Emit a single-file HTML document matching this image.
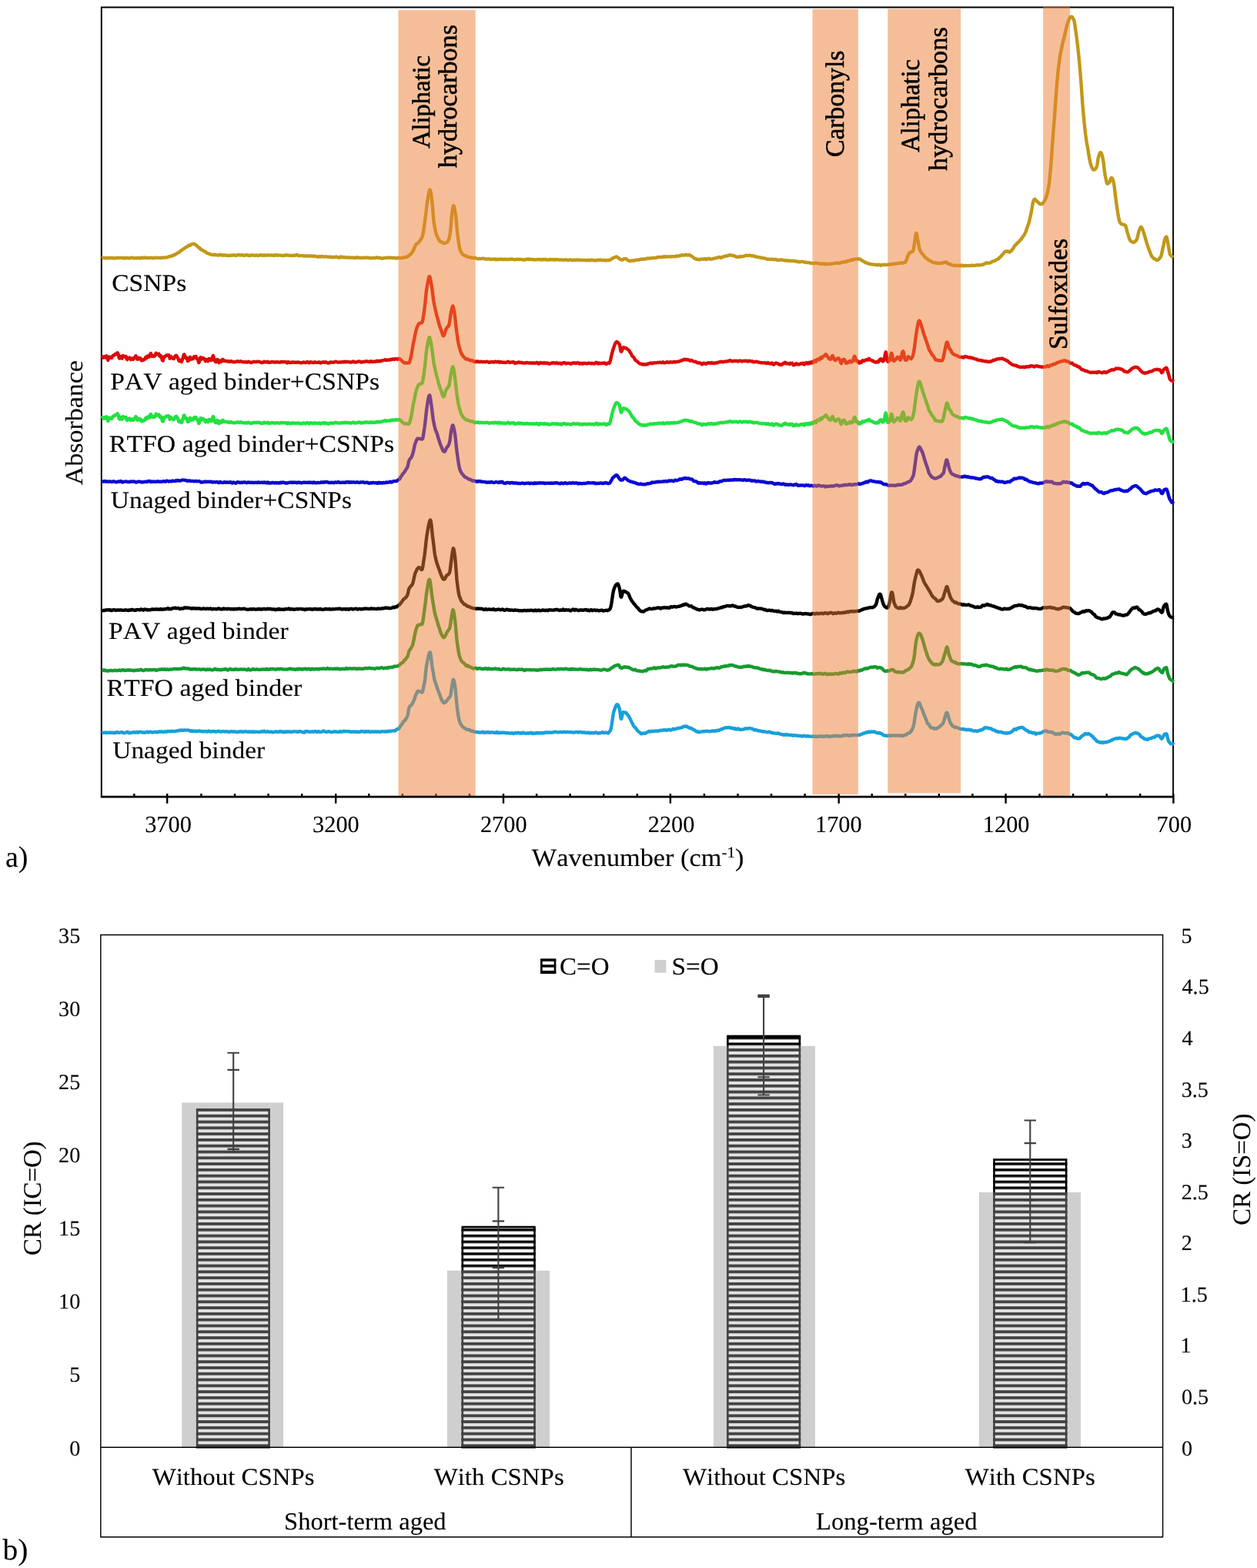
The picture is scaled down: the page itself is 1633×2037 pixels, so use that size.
<!DOCTYPE html>
<html lang="en"><head><meta charset="utf-8"><title>FTIR spectra and carbonyl / sulfoxide change rates</title>
<style>html,body{margin:0;padding:0;background:#fff}body{width:1633px;height:2037px;overflow:hidden}svg{display:block}text{font-family:'Liberation Serif', 'DejaVu Serif', serif;fill:#000;font-kerning:none;text-rendering:geometricPrecision;stroke:#000;stroke-width:0.1px}.bl{stroke-width:0.6px}</style></head><body>
<svg width="1633" height="2037" viewBox="0 0 1633 2037">
<defs><pattern id="hatch" patternUnits="userSpaceOnUse" x="0" y="-0.98" width="40" height="7.79"><rect x="0" y="0" width="40" height="7.79" fill="#fff"/><rect x="0" y="0" width="40" height="3.5" fill="#000"/></pattern></defs>
<defs><pattern id="hatch2" patternUnits="userSpaceOnUse" x="0" y="-1.13" width="40" height="7.79"><rect x="0" y="0" width="40" height="7.79" fill="#E2E2E2"/><rect x="0" y="0" width="40" height="3.8" fill="#424242"/></pattern></defs>
<rect x="0" y="0" width="1633" height="2037" fill="#fff"/>
<g id="chart-a">
<path d="M131.8,1035.1 V9.5 H1524.1 V1035.1" fill="none" stroke="#000" stroke-width="1.9"/>
<path d="M174.34,1030.9 V1035.1 M217.2,1030.9 V1043.7 M261.46,1030.9 V1035.1 M305.03,1030.9 V1035.1 M348.59,1030.9 V1035.1 M392.15,1030.9 V1035.1 M436.2,1030.9 V1043.7 M479.28,1030.9 V1035.1 M522.84,1030.9 V1035.1 M566.41,1030.9 V1035.1 M609.97,1030.9 V1035.1 M654,1030.9 V1043.7 M697.1,1030.9 V1035.1 M740.66,1030.9 V1035.1 M784.22,1030.9 V1035.1 M827.79,1030.9 V1035.1 M870.9,1030.9 V1043.7 M914.91,1030.9 V1035.1 M958.48,1030.9 V1035.1 M1002.04,1030.9 V1035.1 M1045.6,1030.9 V1035.1 M1089.7,1030.9 V1043.7 M1132.73,1030.9 V1035.1 M1176.29,1030.9 V1035.1 M1219.86,1030.9 V1035.1 M1263.42,1030.9 V1035.1 M1306.6,1030.9 V1043.7 M1350.55,1030.9 V1035.1 M1394.11,1030.9 V1035.1 M1437.67,1030.9 V1035.1 M1481.24,1030.9 V1035.1 M1524.4,1030.9 V1043.7" fill="none" stroke="#000" stroke-width="2.4"/>
<g fill="none" stroke-width="4.4" stroke-linejoin="round" stroke-linecap="butt">
<path id="curve-gold" stroke="#C29818" d="M132.2,335.57 132.95,335.28 133.7,335.01 134.45,335.1 135.2,335.11 135.95,335.07 136.7,335.31 137.45,335.32 138.2,335.22 138.95,335.39 139.7,335.32 140.45,334.94 141.2,334.93 141.95,335.24 142.7,335.31 143.45,335.1 144.2,334.99 144.95,335.03 145.7,335.19 146.45,335.22 147.2,335.16 147.95,335.41 148.7,335.55 149.45,335.48 150.2,335.35 150.95,335.12 151.7,334.99 152.45,334.94 153.2,335.07 153.95,335.17 154.7,335.03 155.45,334.93 156.2,334.88 156.95,334.83 157.7,334.91 158.45,334.95 159.2,334.92 159.95,335.23 160.7,335.56 161.45,335.42 162.2,335.06 162.95,334.83 163.7,335.03 164.45,335.37 165.2,335.21 165.95,334.98 166.7,335.27 167.45,335.54 168.2,335.38 168.95,335.24 169.7,335.15 170.45,334.9 171.2,334.75 171.95,334.84 172.7,335.03 173.45,335.22 174.2,335.36 174.95,335.34 175.7,335.27 176.45,335.16 177.2,335.08 177.95,335.24 178.7,335.21 179.45,335.04 180.2,335.06 180.95,335.14 181.7,335.37 182.45,335.64 183.2,335.44 183.95,334.77 184.7,334.49 185.45,334.74 186.2,335.04 186.95,335.19 187.7,334.91 188.45,334.55 189.2,334.77 189.95,335.12 190.7,335.16 191.45,335.11 192.2,334.96 192.95,334.9 193.7,335 194.45,335.06 195.2,335.03 195.95,334.91 196.7,334.84 197.45,334.95 198.2,335.1 198.95,335.29 199.7,335.3 200.45,335.03 201.2,334.78 201.95,334.78 202.7,334.93 203.45,334.92 204.2,334.83 204.95,334.79 205.7,334.83 206.45,334.9 207.2,334.97 207.95,335.1 208.7,335.12 209.45,334.89 210.2,334.69 210.95,334.82 211.7,334.89 212.45,334.66 213.2,334.65 213.95,334.6 214.7,334.45 215.45,334.6 216.2,334.59 216.95,334.26 217.7,333.99 218.45,333.7 219.2,333.42 219.95,333.27 220.7,333.34 221.45,333.16 222.2,332.64 222.95,332.36 223.7,332.48 224.45,332.13 225.2,331.43 225.95,331.4 226.7,331.35 227.45,330.66 228.2,330.11 228.95,329.91 229.7,329.46 230.45,328.76 231.2,328.29 231.95,328.11 232.7,327.67 233.45,326.97 234.2,326.33 234.95,325.73 235.7,325.3 236.45,324.75 237.2,324.06 237.95,323.59 238.7,323.23 239.45,322.75 240.2,322.15 240.95,321.56 241.7,321.12 242.45,320.78 243.2,320.41 243.95,319.95 244.7,319.14 245.45,318.54 246.2,318.74 246.95,318.76 247.7,318.11 248.45,317.52 249.2,317.21 249.95,317.06 250.7,316.88 251.45,316.74 252.2,316.85 252.95,317.21 253.7,317.74 254.45,318.3 255.2,318.87 255.95,319.52 256.7,320.24 257.45,321.06 258.2,321.64 258.95,321.79 259.7,322.42 260.45,323.63 261.2,324.38 261.95,324.48 262.7,324.67 263.45,325.25 264.2,325.84 264.95,326.23 265.7,326.63 266.45,326.89 267.2,327.21 267.95,327.9 268.7,328.6 269.45,329.04 270.2,329.15 270.95,329.36 271.7,329.81 272.45,330.13 273.2,330.27 273.95,330.48 274.7,330.72 275.45,330.93 276.2,331.17 276.95,331.21 277.7,330.88 278.45,330.68 279.2,330.96 279.95,331.26 280.7,331.41 281.45,331.42 282.2,331.33 282.95,331.35 283.7,331.5 284.45,331.58 285.2,331.17 285.95,330.8 286.7,330.89 287.45,331.06 288.2,331.43 288.95,331.82 289.7,331.58 290.45,331.4 291.2,331.63 291.95,331.47 292.7,331.38 293.45,331.72 294.2,331.77 294.95,331.72 295.7,331.86 296.45,331.94 297.2,332 297.95,332.03 298.7,331.98 299.45,331.66 300.2,331.61 300.95,331.92 301.7,331.72 302.45,331.43 303.2,331.42 303.95,331.51 304.7,331.65 305.45,331.73 306.2,331.94 306.95,332.02 307.7,331.63 308.45,331.21 309.2,331.16 309.95,331.17 310.7,331.27 311.45,331.55 312.2,331.55 312.95,331.49 313.7,331.42 314.45,331.23 315.2,331.35 315.95,331.71 316.7,331.75 317.45,331.76 318.2,331.79 318.95,331.48 319.7,331.37 320.45,331.23 321.2,331.2 321.95,331.75 322.7,331.77 323.45,331.63 324.2,331.97 324.95,331.97 325.7,331.69 326.45,331.53 327.2,331.4 327.95,331.38 328.7,331.57 329.45,331.62 330.2,331.71 330.95,331.89 331.7,331.81 332.45,331.71 333.2,331.61 333.95,331.56 334.7,331.85 335.45,332.08 336.2,332 336.95,331.77 337.7,331.42 338.45,331.19 339.2,331.34 339.95,331.68 340.7,331.82 341.45,331.78 342.2,331.54 342.95,331.44 343.7,331.67 344.45,331.8 345.2,331.73 345.95,331.65 346.7,331.64 347.45,331.52 348.2,331.4 348.95,331.48 349.7,331.56 350.45,331.62 351.2,331.63 351.95,331.5 352.7,331.48 353.45,331.57 354.2,331.74 354.95,331.71 355.7,331.54 356.45,331.83 357.2,331.93 357.95,331.43 358.7,331.19 359.45,331.31 360.2,331.62 360.95,331.9 361.7,331.7 362.45,331.52 363.2,331.59 363.95,331.66 364.7,331.8 365.45,331.92 366.2,331.85 366.95,331.92 367.7,332.24 368.45,332.16 369.2,331.83 369.95,331.61 370.7,331.39 371.45,331.38 372.2,331.46 372.95,331.52 373.7,331.57 374.45,331.61 375.2,331.85 375.95,331.91 376.7,331.81 377.45,331.9 378.2,331.96 378.95,332.05 379.7,332.13 380.45,332 381.2,331.75 381.95,331.9 382.7,332.12 383.45,331.73 384.2,331.26 384.95,331.11 385.7,331.07 386.45,331.29 387.2,331.88 387.95,332.25 388.7,332.17 389.45,332.14 390.2,332.17 390.95,332.16 391.7,332.17 392.45,332.24 393.2,332.23 393.95,332.22 394.7,332.52 395.45,332.64 396.2,332.54 396.95,332.51 397.7,332.35 398.45,332.34 399.2,332.49 399.95,332.5 400.7,332.42 401.45,332.4 402.2,332.59 402.95,332.64 403.7,332.48 404.45,332.63 405.2,332.87 405.95,333.02 406.7,332.78 407.45,332.46 408.2,332.82 408.95,333.11 409.7,333.01 410.45,333.05 411.2,333.17 411.95,333.32 412.7,333.55 413.45,333.72 414.2,333.64 414.95,333.14 415.7,332.93 416.45,333.38 417.2,333.61 417.95,333.33 418.7,333.07 419.45,333.27 420.2,333.55 420.95,333.54 421.7,333.49 422.45,333.44 423.2,333.35 423.95,333.29 424.7,333.51 425.45,333.87 426.2,333.86 426.95,333.7 427.7,333.71 428.45,333.68 429.2,333.63 429.95,333.86 430.7,334.19 431.45,334.21 432.2,333.89 432.95,333.88 433.7,334.19 434.45,334.25 435.2,334.07 435.95,333.8 436.7,333.55 437.45,333.74 438.2,334.22 438.95,334.36 439.7,334.39 440.45,334.72 441.2,334.73 441.95,334.1 442.7,333.51 443.45,333.52 444.2,334 444.95,334.43 445.7,334.23 446.45,333.86 447.2,334.2 447.95,334.58 448.7,334.34 449.45,334.37 450.2,334.71 450.95,334.55 451.7,334.34 452.45,334.44 453.2,334.43 453.95,334.49 454.7,334.78 455.45,334.92 456.2,334.77 456.95,334.7 457.7,334.75 458.45,334.7 459.2,334.76 459.95,334.92 460.7,335.05 461.45,335.11 462.2,334.73 462.95,334.23 463.7,334.39 464.45,334.8 465.2,334.8 465.95,334.66 466.7,334.69 467.45,334.81 468.2,334.92 468.95,334.97 469.7,334.93 470.45,335.03 471.2,334.98 471.95,334.85 472.7,334.89 473.45,334.69 474.2,334.67 474.95,334.87 475.7,334.77 476.45,334.67 477.2,334.67 477.95,334.78 478.7,335.1 479.45,335.16 480.2,334.99 480.95,334.98 481.7,335.23 482.45,335.48 483.2,335.3 483.95,335.06 484.7,335.1 485.45,335.05 486.2,335.16 486.95,335.35 487.7,335.1 488.45,334.71 489.2,334.46 489.95,334.62 490.7,334.94 491.45,335.03 492.2,335 492.95,334.83 493.7,334.88 494.45,335.3 495.2,335.52 495.95,335.49 496.7,335.58 497.45,335.68 498.2,335.39 498.95,335.01 499.7,335.05 500.45,335.18 501.2,335.13 501.95,334.99 502.7,334.74 503.45,334.82 504.2,334.89 504.95,334.58 505.7,334.64 506.45,334.81 507.2,334.75 507.95,334.85 508.7,334.91 509.45,334.93 510.2,335.04 510.95,335.05 511.7,335.01 512.45,335 513.2,335.04 513.95,335.33 514.7,335.52 515.45,335.33 516.2,335.04 516.95,334.95 517.7,335.05 518.45,334.93 519.2,334.88 519.95,335.07 520.7,335.16 521.45,335.26 522.2,335.12 522.95,334.7 523.7,334.68 524.45,334.85 525.2,334.68 525.95,334.44 526.7,334.16 527.45,333.77 528.2,333.71 528.95,333.77 529.7,333.32 530.45,332.48 531.2,331.92 531.95,331.48 532.7,330.77 533.45,330.1 534.2,329.46 534.95,328.42 535.7,327.39 536.45,326.39 537.2,324.85 537.95,322.87 538.7,321.16 539.45,319.64 540.2,317.96 540.95,316.92 541.7,316.65 542.45,316.45 543.2,315.75 543.95,314.69 544.7,313.73 545.45,312.87 546.2,311.91 546.95,310.55 547.7,309.2 548.45,307.65 549.2,305.43 549.95,301.73 550.7,296.59 551.45,290.96 552.2,285.27 552.95,279.79 553.7,273.94 554.45,267.43 555.2,261.51 555.95,257.06 556.7,253.08 557.45,248.93 558.2,246.47 558.95,246.92 559.7,250.23 560.45,255.26 561.2,260.93 561.95,268.7 562.7,278.44 563.45,286.96 564.2,292.14 564.95,296.33 565.7,300.07 566.45,303.31 567.2,305.59 567.95,307.05 568.7,308.55 569.45,310.3 570.2,311.79 570.95,312.9 571.7,313.69 572.45,314.03 573.2,314.18 573.95,314.36 574.7,314.88 575.45,315.48 576.2,315.94 576.95,316.09 577.7,315.92 578.45,315.77 579.2,315.52 579.95,315 580.7,314.49 581.45,313.94 582.2,313.17 582.95,311.51 583.7,308.55 584.45,304.54 585.2,299.89 585.95,291.48 586.7,281.85 587.45,275.39 588.2,270 588.95,267.15 589.7,267.65 590.45,270.52 591.2,274.71 591.95,279.07 592.7,285.69 593.45,294.72 594.2,302.75 594.95,308.49 595.7,314.05 596.45,319 597.2,322.75 597.95,325.18 598.7,326.86 599.45,328.23 600.2,329.28 600.95,330.19 601.7,330.9 602.45,331.48 603.2,331.83 603.95,331.89 604.7,332.25 605.45,332.88 606.2,333.16 606.95,333.31 607.7,333.6 608.45,333.85 609.2,334.01 609.95,334.17 610.7,334.21 611.45,334.47 612.2,334.96 612.95,335.03 613.7,334.91 614.45,335.01 615.2,335.1 615.95,335.1 616.7,334.91 617.45,334.94 618.2,335.26 618.95,335.64 619.7,336.02 620.45,336.22 621.2,336.34 621.95,336.25 622.7,335.98 623.45,336.03 624.2,336.26 624.95,336.22 625.7,336.01 626.45,335.93 627.2,335.84 627.95,335.7 628.7,335.89 629.45,336.24 630.2,336.44 630.95,336.42 631.7,336.54 632.45,336.68 633.2,336.52 633.95,336.35 634.7,336.25 635.45,336.48 636.2,336.81 636.95,336.77 637.7,336.59 638.45,336.67 639.2,336.78 639.95,336.74 640.7,336.78 641.45,336.87 642.2,336.75 642.95,336.45 643.7,336.66 644.45,337.35 645.2,337.28 645.95,336.74 646.7,336.8 647.45,337.05 648.2,337.04 648.95,336.83 649.7,336.63 650.45,336.65 651.2,336.74 651.95,336.8 652.7,336.8 653.45,336.92 654.2,337.2 654.95,337.12 655.7,336.73 656.45,336.6 657.2,336.82 657.95,337.07 658.7,337.18 659.45,337.16 660.2,336.98 660.95,336.75 661.7,336.8 662.45,337.04 663.2,336.86 663.95,336.56 664.7,336.45 665.45,336.43 666.2,336.74 666.95,337.03 667.7,337.21 668.45,337.29 669.2,337.17 669.95,337.17 670.7,337.13 671.45,336.79 672.2,336.67 672.95,336.95 673.7,337.02 674.45,336.85 675.2,336.8 675.95,336.97 676.7,337.09 677.45,337.05 678.2,337.13 678.95,337.35 679.7,337.44 680.45,337.65 681.2,337.76 681.95,337.25 682.7,336.83 683.45,336.88 684.2,337 684.95,336.72 685.7,336.35 686.45,336.58 687.2,337.1 687.95,337.16 688.7,336.84 689.45,336.82 690.2,336.96 690.95,337.02 691.7,337.17 692.45,337.23 693.2,337.14 693.95,337.19 694.7,337.4 695.45,337.45 696.2,337.39 696.95,337.28 697.7,337.19 698.45,337.01 699.2,336.86 699.95,336.95 700.7,337.1 701.45,337.32 702.2,337.4 702.95,337.04 703.7,337.07 704.45,337.54 705.2,337.36 705.95,336.98 706.7,337.2 707.45,337.15 708.2,336.83 708.95,336.99 709.7,337.33 710.45,337.55 711.2,337.59 711.95,337.54 712.7,337.53 713.45,337.32 714.2,337.06 714.95,337.13 715.7,337.18 716.45,337.09 717.2,337.2 717.95,337.19 718.7,337.26 719.45,337.59 720.2,337.51 720.95,337.07 721.7,337.07 722.45,337.3 723.2,337.42 723.95,337.36 724.7,337.16 725.45,337.38 726.2,337.61 726.95,337.66 727.7,337.6 728.45,337.48 729.2,337.55 729.95,337.57 730.7,337.58 731.45,337.64 732.2,337.77 732.95,337.65 733.7,337.33 734.45,337.39 735.2,337.53 735.95,337.46 736.7,337.62 737.45,337.94 738.2,338.01 738.95,337.91 739.7,337.57 740.45,337.39 741.2,337.52 741.95,337.81 742.7,338.13 743.45,338.1 744.2,337.93 744.95,337.74 745.7,337.61 746.45,337.71 747.2,337.88 747.95,337.93 748.7,337.73 749.45,337.49 750.2,337.46 750.95,337.7 751.7,337.93 752.45,337.93 753.2,337.77 753.95,337.68 754.7,337.83 755.45,337.94 756.2,337.88 756.95,337.83 757.7,337.9 758.45,337.96 759.2,337.87 759.95,337.88 760.7,338.03 761.45,338.21 762.2,338.32 762.95,338.23 763.7,337.92 764.45,337.71 765.2,338.1 765.95,338.35 766.7,337.87 767.45,337.6 768.2,337.87 768.95,338.16 769.7,338.09 770.45,337.88 771.2,337.99 771.95,338.22 772.7,338.44 773.45,338.62 774.2,338.44 774.95,338.2 775.7,338.09 776.45,337.86 777.2,337.75 777.95,337.96 778.7,337.95 779.45,337.69 780.2,337.69 780.95,337.88 781.7,337.98 782.45,338.01 783.2,338.06 783.95,338.17 784.7,338.05 785.45,337.92 786.2,338.31 786.95,338.46 787.7,338.22 788.45,338.2 789.2,338.11 789.95,337.93 790.7,338.03 791.45,338.08 792.2,337.89 792.95,337.57 793.7,337.05 794.45,336.43 795.2,335.83 795.95,335.34 796.7,335.14 797.45,335.01 798.2,334.46 798.95,333.94 799.7,333.89 800.45,333.6 801.2,333.49 801.95,334.05 802.7,334.67 803.45,335.28 804.2,335.69 804.95,336.17 805.7,336.79 806.45,337.06 807.2,337.35 807.95,337.63 808.7,337.59 809.45,337.24 810.2,336.6 810.95,336.25 811.7,336.17 812.45,336.06 813.2,336.23 813.95,336.64 814.7,337.37 815.45,337.98 816.2,338.28 816.95,338.77 817.7,339.06 818.45,338.99 819.2,338.82 819.95,338.72 820.7,338.49 821.45,338.42 822.2,338.55 822.95,338.56 823.7,338.63 824.45,338.42 825.2,338 825.95,337.87 826.7,337.74 827.45,337.63 828.2,337.62 828.95,337.65 829.7,337.78 830.45,337.53 831.2,337.05 831.95,336.91 832.7,336.69 833.45,336.53 834.2,336.8 834.95,336.94 835.7,336.7 836.45,336.47 837.2,336.43 837.95,336.36 838.7,336.47 839.45,336.51 840.2,336.01 840.95,335.56 841.7,335.64 842.45,335.92 843.2,335.82 843.95,335.41 844.7,335.33 845.45,335.45 846.2,335.51 846.95,335.36 847.7,335 848.45,334.99 849.2,335.2 849.95,335.15 850.7,335.09 851.45,335.06 852.2,334.89 852.95,334.71 853.7,334.41 854.45,334.05 855.2,334.03 855.95,334.22 856.7,334.19 857.45,334.1 858.2,334.07 858.95,333.96 859.7,333.97 860.45,333.9 861.2,333.51 861.95,333.46 862.7,333.91 863.45,333.71 864.2,333.16 864.95,333.35 865.7,333.64 866.45,333.64 867.2,333.55 867.95,333.39 868.7,333.41 869.45,333.43 870.2,333.34 870.95,333.32 871.7,333.44 872.45,333.45 873.2,333.2 873.95,333.09 874.7,333.15 875.45,333.15 876.2,333.22 876.95,333.35 877.7,333.3 878.45,332.79 879.2,332.37 879.95,332.58 880.7,332.77 881.45,332.63 882.2,332.24 882.95,331.95 883.7,332.08 884.45,331.92 885.2,331.48 885.95,331.31 886.7,331.36 887.45,331.49 888.2,331.59 888.95,331.58 889.7,331.21 890.45,330.65 891.2,330.69 891.95,331.3 892.7,331.56 893.45,331.46 894.2,331.4 894.95,331.21 895.7,331.21 896.45,331.65 897.2,332.12 897.95,332.45 898.7,332.75 899.45,333.24 900.2,334.02 900.95,334.7 901.7,335.26 902.45,335.81 903.2,335.98 903.95,336.24 904.7,336.65 905.45,336.88 906.2,336.94 906.95,336.92 907.7,337.02 908.45,337.22 909.2,337.27 909.95,336.91 910.7,336.67 911.45,336.52 912.2,336.34 912.95,336.64 913.7,336.84 914.45,336.56 915.2,336.16 915.95,336.18 916.7,336.65 917.45,337 918.2,336.86 918.95,336.35 919.7,336.11 920.45,336.05 921.2,335.88 921.95,336.1 922.7,336.58 923.45,336.7 924.2,336.59 924.95,336.53 925.7,336.31 926.45,336 927.2,335.83 927.95,335.71 928.7,335.54 929.45,335.33 930.2,335.19 930.95,335.16 931.7,334.9 932.45,334.55 933.2,334.44 933.95,334.16 934.7,333.96 935.45,334.32 936.2,334.74 936.95,334.79 937.7,334.32 938.45,333.79 939.2,333.78 939.95,333.47 940.7,332.93 941.45,332.96 942.2,332.95 942.95,332.64 943.7,332.4 944.45,332.34 945.2,332.25 945.95,331.86 946.7,331.58 947.45,331.56 948.2,331.34 948.95,331.22 949.7,331.53 950.45,331.7 951.2,331.74 951.95,331.84 952.7,331.94 953.45,332.17 954.2,332.53 954.95,332.98 955.7,333.39 956.45,333.53 957.2,333.79 957.95,334.01 958.7,333.67 959.45,333.53 960.2,333.79 960.95,333.62 961.7,333.3 962.45,333.27 963.2,333.38 963.95,333.38 964.7,333.2 965.45,333.12 966.2,332.92 966.95,332.57 967.7,332.42 968.45,332.1 969.2,331.72 969.95,331.8 970.7,332.08 971.45,332.16 972.2,332.06 972.95,331.83 973.7,331.65 974.45,331.96 975.2,332.21 975.95,332.15 976.7,332.2 977.45,332.37 978.2,332.56 978.95,332.49 979.7,332.4 980.45,332.96 981.2,333.55 981.95,333.55 982.7,333.47 983.45,333.59 984.2,333.82 984.95,334.02 985.7,334.23 986.45,334.41 987.2,334.43 987.95,334.65 988.7,334.96 989.45,334.95 990.2,335.02 990.95,335.3 991.7,335.37 992.45,335.44 993.2,335.63 993.95,335.83 994.7,335.95 995.45,336.14 996.2,336.57 996.95,336.78 997.7,336.63 998.45,336.58 999.2,336.62 999.95,336.8 1000.7,337.03 1001.45,336.9 1002.2,336.69 1002.95,336.7 1003.7,336.86 1004.45,337.15 1005.2,337.23 1005.95,336.96 1006.7,336.87 1007.45,336.91 1008.2,337.13 1008.95,337.59 1009.7,337.88 1010.45,337.86 1011.2,337.71 1011.95,337.78 1012.7,337.73 1013.45,337.58 1014.2,337.55 1014.95,337.51 1015.7,337.65 1016.45,337.83 1017.2,337.83 1017.95,337.97 1018.7,338.25 1019.45,338.41 1020.2,338.44 1020.95,338.5 1021.7,338.56 1022.45,338.56 1023.2,338.5 1023.95,338.34 1024.7,338.57 1025.45,339 1026.2,338.87 1026.95,338.8 1027.7,339.06 1028.45,338.97 1029.2,338.69 1029.95,338.76 1030.7,339.01 1031.45,338.98 1032.2,339.08 1032.95,339.4 1033.7,339.47 1034.45,339.42 1035.2,339.58 1035.95,340.02 1036.7,340.17 1037.45,339.9 1038.2,340.06 1038.95,340.44 1039.7,340.3 1040.45,339.96 1041.2,339.89 1041.95,339.92 1042.7,339.95 1043.45,340.14 1044.2,340.35 1044.95,340.49 1045.7,340.7 1046.45,340.72 1047.2,340.75 1047.95,340.97 1048.7,341.06 1049.45,341.15 1050.2,341.33 1050.95,341.32 1051.7,341.31 1052.45,341.46 1053.2,341.78 1053.95,342.13 1054.7,342.1 1055.45,342.01 1056.2,341.99 1056.95,341.94 1057.7,342.01 1058.45,341.85 1059.2,341.64 1059.95,341.79 1060.7,341.9 1061.45,341.84 1062.2,341.97 1062.95,342.19 1063.7,342.31 1064.45,342.5 1065.2,342.85 1065.95,342.75 1066.7,342.59 1067.45,342.86 1068.2,342.77 1068.95,342.48 1069.7,342.58 1070.45,343.01 1071.2,343.18 1071.95,342.82 1072.7,342.52 1073.45,342.72 1074.2,343.25 1074.95,343.34 1075.7,343.01 1076.45,342.9 1077.2,342.84 1077.95,342.84 1078.7,342.94 1079.45,342.87 1080.2,342.67 1080.95,342.58 1081.7,342.56 1082.45,342.41 1083.2,342.31 1083.95,342.15 1084.7,341.88 1085.45,341.83 1086.2,341.87 1086.95,341.73 1087.7,341.42 1088.45,341.47 1089.2,341.88 1089.95,341.94 1090.7,341.83 1091.45,341.74 1092.2,341.39 1092.95,341.09 1093.7,340.8 1094.45,340.35 1095.2,340.35 1095.95,340.61 1096.7,340.36 1097.45,340.05 1098.2,340.16 1098.95,340.2 1099.7,339.88 1100.45,339.4 1101.2,339.04 1101.95,338.95 1102.7,338.8 1103.45,338.54 1104.2,338.4 1104.95,338.23 1105.7,337.75 1106.45,337.39 1107.2,337.67 1107.95,337.74 1108.7,337.11 1109.45,336.77 1110.2,336.88 1110.95,336.72 1111.7,336.63 1112.45,336.67 1113.2,336.49 1113.95,336.38 1114.7,336.42 1115.45,336.64 1116.2,336.63 1116.95,336.52 1117.7,336.85 1118.45,337.42 1119.2,338.03 1119.95,338.59 1120.7,339 1121.45,339.42 1122.2,339.81 1122.95,340.11 1123.7,340.69 1124.45,341.28 1125.2,341.48 1125.95,341.52 1126.7,341.84 1127.45,342.28 1128.2,342.42 1128.95,342.53 1129.7,342.79 1130.45,343.09 1131.2,343.24 1131.95,343.21 1132.7,343.34 1133.45,343.57 1134.2,343.66 1134.95,343.64 1135.7,343.66 1136.45,343.73 1137.2,343.81 1137.95,343.85 1138.7,344.16 1139.45,344.46 1140.2,344.06 1140.95,343.7 1141.7,343.8 1142.45,343.97 1143.2,344.3 1143.95,344.72 1144.7,344.79 1145.45,344.26 1146.2,343.85 1146.95,343.99 1147.7,344 1148.45,343.89 1149.2,343.96 1149.95,344.05 1150.7,344.06 1151.45,344.13 1152.2,344.05 1152.95,343.81 1153.7,343.78 1154.45,343.75 1155.2,343.59 1155.95,343.52 1156.7,343.38 1157.45,343.29 1158.2,343.38 1158.95,343.36 1159.7,343.11 1160.45,342.92 1161.2,342.71 1161.95,342.57 1162.7,342.63 1163.45,342.52 1164.2,342.46 1164.95,342.45 1165.7,342.4 1166.45,342.36 1167.2,342.21 1167.95,341.82 1168.7,341.62 1169.45,341.82 1170.2,341.78 1170.95,341.55 1171.7,341.69 1172.45,341.84 1173.2,341.54 1173.95,341.14 1174.7,341.02 1175.45,341 1176.2,340.36 1176.95,339.05 1177.7,337.46 1178.45,335.09 1179.2,332.99 1179.95,331.61 1180.7,330.12 1181.45,328.82 1182.2,328.09 1182.95,327.74 1183.7,327.34 1184.45,327.17 1185.2,327.02 1185.95,326.41 1186.7,324.24 1187.45,319.93 1188.2,314.87 1188.95,309.74 1189.7,304.34 1190.45,302.71 1191.2,305.92 1191.95,310.52 1192.7,313.99 1193.45,317.66 1194.2,321.62 1194.95,324.68 1195.7,326.36 1196.45,327.59 1197.2,328.64 1197.95,329.56 1198.7,330.43 1199.45,331.12 1200.2,331.97 1200.95,333.18 1201.7,334.25 1202.45,334.84 1203.2,335.26 1203.95,335.68 1204.7,336.24 1205.45,337.02 1206.2,337.64 1206.95,338.06 1207.7,338.44 1208.45,338.74 1209.2,339.03 1209.95,339.65 1210.7,340.27 1211.45,340.68 1212.2,340.97 1212.95,341 1213.7,341.09 1214.45,341.19 1215.2,341.42 1215.95,341.96 1216.7,342.07 1217.45,341.76 1218.2,341.75 1218.95,342.08 1219.7,342.25 1220.45,342.13 1221.2,341.99 1221.95,341.86 1222.7,341.91 1223.45,342.1 1224.2,341.83 1224.95,341.29 1225.7,341.08 1226.45,340.85 1227.2,340.78 1227.95,340.95 1228.7,340.57 1229.45,340.35 1230.2,341.16 1230.95,342.14 1231.7,342.6 1232.45,342.91 1233.2,343.13 1233.95,343.06 1234.7,343.37 1235.45,343.98 1236.2,344.35 1236.95,344.6 1237.7,344.63 1238.45,344.65 1239.2,344.89 1239.95,345.08 1240.7,345.04 1241.45,344.82 1242.2,344.79 1242.95,344.94 1243.7,345.07 1244.45,345.02 1245.2,344.84 1245.95,344.81 1246.7,345.13 1247.45,345.46 1248.2,345.11 1248.95,344.42 1249.7,344.66 1250.45,345.32 1251.2,345.24 1251.95,345.15 1252.7,345.32 1253.45,345.17 1254.2,344.93 1254.95,345.14 1255.7,345.27 1256.45,345.08 1257.2,345.12 1257.95,345.05 1258.7,345.1 1259.45,345.27 1260.2,345.11 1260.95,345.02 1261.7,344.8 1262.45,344.57 1263.2,344.84 1263.95,345.08 1264.7,345 1265.45,344.95 1266.2,344.91 1266.95,344.78 1267.7,344.7 1268.45,344.52 1269.2,344.27 1269.95,344.2 1270.7,344.25 1271.45,344.47 1272.2,344.48 1272.95,344.31 1273.7,344.34 1274.45,344.27 1275.2,343.98 1275.95,343.75 1276.7,343.73 1277.45,343.56 1278.2,343.06 1278.95,342.85 1279.7,342.68 1280.45,341.93 1281.2,341.39 1281.95,341.53 1282.7,341.81 1283.45,341.85 1284.2,341.68 1284.95,341.57 1285.7,341.63 1286.45,341.53 1287.2,340.99 1287.95,340.4 1288.7,340.11 1289.45,339.81 1290.2,339.44 1290.95,339.19 1291.7,339.11 1292.45,338.96 1293.2,338.46 1293.95,337.76 1294.7,337.26 1295.45,336.98 1296.2,336.72 1296.95,336.3 1297.7,335.53 1298.45,334.65 1299.2,333.95 1299.95,333.39 1300.7,332.63 1301.45,331.52 1302.2,330.63 1302.95,330.06 1303.7,329.09 1304.45,328.08 1305.2,327.43 1305.95,326.73 1306.7,326.4 1307.45,326.68 1308.2,326.72 1308.95,326.37 1309.7,326.48 1310.45,327.1 1311.2,327.51 1311.95,327.3 1312.7,326.65 1313.45,326.16 1314.2,325.44 1314.95,324.28 1315.7,323.32 1316.45,322.44 1317.2,321.09 1317.95,319.61 1318.7,318.94 1319.45,318.41 1320.2,317.28 1320.95,316.44 1321.7,315.82 1322.45,315.09 1323.2,314.54 1323.95,313.68 1324.7,312.64 1325.45,311.85 1326.2,311.16 1326.95,310.37 1327.7,309.15 1328.45,307.93 1329.2,307 1329.95,306.13 1330.7,305.07 1331.45,303.51 1332.2,301.83 1332.95,300.02 1333.7,297.81 1334.45,295.57 1335.2,293.54 1335.95,291.61 1336.7,289.2 1337.45,286.05 1338.2,282.66 1338.95,279.27 1339.7,275.96 1340.45,271.94 1341.2,266.89 1341.95,262.67 1342.7,260.64 1343.45,259.28 1344.2,258.65 1344.95,259.09 1345.7,259.98 1346.45,260.86 1347.2,261.71 1347.95,262.43 1348.7,262.95 1349.45,263.5 1350.2,264.36 1350.95,265.01 1351.7,264.92 1352.45,264.89 1353.2,265.1 1353.95,264.77 1354.7,264.1 1355.45,263.17 1356.2,262.34 1356.95,261.31 1357.7,259.35 1358.45,257.53 1359.2,255.83 1359.95,253.43 1360.7,250.41 1361.45,247.06 1362.2,243.45 1362.95,238.91 1363.7,231.81 1364.45,223.43 1365.2,214.61 1365.95,205.16 1366.7,194.93 1367.45,184.31 1368.2,173.94 1368.95,164.16 1369.7,154.26 1370.45,144.24 1371.2,134.16 1371.95,123.59 1372.7,113.32 1373.45,104.48 1374.2,96.61 1374.95,89.6 1375.7,83.25 1376.45,77.21 1377.2,72.09 1377.95,68.1 1378.7,64.71 1379.45,61.22 1380.2,57.54 1380.95,54.2 1381.7,51.38 1382.45,48.53 1383.2,45.27 1383.95,41.81 1384.7,38.48 1385.45,35.47 1386.2,32.72 1386.95,30.5 1387.7,28.5 1388.45,26.37 1389.2,24.48 1389.95,22.81 1390.7,21.96 1391.45,21.81 1392.2,21.62 1392.95,22.17 1393.7,23.6 1394.45,24.68 1395.2,26.14 1395.95,29.63 1396.7,34.39 1397.45,39.89 1398.2,45.25 1398.95,50.61 1399.7,56.65 1400.45,63.33 1401.2,70.52 1401.95,77.82 1402.7,86.09 1403.45,95.19 1404.2,104.64 1404.95,114.81 1405.7,125.51 1406.45,135.74 1407.2,144.63 1407.95,152.98 1408.7,160.83 1409.45,167.97 1410.2,174.33 1410.95,179.92 1411.7,185.07 1412.45,189.23 1413.2,193.17 1413.95,197.8 1414.7,202.41 1415.45,206.78 1416.2,210.48 1416.95,213.41 1417.7,215.61 1418.45,217.39 1419.2,218.93 1419.95,220.11 1420.7,220.62 1421.45,220.52 1422.2,220.28 1422.95,219.78 1423.7,218.75 1424.45,217.33 1425.2,215.09 1425.95,210.54 1426.7,205.42 1427.45,202.61 1428.2,200.62 1428.95,198.77 1429.7,197.95 1430.45,198.52 1431.2,200.2 1431.95,202.51 1432.7,205.45 1433.45,210.28 1434.2,216.57 1434.95,222.96 1435.7,227.62 1436.45,231.16 1437.2,235.1 1437.95,237.96 1438.7,238.71 1439.45,238.36 1440.2,237.8 1440.95,237.1 1441.7,236.27 1442.45,233.87 1443.2,231.55 1443.95,231.05 1444.7,231.35 1445.45,232.78 1446.2,235 1446.95,238.04 1447.7,242.99 1448.45,249.13 1449.2,255.43 1449.95,261.29 1450.7,266.83 1451.45,272.05 1452.2,276.92 1452.95,281.32 1453.7,285.08 1454.45,287.77 1455.2,289.24 1455.95,290.38 1456.7,290.95 1457.45,291.18 1458.2,291.44 1458.95,291.67 1459.7,291.83 1460.45,292.01 1461.2,292.35 1461.95,292.84 1462.7,294.52 1463.45,297.43 1464.2,300.7 1464.95,303.19 1465.7,305.22 1466.45,307.93 1467.2,310.31 1467.95,311.88 1468.7,312.83 1469.45,313.3 1470.2,313.9 1470.95,314.46 1471.7,314.62 1472.45,314.69 1473.2,314.71 1473.95,314.3 1474.7,313.64 1475.45,312.87 1476.2,311.99 1476.95,310.79 1477.7,308.09 1478.45,304.8 1479.2,301.71 1479.95,299.3 1480.7,297.48 1481.45,295.86 1482.2,294.89 1482.95,295.33 1483.7,296.49 1484.45,298.09 1485.2,300.35 1485.95,302.59 1486.7,304.99 1487.45,307.91 1488.2,310.5 1488.95,312.82 1489.7,315.45 1490.45,317.75 1491.2,319.87 1491.95,322.13 1492.7,324.24 1493.45,326.17 1494.2,328.13 1494.95,330.07 1495.7,331.83 1496.45,333.1 1497.2,333.97 1497.95,334.8 1498.7,335.64 1499.45,336.23 1500.2,336.41 1500.95,336.72 1501.7,337.34 1502.45,337.77 1503.2,337.86 1503.95,337.74 1504.7,337.41 1505.45,336.72 1506.2,335.77 1506.95,334.94 1507.7,334.11 1508.45,332.4 1509.2,329.4 1509.95,325.74 1510.7,322.34 1511.45,319.22 1512.2,315.49 1512.95,312.03 1513.7,309.64 1514.45,308.21 1515.2,307.5 1515.95,309 1516.7,312.79 1517.45,316.81 1518.2,321.13 1518.95,325.92 1519.7,329.72 1520.45,331.11 1521.2,331.92 1521.95,332.7 1522.7,333.38 1523.45,333.98 1524.1,334.36"/>
<path id="curve-red" stroke="#DE0A0A" d="M132.2,464.55 132.95,463.44 133.7,463.42 134.45,464.67 135.2,463.32 135.95,463.18 136.7,464.32 137.45,463.07 138.2,462.26 138.95,463.42 139.7,466.36 140.45,467.98 141.2,465.48 141.95,463.61 142.7,464.17 143.45,464.08 144.2,464.68 144.95,465.06 145.7,463.52 146.45,462.29 147.2,461.65 147.95,461.78 148.7,461.51 149.45,460.22 150.2,459.98 150.95,460.02 151.7,459.13 152.45,458.27 153.2,459.25 153.95,461.71 154.7,464.91 155.45,465.57 156.2,462.86 156.95,463.02 157.7,465.17 158.45,465.61 159.2,463.96 159.95,462.03 160.7,462.52 161.45,463.31 162.2,463.5 162.95,463 163.7,463 164.45,466.02 165.2,467.12 165.95,465.57 166.7,465.56 167.45,465.19 168.2,464.61 168.95,466.04 169.7,467.11 170.45,466.12 171.2,465.54 171.95,466.15 172.7,466.99 173.45,466.47 174.2,464.65 174.95,464.3 175.7,463.47 176.45,462.21 177.2,463.73 177.95,465.86 178.7,466.91 179.45,466.11 180.2,464.82 180.95,465.6 181.7,465.62 182.45,465.53 183.2,467.69 183.95,468.36 184.7,467.74 185.45,468 186.2,467.69 186.95,466.67 187.7,466.92 188.45,466.51 189.2,464.04 189.95,464.57 190.7,464.92 191.45,462.61 192.2,462.48 192.95,463.35 193.7,463.79 194.45,462.95 195.2,459.89 195.95,459.08 196.7,461.96 197.45,462.89 198.2,461.75 198.95,462.19 199.7,463.04 200.45,462.75 201.2,462.4 201.95,460.82 202.7,458.64 203.45,459.45 204.2,460.19 204.95,460.41 205.7,460.26 206.45,459.7 207.2,462.12 207.95,462.99 208.7,462 209.45,462.93 210.2,465.15 210.95,468.15 211.7,468.41 212.45,465.68 213.2,463.52 213.95,463.01 214.7,462.98 215.45,462.25 216.2,461.47 216.95,461.48 217.7,461.7 218.45,461.49 219.2,461.24 219.95,463.46 220.7,465.69 221.45,463.65 222.2,463.01 222.95,464.8 223.7,465.1 224.45,465.42 225.2,466.12 225.95,466.07 226.7,464.16 227.45,462.68 228.2,462.42 228.95,461.73 229.7,462.72 230.45,464.09 231.2,465.37 231.95,467.56 232.7,468.94 233.45,468.6 234.2,467.86 234.95,469.12 235.7,469.99 236.45,468.38 237.2,466.32 237.95,464.28 238.7,460.82 239.45,460.52 240.2,463.92 240.95,464.65 241.7,464.09 242.45,464.61 243.2,466.8 243.95,468.97 244.7,468.76 245.45,467.54 246.2,465.25 246.95,463.88 247.7,465.33 248.45,466.63 249.2,466.12 249.95,465.94 250.7,466.23 251.45,464.29 252.2,463.33 252.95,464.74 253.7,463.94 254.45,463.02 255.2,464.72 255.95,466.12 256.7,466.12 257.45,468.44 258.2,471.12 258.95,469.81 259.7,466.56 260.45,464.19 261.2,465.28 261.95,466.65 262.7,465.28 263.45,464.85 264.2,465.79 264.95,465.64 265.7,466.06 266.45,468.32 267.2,469.17 267.95,467.74 268.7,466.97 269.45,468.1 270.2,469.14 270.95,467.92 271.7,465.97 272.45,466.43 273.2,467.76 273.95,468.11 274.7,467.86 275.45,465.99 276.2,463.29 276.95,462.16 277.7,464.2 278.45,467.77 279.2,469.17 279.95,469.94 280.7,470.24 281.45,468.38 282.2,467 282.95,467.59 283.7,469.43 284.45,471.28 285.2,470.32 285.95,468.6 286.7,469.62 287.45,469.69 288.2,468.11 288.95,467.12 289.7,466.92 290.45,468.87 291.2,468.88 291.95,468.58 292.7,468.81 293.45,469.11 294.2,469.18 294.95,469.4 295.7,469.44 296.45,469.16 297.2,469.54 297.95,470.12 298.7,469.76 299.45,469.32 300.2,469.27 300.95,469.41 301.7,469.89 302.45,470.19 303.2,470.3 303.95,470.32 304.7,470.25 305.45,470.27 306.2,470.01 306.95,469.6 307.7,469.47 308.45,469.3 309.2,469.44 309.95,469.95 310.7,469.8 311.45,469.59 312.2,469.37 312.95,469.28 313.7,469.77 314.45,470.05 315.2,470.2 315.95,470.28 316.7,470.2 317.45,470.37 318.2,470.46 318.95,470.24 319.7,470.27 320.45,470.47 321.2,470.48 321.95,470.05 322.7,469.66 323.45,470.09 324.2,470.5 324.95,470.47 325.7,470.79 326.45,471.07 327.2,470.84 327.95,470.51 328.7,470.12 329.45,469.95 330.2,469.98 330.95,470.04 331.7,470.13 332.45,470.12 333.2,470.02 333.95,469.71 334.7,469.6 335.45,469.81 336.2,469.91 336.95,469.99 337.7,470.12 338.45,470.43 339.2,470.96 339.95,471.19 340.7,470.87 341.45,470.72 342.2,470.66 342.95,469.92 343.7,469.66 344.45,470.26 345.2,470.52 345.95,470.46 346.7,470.23 347.45,469.81 348.2,470.08 348.95,470.88 349.7,470.92 350.45,470.76 351.2,470.85 351.95,470.4 352.7,470.22 353.45,470.34 354.2,470.12 354.95,470.16 355.7,470.34 356.45,470.52 357.2,470.85 357.95,470.69 358.7,470.18 359.45,470.19 360.2,470.49 360.95,470.43 361.7,470.36 362.45,470.69 363.2,470.78 363.95,470.61 364.7,470.45 365.45,469.92 366.2,469.88 366.95,470.34 367.7,470.23 368.45,470.08 369.2,470.22 369.95,470.37 370.7,470.34 371.45,470.11 372.2,470.73 372.95,471.53 373.7,470.81 374.45,470.09 375.2,470.55 375.95,471.07 376.7,471.13 377.45,470.75 378.2,470.62 378.95,471.04 379.7,470.75 380.45,470.25 381.2,470.5 381.95,470.81 382.7,470.84 383.45,470.77 384.2,470.81 384.95,470.87 385.7,470.81 386.45,470.62 387.2,470.47 387.95,470.65 388.7,470.87 389.45,471.08 390.2,471.24 390.95,471.09 391.7,471.2 392.45,471.37 393.2,471.03 393.95,470.68 394.7,470.5 395.45,470.78 396.2,471.17 396.95,471.18 397.7,470.94 398.45,470.27 399.2,470.04 399.95,470.26 400.7,470.64 401.45,471.42 402.2,471.22 402.95,470.38 403.7,470.26 404.45,470.45 405.2,470.63 405.95,470.79 406.7,471.11 407.45,471.17 408.2,470.57 408.95,470.27 409.7,470.55 410.45,470.8 411.2,470.89 411.95,470.84 412.7,470.87 413.45,470.78 414.2,470.49 414.95,470.51 415.7,471.12 416.45,471.6 417.2,471.2 417.95,470.76 418.7,470.77 419.45,470.49 420.2,470.21 420.95,470.68 421.7,471.02 422.45,470.5 423.2,470.2 423.95,470.79 424.7,471.32 425.45,471.26 426.2,471.34 426.95,471.64 427.7,471.48 428.45,470.94 429.2,470.55 429.95,470.47 430.7,470.6 431.45,470.58 432.2,470.56 432.95,470.83 433.7,470.68 434.45,470.47 435.2,470.31 435.95,469.78 436.7,469.73 437.45,470.21 438.2,470.49 438.95,470.61 439.7,470.7 440.45,470.56 441.2,470.37 441.95,470.42 442.7,470.59 443.45,470.55 444.2,470.41 444.95,470.11 445.7,469.89 446.45,470.27 447.2,470.48 447.95,469.94 448.7,469.63 449.45,470.09 450.2,470.33 450.95,470 451.7,469.98 452.45,470.2 453.2,470.24 453.95,470.49 454.7,470.68 455.45,470.43 456.2,470.34 456.95,470.45 457.7,470.18 458.45,469.75 459.2,469.56 459.95,469.99 460.7,470.61 461.45,470.56 462.2,470.46 462.95,470.34 463.7,470.08 464.45,470.11 465.2,469.74 465.95,469.35 466.7,469.56 467.45,469.69 468.2,469.89 468.95,470.51 469.7,470.78 470.45,470.25 471.2,469.99 471.95,470.18 472.7,470.14 473.45,469.84 474.2,469.5 474.95,469.51 475.7,469.6 476.45,469.48 477.2,469.38 477.95,469.63 478.7,469.85 479.45,469.92 480.2,470.17 480.95,469.83 481.7,469.25 482.45,469.43 483.2,470.04 483.95,470.11 484.7,469.73 485.45,469.7 486.2,469.7 486.95,469.63 487.7,469.81 488.45,469.62 489.2,468.8 489.95,468.63 490.7,469.27 491.45,469.62 492.2,469.37 492.95,468.75 493.7,468.9 494.45,469.24 495.2,468.88 495.95,468.64 496.7,468.45 497.45,468.09 498.2,468.1 498.95,468.12 499.7,467.51 500.45,467.15 501.2,467.54 501.95,467.97 502.7,467.96 503.45,467.72 504.2,467.49 504.95,467.42 505.7,467.64 506.45,467.74 507.2,467.17 507.95,466.77 508.7,467.1 509.45,466.93 510.2,466.48 510.95,466.4 511.7,466.73 512.45,467.13 513.2,466.55 513.95,465.97 514.7,466.22 515.45,466.53 516.2,466.82 516.95,466.47 517.7,465.88 518.45,465.95 519.2,466.33 519.95,466.87 520.7,467.39 521.45,468.02 522.2,469 522.95,469.58 523.7,470.06 524.45,471.01 525.2,471.47 525.95,471.47 526.7,471.45 527.45,471.22 528.2,471.43 528.95,471.7 529.7,471.64 530.45,471.56 531.2,471.61 531.95,470.67 532.7,468.17 533.45,465.34 534.2,462.36 534.95,458.23 535.7,453.63 536.45,448.86 537.2,444.83 537.95,441.69 538.7,437.77 539.45,433.78 540.2,430.6 540.95,427.74 541.7,425.58 542.45,424.03 543.2,422.06 543.95,420.56 544.7,420.29 545.45,420.06 546.2,419.55 546.95,419.22 547.7,419.16 548.45,418.8 549.2,416.06 549.95,411.59 550.7,406.57 551.45,401.27 552.2,394.98 552.95,387.37 553.7,379.61 554.45,373.9 555.2,369.79 555.95,366.03 556.7,362.28 557.45,359.47 558.2,359.23 558.95,361.81 559.7,365.65 560.45,369.84 561.2,374.35 561.95,380.1 562.7,386.25 563.45,391.59 564.2,395.6 564.95,399.16 565.7,402.57 566.45,406.07 567.2,409.06 567.95,411.69 568.7,414.43 569.45,417.52 570.2,420.54 570.95,422.76 571.7,424.99 572.45,427.18 573.2,429.04 573.95,431.26 574.7,433.68 575.45,435.58 576.2,436.33 576.95,435.54 577.7,433.47 578.45,430.71 579.2,428.33 579.95,426.82 580.7,425.54 581.45,424.67 582.2,424.17 582.95,423 583.7,420.72 584.45,416.23 585.2,410.56 585.95,405.74 586.7,402.46 587.45,399.28 588.2,397.58 588.95,398.83 589.7,402.42 590.45,407.14 591.2,412.66 591.95,419.58 592.7,426.59 593.45,432.59 594.2,437.59 594.95,442.55 595.7,446.87 596.45,450.13 597.2,452.67 597.95,455.19 598.7,457.59 599.45,459.33 600.2,460.68 600.95,461.68 601.7,462.75 602.45,463.88 603.2,464.58 603.95,465.17 604.7,465.92 605.45,466.62 606.2,466.67 606.95,466.33 607.7,466.64 608.45,467.22 609.2,467.36 609.95,467.7 610.7,468.32 611.45,468.45 612.2,468.23 612.95,468.07 613.7,468.47 614.45,468.87 615.2,469.08 615.95,469.87 616.7,470.22 617.45,469.53 618.2,469.48 618.95,470.15 619.7,470.09 620.45,469.51 621.2,469.42 621.95,469.85 622.7,470.25 623.45,470.23 624.2,469.82 624.95,469.66 625.7,469.77 626.45,470 627.2,470.4 627.95,470.32 628.7,469.93 629.45,469.86 630.2,470.1 630.95,470.28 631.7,469.99 632.45,469.66 633.2,469.82 633.95,470.2 634.7,470.62 635.45,470.9 636.2,470.83 636.95,470.42 637.7,470.18 638.45,470.28 639.2,470.16 639.95,470.06 640.7,470.31 641.45,470.58 642.2,470.48 642.95,469.89 643.7,469.72 644.45,470.07 645.2,470.28 645.95,470.35 646.7,470.1 647.45,469.76 648.2,470.09 648.95,470.73 649.7,470.63 650.45,470.31 651.2,470.3 651.95,470.51 652.7,470.8 653.45,470.74 654.2,470.8 654.95,470.79 655.7,470.59 656.45,471.07 657.2,471.16 657.95,470.58 658.7,470.42 659.45,470.08 660.2,469.8 660.95,470.31 661.7,471 662.45,471.14 663.2,470.77 663.95,470.53 664.7,470.57 665.45,470.59 666.2,470.32 666.95,470.14 667.7,470.58 668.45,471.35 669.2,471.88 669.95,471.66 670.7,471.22 671.45,471.23 672.2,471.2 672.95,470.72 673.7,470.36 674.45,470.67 675.2,471.12 675.95,471.19 676.7,470.97 677.45,470.9 678.2,471.15 678.95,471.45 679.7,471.55 680.45,471.5 681.2,471.38 681.95,471.34 682.7,471.56 683.45,471.38 684.2,471.02 684.95,471.24 685.7,471.35 686.45,471.34 687.2,471.56 687.95,471.64 688.7,471.51 689.45,471.39 690.2,471.64 690.95,471.8 691.7,471.55 692.45,471.39 693.2,471.46 693.95,471.65 694.7,471.77 695.45,471.79 696.2,471.51 696.95,471.04 697.7,470.98 698.45,471.39 699.2,472.11 699.95,472.6 700.7,472.22 701.45,471.32 702.2,471.05 702.95,471.55 703.7,471.61 704.45,471.48 705.2,471.82 705.95,471.81 706.7,471.31 707.45,471.23 708.2,471.76 708.95,471.89 709.7,471.55 710.45,471.37 711.2,471.7 711.95,472.2 712.7,472.46 713.45,472.67 714.2,472.5 714.95,472.22 715.7,472.17 716.45,471.78 717.2,471.29 717.95,471.46 718.7,471.69 719.45,471.51 720.2,471.33 720.95,471.63 721.7,471.97 722.45,471.53 723.2,471.18 723.95,471.56 724.7,472.2 725.45,472.28 726.2,471.96 726.95,471.82 727.7,471.68 728.45,472.15 729.2,472.85 729.95,472.58 730.7,471.81 731.45,471.41 732.2,471.37 732.95,471.08 733.7,471.09 734.45,471.83 735.2,472.2 735.95,472.21 736.7,471.98 737.45,471.75 738.2,471.9 738.95,471.84 739.7,471.92 740.45,472.27 741.2,472.62 741.95,472.75 742.7,472.26 743.45,471.66 744.2,471.53 744.95,471.67 745.7,471.46 746.45,471.31 747.2,471.73 747.95,472.03 748.7,471.74 749.45,471.54 750.2,471.58 750.95,471.29 751.7,471.46 752.45,472.16 753.2,472.52 753.95,472.33 754.7,471.91 755.45,471.97 756.2,472.43 756.95,472.68 757.7,472.18 758.45,471.79 759.2,471.99 759.95,471.95 760.7,471.93 761.45,472.22 762.2,472.4 762.95,472.35 763.7,472.05 764.45,471.63 765.2,471.66 765.95,471.83 766.7,471.96 767.45,472.29 768.2,472.05 768.95,471.82 769.7,472.1 770.45,472.25 771.2,472.31 771.95,472.43 772.7,472.43 773.45,471.71 774.2,470.91 774.95,470.82 775.7,471.24 776.45,472.11 777.2,472.53 777.95,471.91 778.7,471.56 779.45,471.98 780.2,472.09 780.95,471.92 781.7,471.97 782.45,471.79 783.2,471.65 783.95,471.86 784.7,471.7 785.45,471.48 786.2,471.92 786.95,472.67 787.7,472.98 788.45,472.57 789.2,471.8 789.95,471.55 790.7,471.82 791.45,471.93 792.2,470.96 792.95,468.4 793.7,465.03 794.45,461.64 795.2,458.64 795.95,455.72 796.7,453.25 797.45,451.24 798.2,449.13 798.95,446.9 799.7,445.47 800.45,444.49 801.2,444 801.95,444.41 802.7,444.95 803.45,445.68 804.2,446.62 804.95,447.86 805.7,451.8 806.45,456.18 807.2,456.86 807.95,455.4 808.7,453.34 809.45,451.57 810.2,451.24 810.95,451.59 811.7,451.98 812.45,452 813.2,452.21 813.95,452.79 814.7,453.23 815.45,453.78 816.2,454.39 816.95,455.01 817.7,456.01 818.45,457.43 819.2,458.63 819.95,459.71 820.7,461.41 821.45,462.82 822.2,463.37 822.95,463.79 823.7,464.75 824.45,466.23 825.2,467.41 825.95,468.23 826.7,468.87 827.45,469.23 828.2,469.85 828.95,470.63 829.7,471.28 830.45,471.99 831.2,472.5 831.95,472.58 832.7,472.62 833.45,473.1 834.2,473.44 834.95,473.2 835.7,473.04 836.45,473.39 837.2,473.75 837.95,473.48 838.7,473.09 839.45,473.35 840.2,473.6 840.95,473 841.7,472.46 842.45,472.43 843.2,472.39 843.95,472.07 844.7,471.7 845.45,471.54 846.2,471.68 846.95,472.15 847.7,472.02 848.45,471.37 849.2,471.45 849.95,471.55 850.7,471.25 851.45,471.3 852.2,471.43 852.95,471.33 853.7,471.1 854.45,470.87 855.2,470.97 855.95,471.05 856.7,470.76 857.45,470.72 858.2,470.98 858.95,471.12 859.7,471.06 860.45,470.56 861.2,470.3 861.95,470.9 862.7,471.41 863.45,471.35 864.2,471.16 864.95,470.97 865.7,470.54 866.45,470.22 867.2,470.34 867.95,470.63 868.7,470.95 869.45,470.84 870.2,470.37 870.95,470.22 871.7,470.33 872.45,470.6 873.2,470.69 873.95,470.54 874.7,470.33 875.45,469.83 876.2,469.94 876.95,470.53 877.7,470.39 878.45,470.11 879.2,470.03 879.95,469.82 880.7,469.73 881.45,469.72 882.2,469.61 882.95,469.3 883.7,468.93 884.45,468.64 885.2,468.36 885.95,468.19 886.7,467.94 887.45,467.7 888.2,467.38 888.95,466.91 889.7,466.75 890.45,466.93 891.2,467.26 891.95,467.4 892.7,467.14 893.45,467.05 894.2,467.33 894.95,467.68 895.7,468.13 896.45,468.69 897.2,468.63 897.95,468.01 898.7,468.09 899.45,468.74 900.2,469.25 900.95,469.45 901.7,469.59 902.45,469.79 903.2,469.83 903.95,470.11 904.7,470.46 905.45,470.87 906.2,471.43 906.95,471.33 907.7,471.33 908.45,471.58 909.2,471.49 909.95,471.72 910.7,472.27 911.45,473.04 912.2,473.36 912.95,472.5 913.7,471.82 914.45,472.13 915.2,472.23 915.95,471.98 916.7,472.29 917.45,472.68 918.2,472.31 918.95,471.75 919.7,471.42 920.45,471.27 921.2,471.42 921.95,471.83 922.7,471.93 923.45,471.27 924.2,471.04 924.95,471.6 925.7,471.78 926.45,471.56 927.2,471.64 927.95,471.87 928.7,471.86 929.45,471.73 930.2,471.34 930.95,471.01 931.7,471.21 932.45,471.1 933.2,470.63 933.95,470.48 934.7,470.38 935.45,470.21 936.2,470.09 936.95,469.74 937.7,469.76 938.45,470.28 939.2,470.42 939.95,470.18 940.7,469.85 941.45,469.66 942.2,469.58 942.95,469.67 943.7,469.66 944.45,469.34 945.2,469.09 945.95,469.24 946.7,469.13 947.45,468.47 948.2,468.27 948.95,468.35 949.7,468.61 950.45,469.17 951.2,469.32 951.95,469.24 952.7,469.2 953.45,468.85 954.2,468.71 954.95,469 955.7,469.12 956.45,468.85 957.2,468.73 957.95,469.27 958.7,469.56 959.45,469.15 960.2,468.77 960.95,468.65 961.7,468.68 962.45,468.74 963.2,469.15 963.95,469.59 964.7,469.29 965.45,468.98 966.2,468.87 966.95,468.77 967.7,469.15 968.45,469.11 969.2,468.66 969.95,468.6 970.7,469 971.45,469.63 972.2,469.43 972.95,468.81 973.7,468.86 974.45,469.12 975.2,469.22 975.95,469.46 976.7,469.43 977.45,469.29 978.2,469.91 978.95,470.45 979.7,470.34 980.45,470.15 981.2,469.94 981.95,469.99 982.7,470.17 983.45,469.91 984.2,469.97 984.95,470.49 985.7,470.64 986.45,470.75 987.2,470.98 987.95,471.17 988.7,471.34 989.45,471.29 990.2,471.27 990.95,471.37 991.7,471.37 992.45,471.33 993.2,471.32 993.95,471.32 994.7,471.57 995.45,472.03 996.2,471.96 996.95,471.37 997.7,471.12 998.45,471.68 999.2,472.25 999.95,472.28 1000.7,472.58 1001.45,472.32 1002.2,471.58 1002.95,471.56 1003.7,472.62 1004.45,473.62 1005.2,473.67 1005.95,472.85 1006.7,472.06 1007.45,471.89 1008.2,471.53 1008.95,471.77 1009.7,472.27 1010.45,472.26 1011.2,472.61 1011.95,473.26 1012.7,473.7 1013.45,473.42 1014.2,473.52 1014.95,474.01 1015.7,473.93 1016.45,472.95 1017.2,472.21 1017.95,472.37 1018.7,471.85 1019.45,470.97 1020.2,470.81 1020.95,471.61 1021.7,472.32 1022.45,472.26 1023.2,472.19 1023.95,472.33 1024.7,472.43 1025.45,473.01 1026.2,472.87 1026.95,471.82 1027.7,472.26 1028.45,472.47 1029.2,471.82 1029.95,472.83 1030.7,474.24 1031.45,473.81 1032.2,473.22 1032.95,473.71 1033.7,473.31 1034.45,472.29 1035.2,472.49 1035.95,473.1 1036.7,473.39 1037.45,473.53 1038.2,473.4 1038.95,473.02 1039.7,472.54 1040.45,472.22 1041.2,472.36 1041.95,472.61 1042.7,472.12 1043.45,471.79 1044.2,472.99 1044.95,473.54 1045.7,472.56 1046.45,471.79 1047.2,471.09 1047.95,471.11 1048.7,471.9 1049.45,472.62 1050.2,472.42 1050.95,471.01 1051.7,470.89 1052.45,471.97 1053.2,471.55 1053.95,470.18 1054.7,470.31 1055.45,471.36 1056.2,470.98 1056.95,469.76 1057.7,468.76 1058.45,468.28 1059.2,469.72 1059.95,470.11 1060.7,468.28 1061.45,467.16 1062.2,466.6 1062.95,466.79 1063.7,467.4 1064.45,467.29 1065.2,466.11 1065.95,464.51 1066.7,464.62 1067.45,465.51 1068.2,464.62 1068.95,463.44 1069.7,462.97 1070.45,462.45 1071.2,461.93 1071.95,461.21 1072.7,460.36 1073.45,460.7 1074.2,462.18 1074.95,463.08 1075.7,464.01 1076.45,465.36 1077.2,465.87 1077.95,466.25 1078.7,466.85 1079.45,466.35 1080.2,464.62 1080.95,462.54 1081.7,462.13 1082.45,464.02 1083.2,465.8 1083.95,466.85 1084.7,467.83 1085.45,468.15 1086.2,467.27 1086.95,466.24 1087.7,465.85 1088.45,465.54 1089.2,465.29 1089.95,465.76 1090.7,467.12 1091.45,468.86 1092.2,471.34 1092.95,472.13 1093.7,470.21 1094.45,468.4 1095.2,467.32 1095.95,466.79 1096.7,466.98 1097.45,467.62 1098.2,469.77 1098.95,471.72 1099.7,471.56 1100.45,471.56 1101.2,471.32 1101.95,470.2 1102.7,470.54 1103.45,470.25 1104.2,468.88 1104.95,469.45 1105.7,470.49 1106.45,470.29 1107.2,470.17 1107.95,468.97 1108.7,466.3 1109.45,463.77 1110.2,462.92 1110.95,463.97 1111.7,466.58 1112.45,469.12 1113.2,469.27 1113.95,468.72 1114.7,469.4 1115.45,471 1116.2,471.66 1116.95,470.4 1117.7,470.17 1118.45,470.99 1119.2,470.67 1119.95,469.05 1120.7,468.22 1121.45,468.94 1122.2,469.2 1122.95,468.72 1123.7,468.1 1124.45,467.73 1125.2,467.69 1125.95,467.16 1126.7,467.13 1127.45,467.54 1128.2,466.54 1128.95,465.85 1129.7,466.7 1130.45,467.53 1131.2,467.83 1131.95,468.18 1132.7,468.56 1133.45,468.38 1134.2,468.77 1134.95,469.77 1135.7,470.05 1136.45,470.23 1137.2,470.31 1137.95,470.72 1138.7,470.53 1139.45,469.72 1140.2,470.26 1140.95,470.47 1141.7,469.25 1142.45,467.7 1143.2,466.79 1143.95,466.46 1144.7,466.23 1145.45,467.38 1146.2,468.98 1146.95,469.45 1147.7,468.94 1148.45,467.86 1149.2,464.58 1149.95,459.91 1150.7,457.31 1151.45,460.11 1152.2,465.33 1152.95,469.1 1153.7,469.94 1154.45,469.47 1155.2,468.65 1155.95,467.85 1156.7,464.81 1157.45,460.73 1158.2,458.77 1158.95,460.78 1159.7,464.96 1160.45,468.19 1161.2,468.95 1161.95,468.66 1162.7,467.3 1163.45,466.48 1164.2,466.66 1164.95,465.63 1165.7,464 1166.45,463.92 1167.2,464.65 1167.95,464.47 1168.7,465.59 1169.45,467.78 1170.2,466.97 1170.95,463.68 1171.7,459.73 1172.45,457.01 1173.2,456.45 1173.95,457.87 1174.7,462.14 1175.45,466.23 1176.2,467.74 1176.95,467.94 1177.7,467.75 1178.45,466.42 1179.2,464.14 1179.95,463.38 1180.7,464.17 1181.45,464.57 1182.2,464.63 1182.95,465.53 1183.7,466.13 1184.45,464.93 1185.2,463.93 1185.95,462.32 1186.7,458.86 1187.45,455.3 1188.2,450.05 1188.95,443.84 1189.7,438 1190.45,432.63 1191.2,428.05 1191.95,423.86 1192.7,420.12 1193.45,417.45 1194.2,416.59 1194.95,417.09 1195.7,418.78 1196.45,421.5 1197.2,424.11 1197.95,426.53 1198.7,429.01 1199.45,431.57 1200.2,434.12 1200.95,436.36 1201.7,438.16 1202.45,440.27 1203.2,442.61 1203.95,444.81 1204.7,446.89 1205.45,448.97 1206.2,451.59 1206.95,454.08 1207.7,455.46 1208.45,456.42 1209.2,457.59 1209.95,459.24 1210.7,460.66 1211.45,461.26 1212.2,462.02 1212.95,463.27 1213.7,464.39 1214.45,465.75 1215.2,467.24 1215.95,467.63 1216.7,467.38 1217.45,467.74 1218.2,468.16 1218.95,468.24 1219.7,468.21 1220.45,468.15 1221.2,468.33 1221.95,468.54 1222.7,468.58 1223.45,468.43 1224.2,468.15 1224.95,466.58 1225.7,463.73 1226.45,460.05 1227.2,456.52 1227.95,452.99 1228.7,449.26 1229.45,446 1230.2,444.46 1230.95,445.4 1231.7,447.87 1232.45,450.6 1233.2,452.65 1233.95,453.4 1234.7,454.05 1235.45,455.71 1236.2,457.35 1236.95,458.36 1237.7,459.23 1238.45,459.78 1239.2,460.26 1239.95,460.81 1240.7,461.14 1241.45,461.32 1242.2,461.67 1242.95,461.96 1243.7,462.08 1244.45,462.57 1245.2,463.21 1245.95,463.5 1246.7,463.79 1247.45,464.02 1248.2,464.06 1248.95,464 1249.7,463.73 1250.45,463.89 1251.2,464.52 1251.95,464.55 1252.7,463.83 1253.45,463.12 1254.2,463.06 1254.95,463.38 1255.7,463.53 1256.45,463.66 1257.2,463.94 1257.95,464.21 1258.7,464.54 1259.45,464.64 1260.2,464.38 1260.95,464.33 1261.7,464.71 1262.45,465.21 1263.2,465.33 1263.95,465.19 1264.7,465.35 1265.45,465.85 1266.2,466.22 1266.95,466.38 1267.7,466.37 1268.45,466.62 1269.2,467.28 1269.95,467.58 1270.7,467.57 1271.45,467.84 1272.2,468.17 1272.95,468.1 1273.7,468.01 1274.45,468.07 1275.2,468.35 1275.95,468.81 1276.7,468.8 1277.45,468.74 1278.2,469.03 1278.95,469.29 1279.7,469.41 1280.45,469.52 1281.2,469.5 1281.95,469.29 1282.7,469.54 1283.45,470.16 1284.2,470.1 1284.95,469.71 1285.7,469.86 1286.45,470.04 1287.2,469.76 1287.95,469.21 1288.7,469.04 1289.45,468.74 1290.2,468.02 1290.95,467.85 1291.7,467.94 1292.45,467.7 1293.2,467.49 1293.95,467.01 1294.7,466.51 1295.45,466.57 1296.2,466.55 1296.95,466.4 1297.7,466.27 1298.45,465.94 1299.2,465.91 1299.95,465.97 1300.7,465.79 1301.45,465.58 1302.2,465.58 1302.95,466.03 1303.7,466.56 1304.45,466.85 1305.2,467.11 1305.95,467.34 1306.7,467.68 1307.45,468.32 1308.2,468.72 1308.95,468.93 1309.7,469.38 1310.45,470.19 1311.2,471.12 1311.95,471.43 1312.7,471.85 1313.45,472.69 1314.2,473.23 1314.95,473.73 1315.7,474 1316.45,474.22 1317.2,474.55 1317.95,474.51 1318.7,474.71 1319.45,474.93 1320.2,474.72 1320.95,475.07 1321.7,475.81 1322.45,476.18 1323.2,476.33 1323.95,476.47 1324.7,476.61 1325.45,477 1326.2,477.14 1326.95,476.86 1327.7,476.79 1328.45,476.81 1329.2,476.73 1329.95,476.87 1330.7,477.2 1331.45,477.15 1332.2,476.69 1332.95,476.28 1333.7,476.49 1334.45,476.78 1335.2,476.49 1335.95,476.15 1336.7,476.21 1337.45,476.29 1338.2,475.8 1338.95,475.24 1339.7,475.39 1340.45,475.53 1341.2,475.35 1341.95,475.56 1342.7,476.11 1343.45,476.53 1344.2,476.42 1344.95,475.75 1345.7,475.33 1346.45,475.4 1347.2,475.32 1347.95,475.54 1348.7,475.99 1349.45,476.04 1350.2,476.18 1350.95,476.42 1351.7,476.47 1352.45,476.34 1353.2,476.48 1353.95,476.88 1354.7,476.88 1355.45,476.66 1356.2,476.61 1356.95,476.61 1357.7,476.55 1358.45,476.49 1359.2,476.07 1359.95,475.4 1360.7,475.17 1361.45,475.63 1362.2,476.21 1362.95,475.94 1363.7,475.09 1364.45,474.53 1365.2,474.35 1365.95,474.41 1366.7,474.34 1367.45,473.67 1368.2,473.06 1368.95,472.86 1369.7,472.93 1370.45,473.07 1371.2,472.71 1371.95,472.19 1372.7,471.57 1373.45,470.97 1374.2,470.98 1374.95,470.87 1375.7,470.43 1376.45,470.11 1377.2,469.77 1377.95,469.62 1378.7,469.54 1379.45,469.29 1380.2,469.14 1380.95,468.98 1381.7,468.69 1382.45,468.42 1383.2,468.34 1383.95,468.68 1384.7,469.11 1385.45,469.37 1386.2,469.59 1386.95,469.48 1387.7,469.61 1388.45,470.34 1389.2,470.89 1389.95,471.32 1390.7,471.72 1391.45,471.98 1392.2,471.77 1392.95,471.66 1393.7,472.53 1394.45,473.34 1395.2,473.81 1395.95,474.23 1396.7,474.54 1397.45,474.67 1398.2,474.76 1398.95,475.39 1399.7,476.17 1400.45,476.46 1401.2,476.36 1401.95,476.54 1402.7,477.33 1403.45,478.2 1404.2,479.03 1404.95,479.86 1405.7,480.13 1406.45,480.16 1407.2,480.53 1407.95,480.96 1408.7,481.26 1409.45,481.56 1410.2,481.91 1410.95,481.97 1411.7,481.96 1412.45,482.32 1413.2,482.86 1413.95,483.16 1414.7,483.4 1415.45,483.5 1416.2,483.59 1416.95,484.05 1417.7,484.14 1418.45,483.87 1419.2,483.7 1419.95,483.56 1420.7,483.65 1421.45,483.91 1422.2,483.88 1422.95,483.65 1423.7,483.57 1424.45,483.95 1425.2,484.34 1425.95,483.84 1426.7,482.91 1427.45,482.9 1428.2,483.39 1428.95,483.46 1429.7,483.68 1430.45,484.01 1431.2,484.25 1431.95,484.28 1432.7,483.89 1433.45,483.63 1434.2,483.39 1434.95,483.16 1435.7,483.51 1436.45,484.17 1437.2,484.03 1437.95,483.39 1438.7,483.08 1439.45,482.83 1440.2,482.37 1440.95,481.82 1441.7,481.55 1442.45,481.25 1443.2,480.74 1443.95,480.42 1444.7,480.28 1445.45,480.37 1446.2,480.6 1446.95,480.54 1447.7,480.15 1448.45,479.69 1449.2,479.19 1449.95,478.69 1450.7,478.73 1451.45,478.99 1452.2,478.78 1452.95,478.62 1453.7,478.89 1454.45,479.16 1455.2,479.24 1455.95,479.45 1456.7,479.81 1457.45,479.97 1458.2,480.21 1458.95,480.9 1459.7,481.78 1460.45,482.54 1461.2,482.62 1461.95,482.52 1462.7,483.02 1463.45,483.28 1464.2,483.21 1464.95,483.29 1465.7,483.1 1466.45,482.43 1467.2,481.67 1467.95,481.17 1468.7,480.74 1469.45,479.87 1470.2,478.97 1470.95,478.6 1471.7,478.21 1472.45,477.87 1473.2,477.71 1473.95,477.22 1474.7,476.77 1475.45,477.03 1476.2,477.24 1476.95,476.97 1477.7,477.26 1478.45,478.07 1479.2,478.51 1479.95,479.25 1480.7,480.22 1481.45,481.09 1482.2,481.98 1482.95,482.56 1483.7,483.22 1484.45,483.88 1485.2,484.21 1485.95,484.24 1486.7,484.38 1487.45,484.86 1488.2,484.75 1488.95,484.25 1489.7,484.09 1490.45,484.01 1491.2,483.84 1491.95,483.64 1492.7,483.2 1493.45,482.75 1494.2,482.6 1494.95,482.62 1495.7,482.64 1496.45,482.28 1497.2,481.77 1497.95,481.35 1498.7,480.87 1499.45,480.51 1500.2,480.34 1500.95,480.18 1501.7,480 1502.45,480.04 1503.2,480.02 1503.95,479.9 1504.7,480.06 1505.45,480.32 1506.2,480.31 1506.95,480.58 1507.7,481.58 1508.45,483.14 1509.2,484.25 1509.95,483.73 1510.7,482.16 1511.45,480.7 1512.2,479.74 1512.95,479.38 1513.7,478.61 1514.45,477.95 1515.2,477.81 1515.95,478.63 1516.7,481.26 1517.45,483.82 1518.2,486.57 1518.95,489.73 1519.7,492.1 1520.45,493.38 1521.2,493.97 1521.95,494.48 1522.7,494.84 1523.45,494.84 1524.2,495.01 1524.95,495.51 1525.2,495.67"/>
<path id="curve-lime" stroke="#20E240" d="M132.2,543.55 132.95,542.44 133.7,542.42 134.45,543.67 135.2,542.32 135.95,542.18 136.7,543.32 137.45,542.07 138.2,541.26 138.95,542.42 139.7,545.36 140.45,546.98 141.2,544.48 141.95,542.61 142.7,543.17 143.45,543.08 144.2,543.68 144.95,544.06 145.7,542.52 146.45,541.29 147.2,540.65 147.95,540.78 148.7,540.51 149.45,539.22 150.2,538.98 150.95,539.02 151.7,538.13 152.45,537.27 153.2,538.25 153.95,540.71 154.7,543.91 155.45,544.57 156.2,541.86 156.95,542.02 157.7,544.17 158.45,544.61 159.2,542.96 159.95,541.03 160.7,541.52 161.45,542.31 162.2,542.5 162.95,542 163.7,542 164.45,545.02 165.2,546.12 165.95,544.57 166.7,544.56 167.45,544.19 168.2,543.61 168.95,545.04 169.7,546.11 170.45,545.12 171.2,544.54 171.95,545.15 172.7,545.99 173.45,545.47 174.2,543.65 174.95,543.3 175.7,542.47 176.45,541.21 177.2,542.73 177.95,544.86 178.7,545.91 179.45,545.11 180.2,543.82 180.95,544.6 181.7,544.62 182.45,544.53 183.2,546.69 183.95,547.36 184.7,546.74 185.45,547 186.2,546.69 186.95,545.67 187.7,545.92 188.45,545.51 189.2,543.04 189.95,543.57 190.7,543.92 191.45,541.61 192.2,541.48 192.95,542.35 193.7,542.79 194.45,541.95 195.2,538.89 195.95,538.08 196.7,540.96 197.45,541.89 198.2,540.75 198.95,541.19 199.7,542.04 200.45,541.75 201.2,541.4 201.95,539.82 202.7,537.64 203.45,538.45 204.2,539.19 204.95,539.41 205.7,539.26 206.45,538.7 207.2,541.12 207.95,541.99 208.7,541 209.45,541.93 210.2,544.15 210.95,547.15 211.7,547.41 212.45,544.68 213.2,542.52 213.95,542.01 214.7,541.98 215.45,541.25 216.2,540.47 216.95,540.48 217.7,540.7 218.45,540.49 219.2,540.24 219.95,542.46 220.7,544.69 221.45,542.65 222.2,542.01 222.95,543.8 223.7,544.1 224.45,544.42 225.2,545.12 225.95,545.07 226.7,543.16 227.45,541.68 228.2,541.42 228.95,540.73 229.7,541.72 230.45,543.09 231.2,544.37 231.95,546.56 232.7,547.94 233.45,547.6 234.2,546.86 234.95,548.12 235.7,548.99 236.45,547.38 237.2,545.32 237.95,543.28 238.7,539.82 239.45,539.52 240.2,542.92 240.95,543.65 241.7,543.09 242.45,543.61 243.2,545.8 243.95,547.97 244.7,547.76 245.45,546.54 246.2,544.25 246.95,542.88 247.7,544.33 248.45,545.63 249.2,545.12 249.95,544.94 250.7,545.23 251.45,543.29 252.2,542.33 252.95,543.74 253.7,542.94 254.45,542.02 255.2,543.72 255.95,545.12 256.7,545.12 257.45,547.44 258.2,550.12 258.95,548.81 259.7,545.56 260.45,543.19 261.2,544.28 261.95,545.65 262.7,544.28 263.45,543.85 264.2,544.79 264.95,544.64 265.7,545.06 266.45,547.32 267.2,548.17 267.95,546.74 268.7,545.97 269.45,547.1 270.2,548.14 270.95,546.92 271.7,544.97 272.45,545.43 273.2,546.76 273.95,547.11 274.7,546.86 275.45,544.99 276.2,542.29 276.95,541.16 277.7,543.2 278.45,546.77 279.2,548.17 279.95,548.94 280.7,549.24 281.45,547.38 282.2,546 282.95,546.59 283.7,548.43 284.45,550.28 285.2,549.32 285.95,547.6 286.7,548.62 287.45,548.69 288.2,547.11 288.95,546.12 289.7,545.92 290.45,547.87 291.2,547.88 291.95,547.58 292.7,547.81 293.45,548.11 294.2,548.18 294.95,548.4 295.7,548.44 296.45,548.16 297.2,548.54 297.95,549.12 298.7,548.76 299.45,548.32 300.2,548.27 300.95,548.41 301.7,548.89 302.45,549.19 303.2,549.3 303.95,549.32 304.7,549.25 305.45,549.27 306.2,549.01 306.95,548.6 307.7,548.47 308.45,548.3 309.2,548.44 309.95,548.95 310.7,548.8 311.45,548.59 312.2,548.37 312.95,548.28 313.7,548.77 314.45,549.05 315.2,549.2 315.95,549.28 316.7,549.2 317.45,549.37 318.2,549.46 318.95,549.24 319.7,549.27 320.45,549.47 321.2,549.48 321.95,549.05 322.7,548.66 323.45,549.09 324.2,549.5 324.95,549.47 325.7,549.79 326.45,550.07 327.2,549.84 327.95,549.51 328.7,549.12 329.45,548.95 330.2,548.98 330.95,549.04 331.7,549.13 332.45,549.12 333.2,549.02 333.95,548.71 334.7,548.6 335.45,548.81 336.2,548.91 336.95,548.99 337.7,549.12 338.45,549.43 339.2,549.96 339.95,550.19 340.7,549.87 341.45,549.72 342.2,549.66 342.95,548.92 343.7,548.66 344.45,549.26 345.2,549.52 345.95,549.46 346.7,549.23 347.45,548.81 348.2,549.08 348.95,549.88 349.7,549.92 350.45,549.76 351.2,549.85 351.95,549.4 352.7,549.22 353.45,549.34 354.2,549.12 354.95,549.16 355.7,549.34 356.45,549.52 357.2,549.85 357.95,549.69 358.7,549.18 359.45,549.19 360.2,549.49 360.95,549.43 361.7,549.36 362.45,549.69 363.2,549.78 363.95,549.61 364.7,549.45 365.45,548.92 366.2,548.88 366.95,549.34 367.7,549.23 368.45,549.08 369.2,549.22 369.95,549.37 370.7,549.34 371.45,549.11 372.2,549.73 372.95,550.53 373.7,549.81 374.45,549.09 375.2,549.55 375.95,550.07 376.7,550.13 377.45,549.75 378.2,549.62 378.95,550.04 379.7,549.75 380.45,549.25 381.2,549.5 381.95,549.81 382.7,549.84 383.45,549.77 384.2,549.81 384.95,549.87 385.7,549.81 386.45,549.62 387.2,549.47 387.95,549.65 388.7,549.87 389.45,550.08 390.2,550.24 390.95,550.09 391.7,550.2 392.45,550.37 393.2,550.03 393.95,549.68 394.7,549.5 395.45,549.78 396.2,550.17 396.95,550.18 397.7,549.94 398.45,549.27 399.2,549.04 399.95,549.26 400.7,549.64 401.45,550.42 402.2,550.22 402.95,549.38 403.7,549.26 404.45,549.45 405.2,549.63 405.95,549.79 406.7,550.11 407.45,550.17 408.2,549.57 408.95,549.27 409.7,549.55 410.45,549.8 411.2,549.89 411.95,549.84 412.7,549.87 413.45,549.78 414.2,549.49 414.95,549.51 415.7,550.12 416.45,550.6 417.2,550.2 417.95,549.76 418.7,549.77 419.45,549.49 420.2,549.21 420.95,549.68 421.7,550.02 422.45,549.5 423.2,549.2 423.95,549.79 424.7,550.32 425.45,550.26 426.2,550.34 426.95,550.64 427.7,550.48 428.45,549.94 429.2,549.55 429.95,549.47 430.7,549.6 431.45,549.58 432.2,549.56 432.95,549.83 433.7,549.68 434.45,549.47 435.2,549.31 435.95,548.78 436.7,548.73 437.45,549.21 438.2,549.49 438.95,549.61 439.7,549.7 440.45,549.56 441.2,549.37 441.95,549.42 442.7,549.59 443.45,549.55 444.2,549.41 444.95,549.11 445.7,548.89 446.45,549.27 447.2,549.48 447.95,548.94 448.7,548.63 449.45,549.09 450.2,549.33 450.95,549 451.7,548.98 452.45,549.2 453.2,549.24 453.95,549.49 454.7,549.68 455.45,549.43 456.2,549.34 456.95,549.45 457.7,549.18 458.45,548.75 459.2,548.56 459.95,548.99 460.7,549.61 461.45,549.56 462.2,549.46 462.95,549.34 463.7,549.08 464.45,549.11 465.2,548.74 465.95,548.35 466.7,548.56 467.45,548.69 468.2,548.89 468.95,549.51 469.7,549.78 470.45,549.25 471.2,548.99 471.95,549.18 472.7,549.14 473.45,548.84 474.2,548.5 474.95,548.51 475.7,548.6 476.45,548.48 477.2,548.38 477.95,548.63 478.7,548.85 479.45,548.92 480.2,549.17 480.95,548.83 481.7,548.25 482.45,548.43 483.2,549.04 483.95,549.11 484.7,548.73 485.45,548.7 486.2,548.7 486.95,548.63 487.7,548.81 488.45,548.62 489.2,547.8 489.95,547.63 490.7,548.27 491.45,548.62 492.2,548.37 492.95,547.75 493.7,547.9 494.45,548.24 495.2,547.88 495.95,547.64 496.7,547.45 497.45,547.09 498.2,547.1 498.95,547.12 499.7,546.51 500.45,546.15 501.2,546.54 501.95,546.97 502.7,546.96 503.45,546.72 504.2,546.49 504.95,546.42 505.7,546.64 506.45,546.74 507.2,546.17 507.95,545.77 508.7,546.1 509.45,545.93 510.2,545.48 510.95,545.4 511.7,545.73 512.45,546.13 513.2,545.55 513.95,544.97 514.7,545.22 515.45,545.53 516.2,545.82 516.95,545.47 517.7,544.88 518.45,544.95 519.2,545.33 519.95,545.87 520.7,546.39 521.45,547.02 522.2,548 522.95,548.58 523.7,549.06 524.45,550.01 525.2,550.47 525.95,550.47 526.7,550.45 527.45,550.22 528.2,550.43 528.95,550.7 529.7,550.64 530.45,550.56 531.2,550.61 531.95,549.67 532.7,547.17 533.45,544.34 534.2,541.36 534.95,537.23 535.7,532.63 536.45,527.86 537.2,523.83 537.95,520.69 538.7,516.77 539.45,512.78 540.2,509.6 540.95,506.74 541.7,504.58 542.45,503.03 543.2,501.06 543.95,499.56 544.7,499.29 545.45,499.06 546.2,498.55 546.95,498.22 547.7,498.16 548.45,497.8 549.2,495.06 549.95,490.59 550.7,485.57 551.45,480.27 552.2,473.98 552.95,466.37 553.7,458.61 554.45,452.9 555.2,448.79 555.95,445.03 556.7,441.28 557.45,438.47 558.2,438.23 558.95,440.81 559.7,444.65 560.45,448.84 561.2,453.35 561.95,459.1 562.7,465.25 563.45,470.59 564.2,474.6 564.95,478.16 565.7,481.57 566.45,485.07 567.2,488.06 567.95,490.69 568.7,493.43 569.45,496.52 570.2,499.54 570.95,501.76 571.7,503.99 572.45,506.18 573.2,508.04 573.95,510.26 574.7,512.68 575.45,514.58 576.2,515.33 576.95,514.54 577.7,512.47 578.45,509.71 579.2,507.33 579.95,505.82 580.7,504.54 581.45,503.67 582.2,503.17 582.95,502 583.7,499.72 584.45,495.23 585.2,489.56 585.95,484.74 586.7,481.46 587.45,478.28 588.2,476.58 588.95,477.83 589.7,481.42 590.45,486.14 591.2,491.66 591.95,498.58 592.7,505.59 593.45,511.59 594.2,516.59 594.95,521.55 595.7,525.87 596.45,529.13 597.2,531.67 597.95,534.19 598.7,536.59 599.45,538.33 600.2,539.68 600.95,540.68 601.7,541.75 602.45,542.88 603.2,543.58 603.95,544.17 604.7,544.92 605.45,545.62 606.2,545.67 606.95,545.33 607.7,545.64 608.45,546.22 609.2,546.36 609.95,546.7 610.7,547.32 611.45,547.45 612.2,547.23 612.95,547.07 613.7,547.47 614.45,547.87 615.2,548.08 615.95,548.87 616.7,549.22 617.45,548.53 618.2,548.48 618.95,549.15 619.7,549.09 620.45,548.51 621.2,548.42 621.95,548.85 622.7,549.25 623.45,549.23 624.2,548.82 624.95,548.66 625.7,548.77 626.45,549 627.2,549.4 627.95,549.32 628.7,548.93 629.45,548.86 630.2,549.1 630.95,549.28 631.7,548.99 632.45,548.66 633.2,548.82 633.95,549.2 634.7,549.62 635.45,549.9 636.2,549.83 636.95,549.42 637.7,549.18 638.45,549.28 639.2,549.16 639.95,549.06 640.7,549.31 641.45,549.58 642.2,549.48 642.95,548.89 643.7,548.72 644.45,549.07 645.2,549.28 645.95,549.35 646.7,549.1 647.45,548.76 648.2,549.09 648.95,549.73 649.7,549.63 650.45,549.31 651.2,549.3 651.95,549.51 652.7,549.8 653.45,549.74 654.2,549.8 654.95,549.79 655.7,549.59 656.45,550.07 657.2,550.16 657.95,549.58 658.7,549.42 659.45,549.08 660.2,548.8 660.95,549.31 661.7,550 662.45,550.14 663.2,549.77 663.95,549.53 664.7,549.57 665.45,549.59 666.2,549.32 666.95,549.14 667.7,549.58 668.45,550.35 669.2,550.88 669.95,550.66 670.7,550.22 671.45,550.23 672.2,550.2 672.95,549.72 673.7,549.36 674.45,549.67 675.2,550.12 675.95,550.19 676.7,549.97 677.45,549.9 678.2,550.15 678.95,550.45 679.7,550.55 680.45,550.5 681.2,550.38 681.95,550.34 682.7,550.56 683.45,550.38 684.2,550.02 684.95,550.24 685.7,550.35 686.45,550.34 687.2,550.56 687.95,550.64 688.7,550.51 689.45,550.39 690.2,550.64 690.95,550.8 691.7,550.55 692.45,550.39 693.2,550.46 693.95,550.65 694.7,550.77 695.45,550.79 696.2,550.51 696.95,550.04 697.7,549.98 698.45,550.39 699.2,551.11 699.95,551.6 700.7,551.22 701.45,550.32 702.2,550.05 702.95,550.55 703.7,550.61 704.45,550.48 705.2,550.82 705.95,550.81 706.7,550.31 707.45,550.23 708.2,550.76 708.95,550.89 709.7,550.55 710.45,550.37 711.2,550.7 711.95,551.2 712.7,551.46 713.45,551.67 714.2,551.5 714.95,551.22 715.7,551.17 716.45,550.78 717.2,550.29 717.95,550.46 718.7,550.69 719.45,550.51 720.2,550.33 720.95,550.63 721.7,550.97 722.45,550.53 723.2,550.18 723.95,550.56 724.7,551.2 725.45,551.28 726.2,550.96 726.95,550.82 727.7,550.68 728.45,551.15 729.2,551.85 729.95,551.58 730.7,550.81 731.45,550.41 732.2,550.37 732.95,550.08 733.7,550.09 734.45,550.83 735.2,551.2 735.95,551.21 736.7,550.98 737.45,550.75 738.2,550.9 738.95,550.84 739.7,550.92 740.45,551.27 741.2,551.62 741.95,551.75 742.7,551.26 743.45,550.66 744.2,550.53 744.95,550.67 745.7,550.46 746.45,550.31 747.2,550.73 747.95,551.03 748.7,550.74 749.45,550.54 750.2,550.58 750.95,550.29 751.7,550.46 752.45,551.16 753.2,551.52 753.95,551.33 754.7,550.91 755.45,550.97 756.2,551.43 756.95,551.68 757.7,551.18 758.45,550.79 759.2,550.99 759.95,550.95 760.7,550.93 761.45,551.22 762.2,551.4 762.95,551.35 763.7,551.05 764.45,550.63 765.2,550.66 765.95,550.83 766.7,550.96 767.45,551.29 768.2,551.05 768.95,550.82 769.7,551.1 770.45,551.25 771.2,551.31 771.95,551.43 772.7,551.43 773.45,550.71 774.2,549.91 774.95,549.82 775.7,550.24 776.45,551.11 777.2,551.53 777.95,550.91 778.7,550.56 779.45,550.98 780.2,551.09 780.95,550.92 781.7,550.97 782.45,550.79 783.2,550.65 783.95,550.86 784.7,550.7 785.45,550.48 786.2,550.92 786.95,551.67 787.7,551.98 788.45,551.57 789.2,550.8 789.95,550.55 790.7,550.82 791.45,550.93 792.2,549.96 792.95,547.4 793.7,544.03 794.45,540.64 795.2,537.64 795.95,534.72 796.7,532.25 797.45,530.24 798.2,528.13 798.95,525.9 799.7,524.47 800.45,523.49 801.2,523 801.95,523.41 802.7,523.95 803.45,524.68 804.2,525.62 804.95,526.86 805.7,530.8 806.45,535.18 807.2,535.86 807.95,534.4 808.7,532.34 809.45,530.57 810.2,530.24 810.95,530.59 811.7,530.98 812.45,531 813.2,531.21 813.95,531.79 814.7,532.23 815.45,532.78 816.2,533.39 816.95,534.01 817.7,535.01 818.45,536.43 819.2,537.63 819.95,538.71 820.7,540.41 821.45,541.82 822.2,542.37 822.95,542.79 823.7,543.75 824.45,545.23 825.2,546.41 825.95,547.23 826.7,547.87 827.45,548.23 828.2,548.85 828.95,549.63 829.7,550.28 830.45,550.99 831.2,551.5 831.95,551.58 832.7,551.62 833.45,552.1 834.2,552.44 834.95,552.2 835.7,552.04 836.45,552.39 837.2,552.75 837.95,552.48 838.7,552.09 839.45,552.35 840.2,552.6 840.95,552 841.7,551.46 842.45,551.43 843.2,551.39 843.95,551.07 844.7,550.7 845.45,550.54 846.2,550.68 846.95,551.15 847.7,551.02 848.45,550.37 849.2,550.45 849.95,550.55 850.7,550.25 851.45,550.3 852.2,550.43 852.95,550.33 853.7,550.1 854.45,549.87 855.2,549.97 855.95,550.05 856.7,549.76 857.45,549.72 858.2,549.98 858.95,550.12 859.7,550.06 860.45,549.56 861.2,549.3 861.95,549.9 862.7,550.41 863.45,550.35 864.2,550.16 864.95,549.97 865.7,549.54 866.45,549.22 867.2,549.34 867.95,549.63 868.7,549.95 869.45,549.84 870.2,549.37 870.95,549.22 871.7,549.33 872.45,549.6 873.2,549.69 873.95,549.54 874.7,549.33 875.45,548.83 876.2,548.94 876.95,549.53 877.7,549.39 878.45,549.11 879.2,549.03 879.95,548.82 880.7,548.73 881.45,548.72 882.2,548.61 882.95,548.3 883.7,547.93 884.45,547.64 885.2,547.36 885.95,547.19 886.7,546.94 887.45,546.7 888.2,546.38 888.95,545.91 889.7,545.75 890.45,545.93 891.2,546.26 891.95,546.4 892.7,546.14 893.45,546.05 894.2,546.33 894.95,546.68 895.7,547.13 896.45,547.69 897.2,547.63 897.95,547.01 898.7,547.09 899.45,547.74 900.2,548.25 900.95,548.45 901.7,548.59 902.45,548.79 903.2,548.83 903.95,549.11 904.7,549.46 905.45,549.87 906.2,550.43 906.95,550.33 907.7,550.33 908.45,550.58 909.2,550.49 909.95,550.72 910.7,551.27 911.45,552.04 912.2,552.36 912.95,551.5 913.7,550.82 914.45,551.13 915.2,551.23 915.95,550.98 916.7,551.29 917.45,551.68 918.2,551.31 918.95,550.75 919.7,550.42 920.45,550.27 921.2,550.42 921.95,550.83 922.7,550.93 923.45,550.27 924.2,550.04 924.95,550.6 925.7,550.78 926.45,550.56 927.2,550.64 927.95,550.87 928.7,550.86 929.45,550.73 930.2,550.34 930.95,550.01 931.7,550.21 932.45,550.1 933.2,549.63 933.95,549.48 934.7,549.38 935.45,549.21 936.2,549.09 936.95,548.74 937.7,548.76 938.45,549.28 939.2,549.42 939.95,549.18 940.7,548.85 941.45,548.66 942.2,548.58 942.95,548.67 943.7,548.66 944.45,548.34 945.2,548.09 945.95,548.24 946.7,548.13 947.45,547.47 948.2,547.27 948.95,547.35 949.7,547.61 950.45,548.17 951.2,548.32 951.95,548.24 952.7,548.2 953.45,547.85 954.2,547.71 954.95,548 955.7,548.12 956.45,547.85 957.2,547.73 957.95,548.27 958.7,548.56 959.45,548.15 960.2,547.77 960.95,547.65 961.7,547.68 962.45,547.74 963.2,548.15 963.95,548.59 964.7,548.29 965.45,547.98 966.2,547.87 966.95,547.77 967.7,548.15 968.45,548.11 969.2,547.66 969.95,547.6 970.7,548 971.45,548.63 972.2,548.43 972.95,547.81 973.7,547.86 974.45,548.12 975.2,548.22 975.95,548.46 976.7,548.43 977.45,548.29 978.2,548.91 978.95,549.45 979.7,549.34 980.45,549.15 981.2,548.94 981.95,548.99 982.7,549.17 983.45,548.91 984.2,548.97 984.95,549.49 985.7,549.64 986.45,549.75 987.2,549.98 987.95,550.17 988.7,550.34 989.45,550.29 990.2,550.27 990.95,550.37 991.7,550.37 992.45,550.33 993.2,550.32 993.95,550.32 994.7,550.57 995.45,551.03 996.2,550.96 996.95,550.37 997.7,550.12 998.45,550.68 999.2,551.25 999.95,551.28 1000.7,551.58 1001.45,551.32 1002.2,550.58 1002.95,550.56 1003.7,551.62 1004.45,552.62 1005.2,552.67 1005.95,551.85 1006.7,551.06 1007.45,550.89 1008.2,550.53 1008.95,550.77 1009.7,551.27 1010.45,551.26 1011.2,551.61 1011.95,552.26 1012.7,552.7 1013.45,552.42 1014.2,552.52 1014.95,553.01 1015.7,552.93 1016.45,551.95 1017.2,551.21 1017.95,551.37 1018.7,550.85 1019.45,549.97 1020.2,549.81 1020.95,550.61 1021.7,551.32 1022.45,551.26 1023.2,551.19 1023.95,551.33 1024.7,551.43 1025.45,552.01 1026.2,551.87 1026.95,550.82 1027.7,551.26 1028.45,551.47 1029.2,550.82 1029.95,551.83 1030.7,553.24 1031.45,552.81 1032.2,552.22 1032.95,552.71 1033.7,552.31 1034.45,551.29 1035.2,551.49 1035.95,552.1 1036.7,552.39 1037.45,552.53 1038.2,552.4 1038.95,552.02 1039.7,551.54 1040.45,551.22 1041.2,551.36 1041.95,551.61 1042.7,551.12 1043.45,550.79 1044.2,551.99 1044.95,552.54 1045.7,551.56 1046.45,550.79 1047.2,550.09 1047.95,550.11 1048.7,550.9 1049.45,551.62 1050.2,551.42 1050.95,550.01 1051.7,549.89 1052.45,550.97 1053.2,550.55 1053.95,549.18 1054.7,549.31 1055.45,550.36 1056.2,549.98 1056.95,548.76 1057.7,547.76 1058.45,547.28 1059.2,548.72 1059.95,549.11 1060.7,547.28 1061.45,546.16 1062.2,545.6 1062.95,545.79 1063.7,546.4 1064.45,546.29 1065.2,545.11 1065.95,543.51 1066.7,543.62 1067.45,544.51 1068.2,543.62 1068.95,542.44 1069.7,541.97 1070.45,541.45 1071.2,540.93 1071.95,540.21 1072.7,539.36 1073.45,539.7 1074.2,541.18 1074.95,542.08 1075.7,543.01 1076.45,544.36 1077.2,544.87 1077.95,545.25 1078.7,545.85 1079.45,545.35 1080.2,543.62 1080.95,541.54 1081.7,541.13 1082.45,543.02 1083.2,544.8 1083.95,545.85 1084.7,546.83 1085.45,547.15 1086.2,546.27 1086.95,545.24 1087.7,544.85 1088.45,544.54 1089.2,544.29 1089.95,544.76 1090.7,546.12 1091.45,547.86 1092.2,550.34 1092.95,551.13 1093.7,549.21 1094.45,547.4 1095.2,546.32 1095.95,545.79 1096.7,545.98 1097.45,546.62 1098.2,548.77 1098.95,550.72 1099.7,550.56 1100.45,550.56 1101.2,550.32 1101.95,549.2 1102.7,549.54 1103.45,549.25 1104.2,547.88 1104.95,548.45 1105.7,549.49 1106.45,549.29 1107.2,549.17 1107.95,547.97 1108.7,545.3 1109.45,542.77 1110.2,541.92 1110.95,542.97 1111.7,545.58 1112.45,548.12 1113.2,548.27 1113.95,547.72 1114.7,548.4 1115.45,550 1116.2,550.66 1116.95,549.4 1117.7,549.17 1118.45,549.99 1119.2,549.67 1119.95,548.05 1120.7,547.22 1121.45,547.94 1122.2,548.2 1122.95,547.72 1123.7,547.1 1124.45,546.73 1125.2,546.69 1125.95,546.16 1126.7,546.13 1127.45,546.54 1128.2,545.54 1128.95,544.85 1129.7,545.7 1130.45,546.53 1131.2,546.83 1131.95,547.18 1132.7,547.56 1133.45,547.38 1134.2,547.77 1134.95,548.77 1135.7,549.05 1136.45,549.23 1137.2,549.31 1137.95,549.72 1138.7,549.53 1139.45,548.72 1140.2,549.26 1140.95,549.47 1141.7,548.25 1142.45,546.7 1143.2,545.79 1143.95,545.46 1144.7,545.23 1145.45,546.38 1146.2,547.98 1146.95,548.45 1147.7,547.94 1148.45,546.86 1149.2,543.58 1149.95,538.91 1150.7,536.31 1151.45,539.11 1152.2,544.33 1152.95,548.1 1153.7,548.94 1154.45,548.47 1155.2,547.65 1155.95,546.85 1156.7,543.81 1157.45,539.73 1158.2,537.77 1158.95,539.78 1159.7,543.96 1160.45,547.19 1161.2,547.95 1161.95,547.66 1162.7,546.3 1163.45,545.48 1164.2,545.66 1164.95,544.63 1165.7,543 1166.45,542.92 1167.2,543.65 1167.95,543.47 1168.7,544.59 1169.45,546.78 1170.2,545.97 1170.95,542.68 1171.7,538.73 1172.45,536.01 1173.2,535.45 1173.95,536.87 1174.7,541.14 1175.45,545.23 1176.2,546.74 1176.95,546.94 1177.7,546.75 1178.45,545.42 1179.2,543.14 1179.95,542.38 1180.7,543.17 1181.45,543.57 1182.2,543.63 1182.95,544.53 1183.7,545.13 1184.45,543.93 1185.2,542.93 1185.95,541.32 1186.7,537.86 1187.45,534.3 1188.2,529.05 1188.95,522.84 1189.7,517 1190.45,511.63 1191.2,507.05 1191.95,502.86 1192.7,499.12 1193.45,496.45 1194.2,495.59 1194.95,496.09 1195.7,497.78 1196.45,500.5 1197.2,503.11 1197.95,505.53 1198.7,508.01 1199.45,510.57 1200.2,513.12 1200.95,515.36 1201.7,517.16 1202.45,519.27 1203.2,521.61 1203.95,523.81 1204.7,525.89 1205.45,527.97 1206.2,530.59 1206.95,533.08 1207.7,534.46 1208.45,535.42 1209.2,536.59 1209.95,538.24 1210.7,539.66 1211.45,540.26 1212.2,541.02 1212.95,542.27 1213.7,543.39 1214.45,544.75 1215.2,546.24 1215.95,546.63 1216.7,546.38 1217.45,546.74 1218.2,547.16 1218.95,547.24 1219.7,547.21 1220.45,547.15 1221.2,547.33 1221.95,547.54 1222.7,547.58 1223.45,547.43 1224.2,547.15 1224.95,545.58 1225.7,542.73 1226.45,539.05 1227.2,535.52 1227.95,531.99 1228.7,528.26 1229.45,525 1230.2,523.46 1230.95,524.4 1231.7,526.87 1232.45,529.6 1233.2,531.65 1233.95,532.4 1234.7,533.05 1235.45,534.71 1236.2,536.35 1236.95,537.36 1237.7,538.23 1238.45,538.78 1239.2,539.26 1239.95,539.81 1240.7,540.14 1241.45,540.32 1242.2,540.67 1242.95,540.96 1243.7,541.08 1244.45,541.57 1245.2,542.21 1245.95,542.5 1246.7,542.79 1247.45,543.02 1248.2,543.06 1248.95,543 1249.7,542.73 1250.45,542.89 1251.2,543.52 1251.95,543.55 1252.7,542.83 1253.45,542.12 1254.2,542.06 1254.95,542.38 1255.7,542.53 1256.45,542.66 1257.2,542.94 1257.95,543.21 1258.7,543.54 1259.45,543.64 1260.2,543.38 1260.95,543.33 1261.7,543.71 1262.45,544.21 1263.2,544.33 1263.95,544.19 1264.7,544.35 1265.45,544.85 1266.2,545.22 1266.95,545.38 1267.7,545.37 1268.45,545.62 1269.2,546.28 1269.95,546.58 1270.7,546.57 1271.45,546.84 1272.2,547.17 1272.95,547.1 1273.7,547.01 1274.45,547.07 1275.2,547.35 1275.95,547.81 1276.7,547.8 1277.45,547.74 1278.2,548.03 1278.95,548.29 1279.7,548.41 1280.45,548.52 1281.2,548.5 1281.95,548.29 1282.7,548.54 1283.45,549.16 1284.2,549.1 1284.95,548.71 1285.7,548.86 1286.45,549.04 1287.2,548.76 1287.95,548.21 1288.7,548.04 1289.45,547.74 1290.2,547.02 1290.95,546.85 1291.7,546.94 1292.45,546.7 1293.2,546.49 1293.95,546.01 1294.7,545.51 1295.45,545.57 1296.2,545.55 1296.95,545.4 1297.7,545.27 1298.45,544.94 1299.2,544.91 1299.95,544.97 1300.7,544.79 1301.45,544.58 1302.2,544.58 1302.95,545.03 1303.7,545.56 1304.45,545.85 1305.2,546.11 1305.95,546.34 1306.7,546.68 1307.45,547.32 1308.2,547.72 1308.95,547.93 1309.7,548.38 1310.45,549.19 1311.2,550.12 1311.95,550.43 1312.7,550.85 1313.45,551.69 1314.2,552.23 1314.95,552.73 1315.7,553 1316.45,553.22 1317.2,553.55 1317.95,553.51 1318.7,553.71 1319.45,553.93 1320.2,553.72 1320.95,554.07 1321.7,554.81 1322.45,555.18 1323.2,555.33 1323.95,555.47 1324.7,555.61 1325.45,556 1326.2,556.14 1326.95,555.86 1327.7,555.79 1328.45,555.81 1329.2,555.73 1329.95,555.87 1330.7,556.2 1331.45,556.15 1332.2,555.69 1332.95,555.28 1333.7,555.49 1334.45,555.78 1335.2,555.49 1335.95,555.15 1336.7,555.21 1337.45,555.29 1338.2,554.8 1338.95,554.24 1339.7,554.39 1340.45,554.53 1341.2,554.35 1341.95,554.56 1342.7,555.11 1343.45,555.53 1344.2,555.42 1344.95,554.75 1345.7,554.33 1346.45,554.4 1347.2,554.32 1347.95,554.54 1348.7,554.99 1349.45,555.04 1350.2,555.18 1350.95,555.42 1351.7,555.47 1352.45,555.34 1353.2,555.48 1353.95,555.88 1354.7,555.88 1355.45,555.66 1356.2,555.61 1356.95,555.61 1357.7,555.55 1358.45,555.49 1359.2,555.07 1359.95,554.4 1360.7,554.17 1361.45,554.63 1362.2,555.21 1362.95,554.94 1363.7,554.09 1364.45,553.53 1365.2,553.35 1365.95,553.41 1366.7,553.34 1367.45,552.67 1368.2,552.06 1368.95,551.86 1369.7,551.93 1370.45,552.07 1371.2,551.71 1371.95,551.19 1372.7,550.57 1373.45,549.97 1374.2,549.98 1374.95,549.87 1375.7,549.43 1376.45,549.11 1377.2,548.77 1377.95,548.62 1378.7,548.54 1379.45,548.29 1380.2,548.14 1380.95,547.98 1381.7,547.69 1382.45,547.42 1383.2,547.34 1383.95,547.68 1384.7,548.11 1385.45,548.37 1386.2,548.59 1386.95,548.48 1387.7,548.61 1388.45,549.34 1389.2,549.89 1389.95,550.32 1390.7,550.72 1391.45,550.98 1392.2,550.77 1392.95,550.66 1393.7,551.53 1394.45,552.34 1395.2,552.81 1395.95,553.23 1396.7,553.54 1397.45,553.67 1398.2,553.76 1398.95,554.39 1399.7,555.17 1400.45,555.46 1401.2,555.36 1401.95,555.54 1402.7,556.33 1403.45,557.2 1404.2,558.03 1404.95,558.86 1405.7,559.13 1406.45,559.16 1407.2,559.53 1407.95,559.96 1408.7,560.26 1409.45,560.56 1410.2,560.91 1410.95,560.97 1411.7,560.96 1412.45,561.32 1413.2,561.86 1413.95,562.16 1414.7,562.4 1415.45,562.5 1416.2,562.59 1416.95,563.05 1417.7,563.14 1418.45,562.87 1419.2,562.7 1419.95,562.56 1420.7,562.65 1421.45,562.91 1422.2,562.88 1422.95,562.65 1423.7,562.57 1424.45,562.95 1425.2,563.34 1425.95,562.84 1426.7,561.91 1427.45,561.9 1428.2,562.39 1428.95,562.46 1429.7,562.68 1430.45,563.01 1431.2,563.25 1431.95,563.28 1432.7,562.89 1433.45,562.63 1434.2,562.39 1434.95,562.16 1435.7,562.51 1436.45,563.17 1437.2,563.03 1437.95,562.39 1438.7,562.08 1439.45,561.83 1440.2,561.37 1440.95,560.82 1441.7,560.55 1442.45,560.25 1443.2,559.74 1443.95,559.42 1444.7,559.28 1445.45,559.37 1446.2,559.6 1446.95,559.54 1447.7,559.15 1448.45,558.69 1449.2,558.19 1449.95,557.69 1450.7,557.73 1451.45,557.99 1452.2,557.78 1452.95,557.62 1453.7,557.89 1454.45,558.16 1455.2,558.24 1455.95,558.45 1456.7,558.81 1457.45,558.97 1458.2,559.21 1458.95,559.9 1459.7,560.78 1460.45,561.54 1461.2,561.62 1461.95,561.52 1462.7,562.02 1463.45,562.28 1464.2,562.21 1464.95,562.29 1465.7,562.1 1466.45,561.43 1467.2,560.67 1467.95,560.17 1468.7,559.74 1469.45,558.87 1470.2,557.97 1470.95,557.6 1471.7,557.21 1472.45,556.87 1473.2,556.71 1473.95,556.22 1474.7,555.77 1475.45,556.03 1476.2,556.24 1476.95,555.97 1477.7,556.26 1478.45,557.07 1479.2,557.51 1479.95,558.25 1480.7,559.22 1481.45,560.09 1482.2,560.98 1482.95,561.56 1483.7,562.22 1484.45,562.88 1485.2,563.21 1485.95,563.24 1486.7,563.38 1487.45,563.86 1488.2,563.75 1488.95,563.25 1489.7,563.09 1490.45,563.01 1491.2,562.84 1491.95,562.64 1492.7,562.2 1493.45,561.75 1494.2,561.6 1494.95,561.62 1495.7,561.64 1496.45,561.28 1497.2,560.77 1497.95,560.35 1498.7,559.87 1499.45,559.51 1500.2,559.34 1500.95,559.18 1501.7,559 1502.45,559.04 1503.2,559.02 1503.95,558.9 1504.7,559.06 1505.45,559.32 1506.2,559.31 1506.95,559.58 1507.7,560.58 1508.45,562.14 1509.2,563.25 1509.95,562.73 1510.7,561.16 1511.45,559.7 1512.2,558.74 1512.95,558.38 1513.7,557.61 1514.45,556.95 1515.2,556.81 1515.95,557.63 1516.7,560.26 1517.45,562.82 1518.2,565.57 1518.95,568.73 1519.7,571.1 1520.45,572.38 1521.2,572.97 1521.95,573.48 1522.7,573.84 1523.45,573.84 1524.2,574.01 1524.95,574.51 1525.2,574.67"/>
<path id="curve-blue" stroke="#0909D6" d="M132.2,625.58 132.95,625.52 133.7,625.41 134.45,625.53 135.2,625.3 135.95,624.97 136.7,625.25 137.45,625.7 138.2,625.6 138.95,625.41 139.7,625.6 140.45,625.73 141.2,625.77 141.95,625.62 142.7,625.41 143.45,625.5 144.2,625.75 144.95,626.1 145.7,626.09 146.45,625.65 147.2,625.42 147.95,625.59 148.7,625.57 149.45,625.69 150.2,626.21 150.95,626.36 151.7,626.08 152.45,625.87 153.2,625.83 153.95,625.49 154.7,625.44 155.45,625.8 156.2,625.5 156.95,624.94 157.7,625.23 158.45,626.12 159.2,626.58 159.95,626.26 160.7,625.92 161.45,625.79 162.2,625.63 162.95,625.57 163.7,625.47 164.45,625.57 165.2,625.85 165.95,625.94 166.7,625.97 167.45,626.05 168.2,626.01 168.95,626.1 169.7,625.87 170.45,625.39 171.2,625.55 171.95,625.7 172.7,625.61 173.45,625.53 174.2,625.49 174.95,625.82 175.7,626.06 176.45,626.29 177.2,626.57 177.95,626.25 178.7,625.76 179.45,625.65 180.2,625.65 180.95,625.75 181.7,625.93 182.45,625.82 183.2,626.03 183.95,626.53 184.7,626.43 185.45,626.22 186.2,626.21 186.95,626.09 187.7,626.02 188.45,625.79 189.2,625.61 189.95,625.92 190.7,626.07 191.45,625.68 192.2,625.37 192.95,625.16 193.7,624.97 194.45,625.13 195.2,625.67 195.95,626.09 196.7,625.66 197.45,625.35 198.2,625.73 198.95,625.79 199.7,625.71 200.45,625.77 201.2,625.7 201.95,625.71 202.7,625.92 203.45,625.82 204.2,625.5 204.95,625.33 205.7,625.3 206.45,625.58 207.2,625.84 207.95,625.85 208.7,625.7 209.45,625.7 210.2,625.8 210.95,625.55 211.7,625.29 212.45,625.25 213.2,625.24 213.95,625.5 214.7,625.83 215.45,625.38 216.2,624.72 216.95,624.6 217.7,624.79 218.45,625.33 219.2,625.5 219.95,625.18 220.7,625.08 221.45,625.05 222.2,625.26 222.95,625.39 223.7,624.84 224.45,624.55 225.2,624.91 225.95,625.11 226.7,625.14 227.45,624.99 228.2,624.36 228.95,624.15 229.7,624.57 230.45,624.44 231.2,623.98 231.95,624.15 232.7,624.61 233.45,624.62 234.2,624.54 234.95,624.43 235.7,623.97 236.45,623.61 237.2,623.55 237.95,623.59 238.7,623.66 239.45,623.72 240.2,623.82 240.95,623.87 241.7,624.04 242.45,624.45 243.2,624.83 243.95,624.84 244.7,624.55 245.45,624.36 246.2,624.48 246.95,624.96 247.7,625.12 248.45,624.89 249.2,624.91 249.95,624.91 250.7,624.95 251.45,625.07 252.2,625.22 252.95,625.24 253.7,624.93 254.45,624.95 255.2,625.14 255.95,625.19 256.7,625.23 257.45,625.15 258.2,625.16 258.95,625.17 259.7,625.45 260.45,626.08 261.2,626.52 261.95,626.55 262.7,626.36 263.45,626.32 264.2,626.38 264.95,626.04 265.7,625.6 266.45,625.55 267.2,625.97 267.95,626.2 268.7,625.92 269.45,625.77 270.2,625.83 270.95,625.84 271.7,625.71 272.45,625.87 273.2,626.08 273.95,625.7 274.7,625.73 275.45,626.34 276.2,626.56 276.95,626.32 277.7,626.2 278.45,626.26 279.2,626.4 279.95,626.51 280.7,626.24 281.45,626 282.2,626.18 282.95,626.58 283.7,627.04 284.45,627.04 285.2,626.41 285.95,625.86 286.7,626.24 287.45,626.89 288.2,626.81 288.95,626.91 289.7,627.09 290.45,626.65 291.2,626.38 291.95,626.28 292.7,626.36 293.45,626.86 294.2,626.8 294.95,626.43 295.7,626.65 296.45,626.77 297.2,626.73 297.95,626.59 298.7,626.32 299.45,626.29 300.2,626.65 300.95,627.4 301.7,627.59 302.45,626.87 303.2,626.56 303.95,626.85 304.7,627.07 305.45,627.45 306.2,627.74 306.95,627.41 307.7,626.71 308.45,626.31 309.2,626.4 309.95,626.49 310.7,626.64 311.45,627.04 312.2,627.09 312.95,626.78 313.7,626.73 314.45,627.07 315.2,626.96 315.95,626.45 316.7,626.52 317.45,626.61 318.2,626.47 318.95,626.59 319.7,627.02 320.45,627.32 321.2,626.99 321.95,626.5 322.7,626.49 323.45,626.73 324.2,626.67 324.95,626.75 325.7,626.98 326.45,626.85 327.2,626.67 327.95,626.82 328.7,627.02 329.45,626.96 330.2,626.93 330.95,626.91 331.7,626.82 332.45,626.82 333.2,626.94 333.95,627.16 334.7,626.87 335.45,626.38 336.2,626.68 336.95,627.07 337.7,626.86 338.45,626.82 339.2,626.9 339.95,626.68 340.7,626.78 341.45,627.12 342.2,627.01 342.95,626.5 343.7,626.56 344.45,626.97 345.2,626.82 345.95,627.05 346.7,627.44 347.45,626.75 348.2,626.56 348.95,627.46 349.7,627.57 350.45,627.48 351.2,627.66 351.95,627.42 352.7,627.25 353.45,627.02 354.2,626.87 354.95,627.12 355.7,627.37 356.45,627.51 357.2,627.31 357.95,626.88 358.7,627.04 359.45,627.48 360.2,627.32 360.95,627.17 361.7,627.45 362.45,627.63 363.2,627.35 363.95,626.85 364.7,626.8 365.45,627.2 366.2,627.15 366.95,626.65 367.7,626.56 368.45,626.89 369.2,626.98 369.95,627.1 370.7,627.5 371.45,627.37 372.2,627.38 372.95,627.68 373.7,627.48 374.45,627.16 375.2,627.01 375.95,626.85 376.7,626.66 377.45,626.73 378.2,626.76 378.95,626.77 379.7,627.1 380.45,626.9 381.2,626.55 381.95,626.73 382.7,626.83 383.45,626.82 384.2,626.71 384.95,626.75 385.7,627.24 386.45,627.29 387.2,626.7 387.95,626.55 388.7,626.91 389.45,627.12 390.2,627.04 390.95,627.17 391.7,627.44 392.45,627.24 393.2,626.84 393.95,626.69 394.7,626.79 395.45,626.79 396.2,626.68 396.95,626.85 397.7,626.99 398.45,626.79 399.2,626.75 399.95,627.03 400.7,626.98 401.45,626.51 402.2,626.62 402.95,627.12 403.7,626.92 404.45,626.61 405.2,627 405.95,627.27 406.7,626.81 407.45,626.5 408.2,626.91 408.95,627.2 409.7,626.99 410.45,627.07 411.2,627.31 411.95,627.13 412.7,626.95 413.45,627.02 414.2,627.11 414.95,627.16 415.7,627.09 416.45,626.7 417.2,626.47 417.95,626.76 418.7,626.6 419.45,626.23 420.2,626.56 420.95,626.87 421.7,626.48 422.45,626.01 423.2,626.13 423.95,626.38 424.7,626.25 425.45,626.14 426.2,626.61 426.95,627.03 427.7,626.99 428.45,626.81 429.2,626.85 429.95,627.07 430.7,626.94 431.45,626.72 432.2,626.85 432.95,627.12 433.7,627.21 434.45,626.89 435.2,626.48 435.95,626.48 436.7,626.72 437.45,626.94 438.2,626.74 438.95,626.19 439.7,626.05 440.45,626.39 441.2,626.9 441.95,627.05 442.7,626.95 443.45,626.83 444.2,626.66 444.95,626.7 445.7,626.72 446.45,626.63 447.2,626.72 447.95,626.99 448.7,626.82 449.45,626.27 450.2,626.26 450.95,626.61 451.7,626.52 452.45,626.08 453.2,626.05 453.95,626.59 454.7,626.87 455.45,626.5 456.2,626.31 456.95,626.46 457.7,626.53 458.45,626.56 459.2,626.52 459.95,626.51 460.7,626.61 461.45,626.69 462.2,626.71 462.95,626.52 463.7,626.27 464.45,626.42 465.2,626.68 465.95,626.84 466.7,627.02 467.45,626.92 468.2,626.48 468.95,626.39 469.7,626.46 470.45,626.33 471.2,626.31 471.95,626.33 472.7,626.69 473.45,627.14 474.2,627.12 474.95,626.94 475.7,626.71 476.45,626.63 477.2,626.72 477.95,627.09 478.7,627.68 479.45,627.84 480.2,627.58 480.95,627.32 481.7,627.26 482.45,627.49 483.2,627.45 483.95,627 484.7,626.9 485.45,627.21 486.2,627.39 486.95,627.37 487.7,627.38 488.45,627.15 489.2,627.27 489.95,627.92 490.7,627.88 491.45,627.16 492.2,626.77 492.95,627.06 493.7,627.49 494.45,627.37 495.2,627.21 495.95,627.57 496.7,627.62 497.45,627.14 498.2,626.94 498.95,627.08 499.7,627.31 500.45,627.13 501.2,626.58 501.95,626.45 502.7,626.74 503.45,626.76 504.2,626.61 504.95,626.57 505.7,626.29 506.45,625.81 507.2,625.82 507.95,626.35 508.7,626.59 509.45,626.2 510.2,625.69 510.95,625.34 511.7,625.18 512.45,625.08 513.2,624.96 513.95,624.96 514.7,625.07 515.45,624.98 516.2,624.43 516.95,623.79 517.7,623.2 518.45,622.98 519.2,622.38 519.95,620.73 520.7,619.39 521.45,618.64 522.2,617.45 522.95,616.16 523.7,615.19 524.45,614.38 525.2,613.62 525.95,612.54 526.7,611.19 527.45,609.83 528.2,608.51 528.95,607.5 529.7,605.84 530.45,602.16 531.2,598.88 531.95,597.29 532.7,596.15 533.45,595.25 534.2,594.38 534.95,593.13 535.7,591.13 536.45,588.66 537.2,585.84 537.95,582.11 538.7,578.34 539.45,575.83 540.2,574.21 540.95,572.33 541.7,570.57 542.45,569.65 543.2,569.63 543.95,569.73 544.7,569.95 545.45,570.16 546.2,570.12 546.95,570.29 547.7,570.55 548.45,570.63 549.2,569.46 549.95,565.75 550.7,560.67 551.45,556.01 552.2,550.25 552.95,543.37 553.7,536.37 554.45,530.16 555.2,525.2 555.95,520.39 556.7,516.38 557.45,513.88 558.2,513.44 558.95,516.15 559.7,521.23 560.45,526.75 561.2,532.11 561.95,538.41 562.7,544.29 563.45,548.83 564.2,552.12 564.95,555.48 565.7,558.44 566.45,560.26 567.2,561.79 567.95,563.83 568.7,566.47 569.45,569.26 570.2,571.45 570.95,573.57 571.7,576.11 572.45,578.37 573.2,580.01 573.95,581.6 574.7,583.69 575.45,585.47 576.2,586.19 576.95,586.64 577.7,586.79 578.45,585.71 579.2,583.87 579.95,582.04 580.7,580.82 581.45,580.22 582.2,579.46 582.95,577.73 583.7,575.69 584.45,572.59 585.2,566.89 585.95,560.98 586.7,556.84 587.45,553.63 588.2,552.3 588.95,553.65 589.7,556.75 590.45,560.31 591.2,564.68 591.95,571.45 592.7,579.06 593.45,585.88 594.2,591.25 594.95,596.66 595.7,601.64 596.45,605.96 597.2,609.24 597.95,611.1 598.7,612.7 599.45,614.19 600.2,615.4 600.95,616.29 601.7,616.89 602.45,617.83 603.2,618.93 603.95,619.69 604.7,620.05 605.45,620.14 606.2,620.57 606.95,621.21 607.7,621.63 608.45,622.16 609.2,622.66 609.95,622.69 610.7,622.88 611.45,623.39 612.2,623.71 612.95,624.09 613.7,624.57 614.45,624.62 615.2,624.38 615.95,624.58 616.7,625.01 617.45,625.08 618.2,625.07 618.95,625.4 619.7,625.88 620.45,625.59 621.2,625.07 621.95,625.13 622.7,625.13 623.45,625.37 624.2,625.63 624.95,625.52 625.7,625.67 626.45,625.95 627.2,625.93 627.95,625.83 628.7,625.94 629.45,626.13 630.2,626.28 630.95,626.32 631.7,626.48 632.45,626.76 633.2,626.66 633.95,626.45 634.7,626.44 635.45,626.43 636.2,626.65 636.95,626.72 637.7,626.19 638.45,626.01 639.2,626.31 639.95,626.52 640.7,626.85 641.45,626.98 642.2,626.8 642.95,626.56 643.7,626.32 644.45,626.21 645.2,626.34 645.95,626.43 646.7,626.55 647.45,626.93 648.2,626.86 648.95,626.11 649.7,626.01 650.45,626.57 651.2,626.26 651.95,625.68 652.7,626.07 653.45,626.93 654.2,627.47 654.95,627.62 655.7,627.78 656.45,627.98 657.2,627.69 657.95,627.06 658.7,626.85 659.45,626.95 660.2,627.05 660.95,627.14 661.7,627.5 662.45,627.69 663.2,627.43 663.95,627.27 664.7,626.98 665.45,627 666.2,627.45 666.95,627.51 667.7,627.62 668.45,627.66 669.2,627.31 669.95,627.52 670.7,627.78 671.45,627.48 672.2,627.6 672.95,627.98 673.7,628.06 674.45,628.05 675.2,628.05 675.95,628.01 676.7,627.99 677.45,627.76 678.2,627.5 678.95,627.59 679.7,627.85 680.45,628.09 681.2,628.1 681.95,627.98 682.7,627.97 683.45,627.9 684.2,627.75 684.95,627.69 685.7,627.59 686.45,627.45 687.2,627.75 687.95,628.34 688.7,628.15 689.45,627.58 690.2,627.62 690.95,627.79 691.7,627.83 692.45,628.01 693.2,628.19 693.95,627.79 694.7,627.29 695.45,627.66 696.2,628.11 696.95,628.03 697.7,627.68 698.45,627.37 699.2,627.45 699.95,627.79 700.7,627.67 701.45,627.27 702.2,627.4 702.95,627.54 703.7,627.41 704.45,627.51 705.2,627.63 705.95,627.39 706.7,627.41 707.45,627.9 708.2,628.05 708.95,627.82 709.7,627.68 710.45,627.65 711.2,627.59 711.95,627.66 712.7,627.86 713.45,627.86 714.2,627.57 714.95,627.64 715.7,627.8 716.45,627.57 717.2,627.6 717.95,627.84 718.7,627.86 719.45,627.58 720.2,627.42 720.95,627.44 721.7,627.24 722.45,627.26 723.2,627.6 723.95,627.56 724.7,627.52 725.45,627.87 726.2,628.05 726.95,628.21 727.7,628.2 728.45,627.83 729.2,627.42 729.95,627.41 730.7,628.01 731.45,628.29 732.2,627.98 732.95,627.63 733.7,627.33 734.45,627.29 735.2,627.71 735.95,627.99 736.7,627.92 737.45,627.96 738.2,627.92 738.95,627.62 739.7,627.41 740.45,627.33 741.2,627.45 741.95,627.85 742.7,627.83 743.45,627.42 744.2,627.21 744.95,627.28 745.7,627.65 746.45,627.77 747.2,627.49 747.95,627.52 748.7,627.53 749.45,627.34 750.2,627.77 750.95,628.4 751.7,628.36 752.45,627.9 753.2,627.79 753.95,628.01 754.7,628.2 755.45,628.25 756.2,628.04 756.95,627.9 757.7,628.1 758.45,628.11 759.2,627.89 759.95,628 760.7,628.03 761.45,627.76 762.2,627.57 762.95,627.52 763.7,627.16 764.45,626.97 765.2,627.3 765.95,627.44 766.7,627.42 767.45,627.37 768.2,627.43 768.95,627.37 769.7,627.24 770.45,627.45 771.2,627.28 771.95,627.28 772.7,628 773.45,628.19 774.2,627.93 774.95,627.94 775.7,627.93 776.45,627.85 777.2,628.03 777.95,628.05 778.7,627.77 779.45,627.73 780.2,627.61 780.95,627.44 781.7,627.65 782.45,627.96 783.2,628.11 783.95,627.86 784.7,627.57 785.45,627.61 786.2,627.32 786.95,627.02 787.7,627.2 788.45,627.54 789.2,627.96 789.95,628.12 790.7,628.07 791.45,627.93 792.2,627.53 792.95,626.53 793.7,625.14 794.45,623.93 795.2,622.35 795.95,620.79 796.7,620.26 797.45,619.67 798.2,618.87 798.95,618.47 799.7,617.91 800.45,617.14 801.2,617.12 801.95,617.81 802.7,618.81 803.45,620.09 804.2,621.2 804.95,622.07 805.7,623.06 806.45,623.72 807.2,623.66 807.95,623.54 808.7,623.48 809.45,622.79 810.2,621.78 810.95,621.04 811.7,620.82 812.45,621.21 813.2,621.79 813.95,622.45 814.7,623.1 815.45,623.62 816.2,624.22 816.95,624.74 817.7,624.98 818.45,625.2 819.2,625.53 819.95,625.75 820.7,625.89 821.45,626.06 822.2,626.31 822.95,626.71 823.7,626.92 824.45,626.88 825.2,627.07 825.95,627.57 826.7,627.97 827.45,628.1 828.2,628.39 828.95,628.66 829.7,628.9 830.45,629.08 831.2,628.75 831.95,628.51 832.7,628.69 833.45,628.93 834.2,629.12 834.95,629.32 835.7,629.39 836.45,629.18 837.2,629.13 837.95,629.23 838.7,629.12 839.45,628.91 840.2,628.54 840.95,628.24 841.7,628.29 842.45,628.34 843.2,628.25 843.95,627.94 844.7,627.8 845.45,627.78 846.2,627.09 846.95,626.55 847.7,626.65 848.45,626.83 849.2,626.84 849.95,626.64 850.7,626.56 851.45,626.67 852.2,626.42 852.95,626.01 853.7,625.92 854.45,626.02 855.2,626.13 855.95,625.87 856.7,625.73 857.45,625.93 858.2,625.87 858.95,625.83 859.7,625.82 860.45,625.52 861.2,625.5 861.95,625.66 862.7,625.5 863.45,625.24 864.2,625.06 864.95,625.11 865.7,625.24 866.45,625.59 867.2,625.57 867.95,624.76 868.7,624.48 869.45,624.8 870.2,624.74 870.95,624.5 871.7,624.5 872.45,624.53 873.2,624.47 873.95,624.75 874.7,625.21 875.45,625.01 876.2,624.3 876.95,623.66 877.7,623.66 878.45,624.21 879.2,624.36 879.95,623.99 880.7,623.69 881.45,623.49 882.2,623.11 882.95,622.53 883.7,622.2 884.45,622.48 885.2,622.82 885.95,622.64 886.7,621.95 887.45,621.61 888.2,621.72 888.95,621.4 889.7,621 890.45,621.03 891.2,621.42 891.95,621.8 892.7,621.62 893.45,621.39 894.2,621.37 894.95,621.66 895.7,622.19 896.45,622.36 897.2,622.45 897.95,622.58 898.7,622.55 899.45,622.76 900.2,623.73 900.95,624.82 901.7,625.1 902.45,625.15 903.2,625.31 903.95,625.18 904.7,625.5 905.45,626.23 906.2,626.8 906.95,627.57 907.7,627.7 908.45,627.25 909.2,627.29 909.95,627.65 910.7,627.81 911.45,627.69 912.2,627.42 912.95,627.49 913.7,628.03 914.45,628.14 915.2,627.57 915.95,627.22 916.7,627.85 917.45,628.5 918.2,628.27 918.95,627.65 919.7,627.05 920.45,627.08 921.2,627.5 921.95,627.56 922.7,627.39 923.45,627.61 924.2,627.75 924.95,627.43 925.7,627.27 926.45,627.16 927.2,626.71 927.95,626.28 928.7,626.39 929.45,626.78 930.2,626.88 930.95,626.71 931.7,626.56 932.45,626.76 933.2,626.9 933.95,626.3 934.7,625.58 935.45,625.24 936.2,625.25 936.95,625.38 937.7,625.12 938.45,624.77 939.2,624.41 939.95,623.97 940.7,623.83 941.45,623.87 942.2,623.88 942.95,624.03 943.7,624 944.45,623.74 945.2,623.77 945.95,623.76 946.7,623.63 947.45,623.84 948.2,623.74 948.95,623.34 949.7,623.52 950.45,623.76 951.2,623.45 951.95,623.26 952.7,623.53 953.45,623.45 954.2,622.98 954.95,622.93 955.7,623.28 956.45,623.21 957.2,623.2 957.95,623.45 958.7,623.33 959.45,623.22 960.2,623.12 960.95,623.22 961.7,623.43 962.45,623.4 963.2,623.42 963.95,623.59 964.7,623.82 965.45,623.77 966.2,623.43 966.95,623.11 967.7,623.11 968.45,623.53 969.2,624.01 969.95,623.99 970.7,623.76 971.45,623.75 972.2,623.67 972.95,623.59 973.7,623.58 974.45,623.65 975.2,624.27 975.95,624.73 976.7,624.46 977.45,624.46 978.2,624.59 978.95,624.54 979.7,624.58 980.45,624.55 981.2,624.85 981.95,625.44 982.7,625.57 983.45,625.25 984.2,624.95 984.95,625.01 985.7,625.37 986.45,625.37 987.2,625.36 987.95,625.68 988.7,625.66 989.45,625.69 990.2,625.92 990.95,625.58 991.7,625.65 992.45,626.29 993.2,626.21 993.95,626.12 994.7,626.76 995.45,627.05 996.2,626.84 996.95,626.86 997.7,627.14 998.45,627.31 999.2,627.1 999.95,626.93 1000.7,627.11 1001.45,627.07 1002.2,626.95 1002.95,627.12 1003.7,627.37 1004.45,627.85 1005.2,628.3 1005.95,628.66 1006.7,628.95 1007.45,628.65 1008.2,628.16 1008.95,628.14 1009.7,628.48 1010.45,628.37 1011.2,627.95 1011.95,628.19 1012.7,628.6 1013.45,628.65 1014.2,628.78 1014.95,629.16 1015.7,629.21 1016.45,628.72 1017.2,628.49 1017.95,628.47 1018.7,628.88 1019.45,629.65 1020.2,629.77 1020.95,629.5 1021.7,629.34 1022.45,629.6 1023.2,629.8 1023.95,629.6 1024.7,629.84 1025.45,629.88 1026.2,629.5 1026.95,629.46 1027.7,629.51 1028.45,629.75 1029.2,630.05 1029.95,630.18 1030.7,630.34 1031.45,629.96 1032.2,629.53 1032.95,629.71 1033.7,629.36 1034.45,629.01 1035.2,629.51 1035.95,630.22 1036.7,630.81 1037.45,630.9 1038.2,630.63 1038.95,630.54 1039.7,630.48 1040.45,630.44 1041.2,630.53 1041.95,630.41 1042.7,630.37 1043.45,630.42 1044.2,630.75 1044.95,631.28 1045.7,630.97 1046.45,630.36 1047.2,630.2 1047.95,630.31 1048.7,630.63 1049.45,630.62 1050.2,630.31 1050.95,630.65 1051.7,631.25 1052.45,631.13 1053.2,630.81 1053.95,630.71 1054.7,630.78 1055.45,631.1 1056.2,631.53 1056.95,631.46 1057.7,630.91 1058.45,630.78 1059.2,631 1059.95,631.15 1060.7,631.48 1061.45,631.52 1062.2,630.86 1062.95,630.36 1063.7,630.59 1064.45,630.93 1065.2,631.05 1065.95,631.34 1066.7,631.53 1067.45,631.47 1068.2,631.35 1068.95,631.39 1069.7,631.35 1070.45,631.19 1071.2,631.78 1071.95,632.51 1072.7,632.33 1073.45,631.81 1074.2,631.66 1074.95,631.74 1075.7,631.94 1076.45,632.06 1077.2,631.74 1077.95,631.39 1078.7,631.4 1079.45,631.43 1080.2,631.38 1080.95,631.67 1081.7,631.64 1082.45,631.29 1083.2,631.36 1083.95,631.32 1084.7,630.98 1085.45,630.62 1086.2,630.39 1086.95,630.3 1087.7,630.43 1088.45,630.66 1089.2,630.97 1089.95,631.37 1090.7,631.35 1091.45,631 1092.2,630.83 1092.95,630.84 1093.7,630.72 1094.45,630.67 1095.2,630.67 1095.95,630.34 1096.7,629.83 1097.45,629.82 1098.2,630.23 1098.95,630.14 1099.7,629.88 1100.45,629.93 1101.2,629.8 1101.95,629.85 1102.7,629.83 1103.45,629.22 1104.2,629.29 1104.95,629.79 1105.7,630 1106.45,630.14 1107.2,629.93 1107.95,629.53 1108.7,629.49 1109.45,629.61 1110.2,629.31 1110.95,629.04 1111.7,629.17 1112.45,629.23 1113.2,629.05 1113.95,628.9 1114.7,628.61 1115.45,628.27 1116.2,628.65 1116.95,629.05 1117.7,628.64 1118.45,628.58 1119.2,628.63 1119.95,628 1120.7,627.78 1121.45,627.59 1122.2,627.18 1122.95,627.28 1123.7,626.94 1124.45,626.2 1125.2,625.82 1125.95,625.94 1126.7,626.53 1127.45,626.36 1128.2,625.38 1128.95,624.88 1129.7,624.75 1130.45,624.52 1131.2,624.43 1131.95,624.45 1132.7,624.72 1133.45,625.09 1134.2,625.3 1134.95,625.34 1135.7,625.36 1136.45,625.59 1137.2,625.73 1137.95,625.99 1138.7,626.27 1139.45,626.03 1140.2,625.94 1140.95,626.2 1141.7,626.3 1142.45,626.56 1143.2,626.61 1143.95,626.35 1144.7,626.55 1145.45,627.2 1146.2,627.94 1146.95,628.39 1147.7,628.79 1148.45,629.31 1149.2,629.14 1149.95,628.88 1150.7,629.25 1151.45,629.44 1152.2,629.62 1152.95,630.03 1153.7,630.36 1154.45,630.66 1155.2,630.91 1155.95,630.83 1156.7,630.5 1157.45,630.59 1158.2,630.65 1158.95,630.45 1159.7,630.66 1160.45,630.7 1161.2,630.56 1161.95,630.71 1162.7,630.72 1163.45,630.78 1164.2,630.8 1164.95,630.27 1165.7,629.81 1166.45,629.72 1167.2,629.89 1167.95,630.14 1168.7,629.96 1169.45,629.61 1170.2,629.65 1170.95,629.83 1171.7,629.73 1172.45,629.47 1173.2,629.04 1173.95,628.43 1174.7,628.29 1175.45,628.39 1176.2,628.13 1176.95,627.67 1177.7,627.12 1178.45,626.73 1179.2,626.37 1179.95,626.03 1180.7,625.95 1181.45,625.55 1182.2,625.02 1182.95,624.57 1183.7,623.34 1184.45,621.96 1185.2,620.86 1185.95,619.19 1186.7,617.15 1187.45,613.29 1188.2,607.81 1188.95,602.07 1189.7,596.29 1190.45,590.9 1191.2,587.04 1191.95,585.05 1192.7,583.22 1193.45,581.45 1194.2,580.63 1194.95,581.07 1195.7,582.14 1196.45,583.63 1197.2,585.3 1197.95,586.74 1198.7,588.57 1199.45,590.97 1200.2,593.52 1200.95,596.05 1201.7,598.67 1202.45,601.09 1203.2,603.18 1203.95,605.16 1204.7,607.39 1205.45,609.82 1206.2,612.25 1206.95,614.56 1207.7,615.93 1208.45,616.77 1209.2,618.03 1209.95,619.2 1210.7,619.86 1211.45,620.28 1212.2,620.58 1212.95,620.96 1213.7,621.4 1214.45,621.53 1215.2,621.5 1215.95,621.48 1216.7,621.16 1217.45,620.84 1218.2,620.53 1218.95,620.17 1219.7,619.88 1220.45,619.27 1221.2,618.94 1221.95,618.89 1222.7,618.19 1223.45,617.02 1224.2,616.01 1224.95,615.6 1225.7,614.78 1226.45,611.45 1227.2,607.24 1227.95,603.86 1228.7,600.42 1229.45,597.54 1230.2,597.38 1230.95,599.7 1231.7,602.92 1232.45,605.82 1233.2,608.72 1233.95,611.08 1234.7,612.7 1235.45,613.97 1236.2,615.16 1236.95,615.77 1237.7,616.28 1238.45,616.48 1239.2,616.59 1239.95,617.08 1240.7,617.62 1241.45,618.16 1242.2,618.21 1242.95,618.18 1243.7,618.52 1244.45,618.77 1245.2,618.87 1245.95,619.18 1246.7,619.55 1247.45,619.65 1248.2,619.62 1248.95,619.6 1249.7,619.48 1250.45,619.5 1251.2,619.6 1251.95,619.11 1252.7,618.6 1253.45,618.64 1254.2,618.88 1254.95,619.4 1255.7,619.64 1256.45,619.37 1257.2,619.28 1257.95,619.4 1258.7,619.72 1259.45,620.09 1260.2,620.19 1260.95,620.12 1261.7,620.34 1262.45,620.57 1263.2,620.51 1263.95,620.59 1264.7,620.68 1265.45,620.77 1266.2,620.86 1266.95,621.13 1267.7,621.6 1268.45,621.63 1269.2,621.53 1269.95,621.82 1270.7,622.02 1271.45,622.13 1272.2,622.27 1272.95,622.14 1273.7,622.21 1274.45,622.2 1275.2,621.49 1275.95,620.95 1276.7,620.51 1277.45,619.86 1278.2,619.7 1278.95,619.99 1279.7,619.89 1280.45,619.47 1281.2,619.41 1281.95,619.43 1282.7,619.32 1283.45,619.5 1284.2,619.71 1284.95,619.87 1285.7,620.49 1286.45,621.03 1287.2,621.19 1287.95,621.16 1288.7,621.03 1289.45,621.38 1290.2,622.24 1290.95,622.95 1291.7,623.2 1292.45,623.53 1293.2,624.51 1293.95,625.19 1294.7,624.92 1295.45,624.8 1296.2,625.44 1296.95,625.94 1297.7,625.65 1298.45,625.49 1299.2,625.66 1299.95,625.86 1300.7,626 1301.45,625.76 1302.2,625.63 1302.95,625.93 1303.7,626.39 1304.45,626.83 1305.2,627 1305.95,626.83 1306.7,626.5 1307.45,626.38 1308.2,626.39 1308.95,626.04 1309.7,625.74 1310.45,625.89 1311.2,626.03 1311.95,625.97 1312.7,625.42 1313.45,624.62 1314.2,624.01 1314.95,623.62 1315.7,623.45 1316.45,622.84 1317.2,621.87 1317.95,621.6 1318.7,622.04 1319.45,621.95 1320.2,621.71 1320.95,621.75 1321.7,621.47 1322.45,621.14 1323.2,620.74 1323.95,620.41 1324.7,620.57 1325.45,620.96 1326.2,620.89 1326.95,620.62 1327.7,620.7 1328.45,620.93 1329.2,621.03 1329.95,621.25 1330.7,622.09 1331.45,622.76 1332.2,622.66 1332.95,622.61 1333.7,622.92 1334.45,623.61 1335.2,624.45 1335.95,624.66 1336.7,624.81 1337.45,625.42 1338.2,625.78 1338.95,626 1339.7,626.07 1340.45,626.19 1341.2,626.59 1341.95,626.91 1342.7,627.16 1343.45,627.15 1344.2,627.08 1344.95,627.32 1345.7,627.5 1346.45,627.75 1347.2,628 1347.95,628.05 1348.7,628.27 1349.45,628.3 1350.2,627.83 1350.95,627.42 1351.7,627.55 1352.45,627.74 1353.2,627.56 1353.95,627.61 1354.7,627.46 1355.45,626.96 1356.2,626.65 1356.95,626.26 1357.7,626.06 1358.45,625.71 1359.2,625.28 1359.95,625.68 1360.7,626.1 1361.45,625.74 1362.2,625.56 1362.95,626.08 1363.7,626.17 1364.45,625.85 1365.2,625.8 1365.95,625.64 1366.7,625.83 1367.45,626.62 1368.2,627.31 1368.95,627.73 1369.7,627.8 1370.45,627.93 1371.2,628.18 1371.95,628.12 1372.7,628.24 1373.45,628.49 1374.2,628.45 1374.95,628.25 1375.7,628.16 1376.45,628.36 1377.2,628.4 1377.95,628.15 1378.7,627.86 1379.45,627.39 1380.2,626.66 1380.95,626.07 1381.7,625.87 1382.45,625.98 1383.2,626.37 1383.95,626.5 1384.7,626.32 1385.45,626.26 1386.2,626.34 1386.95,626.56 1387.7,626.81 1388.45,626.88 1389.2,626.79 1389.95,627.21 1390.7,627.58 1391.45,627.36 1392.2,627.51 1392.95,628.09 1393.7,628.88 1394.45,629.46 1395.2,629.58 1395.95,629.81 1396.7,630.45 1397.45,630.97 1398.2,631.06 1398.95,631.42 1399.7,631.76 1400.45,631.44 1401.2,631.37 1401.95,631.83 1402.7,631.88 1403.45,631.6 1404.2,631 1404.95,629.83 1405.7,629.13 1406.45,628.67 1407.2,628.01 1407.95,628.29 1408.7,628.95 1409.45,628.6 1410.2,628.16 1410.95,628.53 1411.7,628.57 1412.45,628.03 1413.2,627.94 1413.95,628.53 1414.7,629.07 1415.45,629.11 1416.2,629.33 1416.95,630.07 1417.7,630.47 1418.45,630.42 1419.2,630.77 1419.95,631.77 1420.7,632.76 1421.45,633.36 1422.2,634.22 1422.95,635.1 1423.7,635.58 1424.45,636.12 1425.2,636.86 1425.95,637.46 1426.7,638.12 1427.45,638.95 1428.2,639.38 1428.95,639.37 1429.7,639.18 1430.45,639.13 1431.2,639.35 1431.95,639.82 1432.7,640.53 1433.45,640.99 1434.2,641.06 1434.95,640.56 1435.7,639.83 1436.45,639.83 1437.2,640.11 1437.95,639.93 1438.7,639.49 1439.45,639.13 1440.2,638.73 1440.95,638.4 1441.7,638.08 1442.45,637.54 1443.2,637.27 1443.95,637.34 1444.7,637.23 1445.45,637.07 1446.2,636.87 1446.95,636.5 1447.7,636.46 1448.45,636.38 1449.2,635.89 1449.95,635.83 1450.7,636.02 1451.45,635.88 1452.2,635.72 1452.95,635.55 1453.7,635.48 1454.45,635.56 1455.2,636.04 1455.95,636.79 1456.7,636.92 1457.45,637.02 1458.2,637.51 1458.95,637.79 1459.7,637.94 1460.45,638.19 1461.2,638.21 1461.95,637.82 1462.7,637.72 1463.45,638.06 1464.2,638.12 1464.95,637.68 1465.7,637.1 1466.45,636.68 1467.2,636.07 1467.95,635.27 1468.7,634.77 1469.45,634.41 1470.2,633.55 1470.95,632.54 1471.7,632.17 1472.45,632.07 1473.2,631.63 1473.95,631.28 1474.7,631.15 1475.45,630.98 1476.2,631.07 1476.95,631.69 1477.7,632.35 1478.45,632.82 1479.2,633.56 1479.95,634.2 1480.7,634.59 1481.45,635.45 1482.2,636.54 1482.95,637.28 1483.7,638.15 1484.45,639.16 1485.2,639.82 1485.95,640.42 1486.7,640.74 1487.45,640.77 1488.2,641.16 1488.95,641.35 1489.7,640.91 1490.45,640.4 1491.2,640.07 1491.95,639.59 1492.7,639.25 1493.45,639.23 1494.2,638.65 1494.95,638.13 1495.7,638.28 1496.45,638.02 1497.2,637.6 1497.95,637.61 1498.7,637.52 1499.45,637.17 1500.2,636.65 1500.95,636.42 1501.7,636.67 1502.45,636.83 1503.2,636.92 1503.95,636.95 1504.7,636.6 1505.45,636.29 1506.2,636.19 1506.95,636.86 1507.7,638.26 1508.45,639.85 1509.2,641.05 1509.95,641.15 1510.7,640.07 1511.45,638.01 1512.2,636.43 1512.95,636.1 1513.7,635.77 1514.45,635.57 1515.2,635.39 1515.95,636.11 1516.7,638.55 1517.45,641.19 1518.2,644.08 1518.95,646.65 1519.7,648.42 1520.45,649.64 1521.2,650.81 1521.95,652.07 1522.7,652.82 1523.45,653.03 1524.2,653.49 1524.95,654.04 1525.2,654.05"/>
<path id="curve-black" stroke="#000000" d="M132.2,792.78 132.95,793 133.7,793.29 134.45,792.98 135.2,792.91 135.95,793.02 136.7,792.58 137.45,792.43 138.2,792.61 138.95,792.46 139.7,792.28 140.45,792.41 141.2,792.63 141.95,792.56 142.7,792.2 143.45,792.4 144.2,793.13 144.95,793.11 145.7,792.58 146.45,792.48 147.2,792.34 147.95,792.14 148.7,792.21 149.45,792.52 150.2,792.92 150.95,792.94 151.7,792.66 152.45,792.5 153.2,792.52 153.95,792.65 154.7,792.68 155.45,792.49 156.2,792.44 156.95,792.5 157.7,792.53 158.45,792.61 159.2,792.78 159.95,792.88 160.7,792.86 161.45,792.85 162.2,792.53 162.95,792.3 163.7,792.46 164.45,792.58 165.2,792.72 165.95,792.96 166.7,792.96 167.45,792.63 168.2,792.34 168.95,792.48 169.7,792.76 170.45,792.41 171.2,791.9 171.95,791.87 172.7,792.21 173.45,792.51 174.2,792.71 174.95,792.96 175.7,792.76 176.45,792.3 177.2,792.25 177.95,792.38 178.7,792.15 179.45,792 180.2,792.21 180.95,792.4 181.7,792.45 182.45,791.87 183.2,791.42 183.95,791.66 184.7,791.88 185.45,792.48 186.2,792.7 186.95,792.01 187.7,791.45 188.45,791.58 189.2,792.01 189.95,791.96 190.7,791.73 191.45,792.08 192.2,792.51 192.95,792.39 193.7,792.25 194.45,792.33 195.2,792.39 195.95,792.18 196.7,791.75 197.45,791.55 198.2,791.45 198.95,791.62 199.7,791.89 200.45,791.73 201.2,791.51 201.95,791.39 202.7,791.5 203.45,791.7 204.2,791.52 204.95,791.45 205.7,791.68 206.45,791.83 207.2,791.8 207.95,791.37 208.7,791.06 209.45,791.4 210.2,791.73 210.95,791.57 211.7,791.56 212.45,791.68 213.2,791.35 213.95,791.24 214.7,791.22 215.45,791.12 216.2,791.22 216.95,790.78 217.7,790.2 218.45,790.42 219.2,791.23 219.95,791.4 220.7,790.79 221.45,790.84 222.2,791.29 222.95,791.09 223.7,790.52 224.45,790.01 225.2,789.87 225.95,790.12 226.7,790.07 227.45,789.64 228.2,789.77 228.95,790.25 229.7,790.24 230.45,790.05 231.2,790 231.95,790.11 232.7,790.56 233.45,790.99 234.2,790.95 234.95,790.57 235.7,790.42 236.45,790.6 237.2,790.68 237.95,790.56 238.7,790.17 239.45,789.48 240.2,789.3 240.95,789.72 241.7,789.81 242.45,789.59 243.2,789.34 243.95,789.52 244.7,790.11 245.45,790.06 246.2,789.76 246.95,789.99 247.7,790.25 248.45,790.58 249.2,790.82 249.95,790.32 250.7,789.9 251.45,790.05 252.2,790.25 252.95,790.49 253.7,790.62 254.45,790.52 255.2,790.46 255.95,790.5 256.7,790.56 257.45,790.63 258.2,790.47 258.95,790.38 259.7,790.58 260.45,790.8 261.2,791.11 261.95,791.16 262.7,791.01 263.45,790.91 264.2,790.52 264.95,790.37 265.7,790.78 266.45,790.97 267.2,790.97 267.95,790.85 268.7,790.76 269.45,790.7 270.2,790.6 270.95,790.82 271.7,791 272.45,790.74 273.2,790.48 273.95,790.68 274.7,791.13 275.45,791.45 276.2,791.42 276.95,791.06 277.7,790.9 278.45,791.13 279.2,791.12 279.95,791.09 280.7,791.34 281.45,791.41 282.2,791.11 282.95,790.73 283.7,790.51 284.45,790.55 285.2,790.9 285.95,791.25 286.7,791.38 287.45,791.23 288.2,791.32 288.95,791.5 289.7,790.94 290.45,790.53 291.2,790.85 291.95,791.14 292.7,791.05 293.45,790.82 294.2,790.98 294.95,791.32 295.7,791.04 296.45,790.77 297.2,790.88 297.95,790.91 298.7,791.19 299.45,791.46 300.2,791.25 300.95,791.07 301.7,791.07 302.45,791.22 303.2,791.48 303.95,791.43 304.7,791.07 305.45,790.91 306.2,791.18 306.95,791.44 307.7,791.33 308.45,790.96 309.2,790.87 309.95,791.07 310.7,790.81 311.45,790.65 312.2,790.99 312.95,791.23 313.7,791.18 314.45,791.03 315.2,791.01 315.95,790.83 316.7,790.67 317.45,790.88 318.2,791.13 318.95,791.3 319.7,791.45 320.45,791.64 321.2,791.75 321.95,791.82 322.7,791.86 323.45,791.65 324.2,791.56 324.95,791.54 325.7,791.25 326.45,791.31 327.2,791.52 327.95,791.47 328.7,791.38 329.45,791.14 330.2,791.16 330.95,791.52 331.7,791.78 332.45,791.77 333.2,791.54 333.95,791.51 334.7,791.63 335.45,791.39 336.2,790.99 336.95,791.23 337.7,791.51 338.45,791.31 339.2,791.31 339.95,791.48 340.7,791.48 341.45,791.31 342.2,791.01 342.95,790.82 343.7,791.24 344.45,791.46 345.2,791.28 345.95,791.4 346.7,791.34 347.45,790.89 348.2,790.77 348.95,791.18 349.7,791.22 350.45,790.95 351.2,790.83 351.95,791.1 352.7,791.5 353.45,791.53 354.2,791.55 354.95,791.52 355.7,791.4 356.45,791.36 357.2,791.8 357.95,792.26 358.7,792 359.45,791.56 360.2,791.48 360.95,791.8 361.7,791.68 362.45,790.93 363.2,791.08 363.95,791.85 364.7,791.82 365.45,791.57 366.2,791.72 366.95,791.89 367.7,791.74 368.45,791.73 369.2,791.94 369.95,791.57 370.7,791.08 371.45,791.11 372.2,791.23 372.95,791.25 373.7,791.34 374.45,791.01 375.2,790.43 375.95,790.86 376.7,791.63 377.45,791.59 378.2,791.2 378.95,791.29 379.7,791.59 380.45,791.41 381.2,791.47 381.95,791.78 382.7,791.64 383.45,791.52 384.2,791.48 384.95,791.27 385.7,791.02 386.45,791.2 387.2,791.46 387.95,791.28 388.7,791.14 389.45,791.06 390.2,791.15 390.95,791.11 391.7,791.08 392.45,791.44 393.2,791.65 393.95,791.55 394.7,791.41 395.45,791.81 396.2,792.16 396.95,791.66 397.7,791.29 398.45,791.43 399.2,791.44 399.95,791.31 400.7,791.22 401.45,791.24 402.2,791.34 402.95,791.19 403.7,791.18 404.45,791.44 405.2,791.78 405.95,792.02 406.7,791.54 407.45,791.04 408.2,791.15 408.95,791.27 409.7,791.03 410.45,791.12 411.2,791.44 411.95,791.43 412.7,791.6 413.45,791.43 414.2,791.28 414.95,791.61 415.7,791.36 416.45,791.03 417.2,791.38 417.95,791.77 418.7,791.79 419.45,791.87 420.2,791.93 420.95,791.66 421.7,791.41 422.45,791.09 423.2,790.85 423.95,791.28 424.7,791.48 425.45,791.23 426.2,791.46 426.95,791.42 427.7,791.08 428.45,791.42 429.2,791.7 429.95,791.47 430.7,791.57 431.45,791.57 432.2,791.27 432.95,791.39 433.7,791.43 434.45,791.3 435.2,791.33 435.95,791.17 436.7,790.88 437.45,790.89 438.2,791.13 438.95,791.1 439.7,790.87 440.45,790.66 441.2,790.6 441.95,790.93 442.7,791.21 443.45,791.3 444.2,791.56 444.95,791.55 445.7,791.15 446.45,791.17 447.2,791.39 447.95,791.15 448.7,791.39 449.45,791.71 450.2,791.28 450.95,790.98 451.7,791.22 452.45,791.62 453.2,791.77 453.95,791.39 454.7,790.87 455.45,790.87 456.2,790.96 456.95,790.81 457.7,791.22 458.45,791.59 459.2,791.32 459.95,791.19 460.7,790.99 461.45,790.9 462.2,790.85 462.95,790.68 463.7,791.05 464.45,791.54 465.2,791.56 465.95,791.27 466.7,790.94 467.45,790.95 468.2,791.19 468.95,791.45 469.7,791.37 470.45,791.18 471.2,791.32 471.95,791.14 472.7,790.74 473.45,790.62 474.2,790.77 474.95,790.74 475.7,790.56 476.45,790.72 477.2,790.88 477.95,790.94 478.7,790.94 479.45,790.86 480.2,790.97 480.95,791 481.7,790.69 482.45,790.42 483.2,790.62 483.95,790.96 484.7,790.9 485.45,790.79 486.2,790.85 486.95,790.84 487.7,791.04 488.45,790.97 489.2,790.89 489.95,791.03 490.7,790.63 491.45,790.48 492.2,790.75 492.95,790.82 493.7,790.84 494.45,790.88 495.2,790.78 495.95,790.45 496.7,790.18 497.45,790.34 498.2,790.44 498.95,790.18 499.7,789.91 500.45,789.63 501.2,789.53 501.95,789.8 502.7,789.98 503.45,789.69 504.2,789.77 504.95,790.17 505.7,790.22 506.45,790.22 507.2,790.16 507.95,790.01 508.7,789.82 509.45,789.54 510.2,789.09 510.95,788.78 511.7,789.12 512.45,789.29 513.2,788.65 513.95,788.19 514.7,788.33 515.45,788.45 516.2,787.85 516.95,786.96 517.7,786.52 518.45,786.09 519.2,785.14 519.95,784.14 520.7,783.51 521.45,782.62 522.2,781.49 522.95,780.31 523.7,779.28 524.45,778.63 525.2,777.82 525.95,777.15 526.7,776.7 527.45,775.82 528.2,774.84 528.95,773.82 529.7,771.89 530.45,768.41 531.2,765.19 531.95,763.61 532.7,762.79 533.45,762.03 534.2,760.9 534.95,759.99 535.7,759.34 536.45,757.28 537.2,753.98 537.95,750.6 538.7,747.17 539.45,744.59 540.2,743.09 540.95,741.27 541.7,739.59 542.45,738.65 543.2,737.87 543.95,737.27 544.7,737.17 545.45,737.76 546.2,738.79 546.95,739.62 547.7,740.09 548.45,739.71 549.2,736.76 549.95,731.97 550.7,726.67 551.45,721.83 552.2,715.86 552.95,708.86 553.7,701.93 554.45,696.18 555.2,691.78 555.95,687.02 556.7,682.91 557.45,679.73 558.2,676.97 558.95,675.55 559.7,676.87 560.45,682.05 561.2,689.51 561.95,696.75 562.7,702.28 563.45,708.21 564.2,714.84 564.95,720.62 565.7,724.35 566.45,727.42 567.2,730.25 567.95,732.57 568.7,734.78 569.45,737.08 570.2,739.04 570.95,740.95 571.7,743.25 572.45,745.21 573.2,747.05 573.95,748.96 574.7,750.54 575.45,751.87 576.2,752.56 576.95,752.6 577.7,752.17 578.45,751.05 579.2,749.52 579.95,748.05 580.7,747.37 581.45,747.05 582.2,746.25 582.95,745.61 583.7,744.69 584.45,742.36 585.2,737.13 585.95,730.61 586.7,724.94 587.45,719.5 588.2,714.75 588.95,712.37 589.7,714 590.45,718.87 591.2,724.94 591.95,732.72 592.7,743.09 593.45,752.65 594.2,759.03 594.95,764.62 595.7,769.74 596.45,773.47 597.2,775.42 597.95,777.31 598.7,779.57 599.45,781.12 600.2,781.81 600.95,782.54 601.7,783.52 602.45,784.6 603.2,785.18 603.95,785.25 604.7,785.59 605.45,786.17 606.2,786.84 606.95,787.52 607.7,787.85 608.45,787.75 609.2,787.89 609.95,788.51 610.7,788.88 611.45,788.97 612.2,789.27 612.95,789.73 613.7,790.03 614.45,790.17 615.2,790.35 615.95,790.35 616.7,790.38 617.45,790.71 618.2,790.99 618.95,790.92 619.7,790.57 620.45,790.59 621.2,790.72 621.95,790.57 622.7,790.73 623.45,790.92 624.2,790.95 624.95,790.77 625.7,790.61 626.45,791 627.2,791.49 627.95,791.86 628.7,791.98 629.45,791.85 630.2,791.43 630.95,791.04 631.7,791.49 632.45,792.04 633.2,792 633.95,791.73 634.7,791.51 635.45,791.5 636.2,791.69 636.95,791.89 637.7,791.92 638.45,791.62 639.2,791.65 639.95,791.99 640.7,791.45 641.45,791.17 642.2,792.01 642.95,792.37 643.7,792.21 644.45,792.27 645.2,792.08 645.95,791.81 646.7,791.73 647.45,791.6 648.2,791.57 648.95,791.76 649.7,792.16 650.45,792.34 651.2,792.18 651.95,791.92 652.7,791.54 653.45,791.72 654.2,792.39 654.95,792.75 655.7,792.85 656.45,792.54 657.2,792 657.95,791.68 658.7,791.63 659.45,792.1 660.2,792.48 660.95,792.33 661.7,792.3 662.45,792.64 663.2,792.82 663.95,792.65 664.7,792.51 665.45,792.62 666.2,792.77 666.95,792.9 667.7,792.96 668.45,792.66 669.2,792.37 669.95,792.61 670.7,792.86 671.45,792.84 672.2,792.81 672.95,792.95 673.7,793.28 674.45,793.28 675.2,793.18 675.95,793.34 676.7,793.35 677.45,793.31 678.2,793.44 678.95,793.42 679.7,793.24 680.45,792.98 681.2,792.84 681.95,793.06 682.7,793.1 683.45,793.14 684.2,793.42 684.95,793.21 685.7,792.83 686.45,792.92 687.2,793.12 687.95,793.07 688.7,792.98 689.45,792.9 690.2,792.75 690.95,792.94 691.7,793.16 692.45,793.15 693.2,793.38 693.95,793.4 694.7,792.78 695.45,792.53 696.2,793.23 696.95,793.39 697.7,792.88 698.45,792.96 699.2,792.96 699.95,792.57 700.7,792.82 701.45,793.29 702.2,793.21 702.95,793.14 703.7,793.16 704.45,792.65 705.2,792.48 705.95,792.86 706.7,792.79 707.45,792.84 708.2,793.12 708.95,792.99 709.7,792.71 710.45,792.62 711.2,793.03 711.95,793.23 712.7,792.59 713.45,792.23 714.2,792.37 714.95,792.38 715.7,792.43 716.45,792.56 717.2,792.61 717.95,792.58 718.7,792.68 719.45,792.63 720.2,792.27 720.95,792.26 721.7,792.25 722.45,791.88 723.2,791.81 723.95,791.98 724.7,792.22 725.45,792.5 726.2,792.83 726.95,793.01 727.7,792.49 728.45,792.4 729.2,792.73 729.95,792.69 730.7,792.33 731.45,791.59 732.2,791.82 732.95,792.75 733.7,792.93 734.45,792.5 735.2,792.12 735.95,792.24 736.7,792.5 737.45,792.59 738.2,792.48 738.95,792.33 739.7,792.6 740.45,793.19 741.2,793.43 741.95,793.04 742.7,792.5 743.45,792.02 744.2,791.55 744.95,791.61 745.7,792.46 746.45,792.98 747.2,792.3 747.95,791.73 748.7,792.09 749.45,792.34 750.2,792.54 750.95,793.05 751.7,793.24 752.45,792.94 753.2,792.52 753.95,792.34 754.7,792.41 755.45,792.53 756.2,792.56 756.95,792.77 757.7,792.83 758.45,792.47 759.2,792.32 759.95,792.35 760.7,792.04 761.45,791.9 762.2,792.49 762.95,793.1 763.7,792.88 764.45,792.57 765.2,793.06 765.95,793.4 766.7,792.85 767.45,792.26 768.2,792.27 768.95,792.81 769.7,793.19 770.45,792.92 771.2,792.56 771.95,792.33 772.7,792.49 773.45,792.99 774.2,793.11 774.95,792.8 775.7,792.59 776.45,792.85 777.2,793.23 777.95,793.47 778.7,793.34 779.45,793 780.2,792.98 780.95,793.01 781.7,792.79 782.45,792.77 783.2,793.34 783.95,793.64 784.7,793.42 785.45,793.31 786.2,793.01 786.95,792.78 787.7,792.83 788.45,792.97 789.2,793.31 789.95,793.03 790.7,792.35 791.45,792.01 792.2,791.42 792.95,789.95 793.7,787.41 794.45,783.3 795.2,778.41 795.95,773.24 796.7,768.81 797.45,765.89 798.2,763.83 798.95,762.15 799.7,760.5 800.45,759.6 801.2,759.1 801.95,758.47 802.7,758.51 803.45,759.92 804.2,762.22 804.95,764.81 805.7,769.81 806.45,775.09 807.2,775.7 807.95,773.31 808.7,770.29 809.45,768.05 810.2,767.76 810.95,767.93 811.7,768.25 812.45,768.63 813.2,769.09 813.95,769.6 814.7,769.93 815.45,770.24 816.2,771.03 816.95,772.45 817.7,774.32 818.45,776.29 819.2,777.93 819.95,779.15 820.7,780.34 821.45,781.54 822.2,782.41 822.95,783.34 823.7,784.56 824.45,785.33 825.2,786 825.95,787.01 826.7,787.94 827.45,788.74 828.2,789.52 828.95,790.32 829.7,791.17 830.45,792.13 831.2,793.05 831.95,793.62 832.7,794.12 833.45,794.36 834.2,794.19 834.95,794.36 835.7,794.58 836.45,794.33 837.2,793.76 837.95,793.15 838.7,792.76 839.45,792.38 840.2,792.14 840.95,791.94 841.7,791.56 842.45,791.14 843.2,790.73 843.95,790.55 844.7,790.87 845.45,791.12 846.2,791.08 846.95,791.08 847.7,790.89 848.45,790.66 849.2,790.48 849.95,790.36 850.7,790.45 851.45,790.42 852.2,790.21 852.95,789.97 853.7,789.67 854.45,789.54 855.2,789.75 855.95,789.72 856.7,789.38 857.45,789.97 858.2,790.66 858.95,790.12 859.7,789.59 860.45,789.57 861.2,789.48 861.95,789.43 862.7,789.27 863.45,789.21 864.2,789.46 864.95,789.55 865.7,789.47 866.45,789.39 867.2,789.31 867.95,789.51 868.7,789.87 869.45,789.74 870.2,789.29 870.95,788.69 871.7,788.21 872.45,788.41 873.2,788.7 873.95,788.57 874.7,788.25 875.45,787.98 876.2,787.87 876.95,788.1 877.7,788.43 878.45,788.51 879.2,788.32 879.95,788.05 880.7,787.92 881.45,787.86 882.2,787.76 882.95,787.61 883.7,787.33 884.45,786.9 885.2,786.73 885.95,786.85 886.7,786.29 887.45,785.45 888.2,785.45 888.95,785.7 889.7,785.33 890.45,784.64 891.2,784.58 891.95,785.19 892.7,785.53 893.45,785.81 894.2,786.52 894.95,787.06 895.7,787.28 896.45,787.33 897.2,787.26 897.95,787.26 898.7,787.55 899.45,788.51 900.2,789.29 900.95,789.32 901.7,789.4 902.45,790.04 903.2,790.54 903.95,790.64 904.7,791.15 905.45,791.57 906.2,791.49 906.95,791.73 907.7,792.24 908.45,792.45 909.2,792.41 909.95,792.02 910.7,791.65 911.45,791.64 912.2,791.65 912.95,791.76 913.7,792.13 914.45,792.31 915.2,792.29 915.95,792.12 916.7,791.62 917.45,791.5 918.2,791.39 918.95,790.88 919.7,790.87 920.45,791.31 921.2,791.61 921.95,791.67 922.7,791.52 923.45,791.19 924.2,791 924.95,791.4 925.7,791.81 926.45,791.5 927.2,791.1 927.95,791.16 928.7,791.4 929.45,791.37 930.2,791.07 930.95,791.03 931.7,790.94 932.45,790.58 933.2,790.29 933.95,790.09 934.7,789.99 935.45,789.67 936.2,789.2 936.95,789.27 937.7,789.41 938.45,788.73 939.2,788.24 939.95,788.44 940.7,788.29 941.45,788.04 942.2,787.92 942.95,787.49 943.7,787.08 944.45,787.05 945.2,787.17 945.95,787.05 946.7,787.13 947.45,787.37 948.2,787.18 948.95,787.19 949.7,787.28 950.45,786.8 951.2,786.42 951.95,786.51 952.7,786.99 953.45,787.57 954.2,787.63 954.95,787.38 955.7,787.54 956.45,788.24 957.2,788.64 957.95,788.67 958.7,788.98 959.45,789.07 960.2,788.93 960.95,788.85 961.7,788.77 962.45,788.96 963.2,789 963.95,788.51 964.7,788.28 965.45,788.16 966.2,787.78 966.95,787.46 967.7,787.35 968.45,787.56 969.2,787.39 969.95,787.07 970.7,787.13 971.45,786.69 972.2,786.16 972.95,786.44 973.7,786.8 974.45,786.79 975.2,787.25 975.95,787.95 976.7,788.25 977.45,788.45 978.2,788.72 978.95,788.94 979.7,789.09 980.45,789.19 981.2,789.44 981.95,789.75 982.7,790.28 983.45,790.78 984.2,790.62 984.95,790.49 985.7,790.7 986.45,790.56 987.2,790.44 987.95,790.75 988.7,790.63 989.45,790.58 990.2,791.02 990.95,791.27 991.7,791.73 992.45,792.14 993.2,791.94 993.95,791.79 994.7,792.33 995.45,792.85 996.2,792.92 996.95,793.19 997.7,793.09 998.45,792.72 999.2,792.73 999.95,792.78 1000.7,793.09 1001.45,793.35 1002.2,793.07 1002.95,792.85 1003.7,793.1 1004.45,793.49 1005.2,793.74 1005.95,793.89 1006.7,793.96 1007.45,793.74 1008.2,793.6 1008.95,794.15 1009.7,794.55 1010.45,794.21 1011.2,793.83 1011.95,794.18 1012.7,794.79 1013.45,794.9 1014.2,795.06 1014.95,795.16 1015.7,795.08 1016.45,795.43 1017.2,796.02 1017.95,796.15 1018.7,795.76 1019.45,795.68 1020.2,796.05 1020.95,796.1 1021.7,795.97 1022.45,795.9 1023.2,795.89 1023.95,796.06 1024.7,796.06 1025.45,795.87 1026.2,795.85 1026.95,796.17 1027.7,796.23 1028.45,796.05 1029.2,796.35 1029.95,796.8 1030.7,797.08 1031.45,796.97 1032.2,796.77 1032.95,796.99 1033.7,796.99 1034.45,796.67 1035.2,796.7 1035.95,797.12 1036.7,797.2 1037.45,796.99 1038.2,796.98 1038.95,796.88 1039.7,796.71 1040.45,796.87 1041.2,797.27 1041.95,797.45 1042.7,797.44 1043.45,797.42 1044.2,797.51 1044.95,797.41 1045.7,797.19 1046.45,797.28 1047.2,797.23 1047.95,797.29 1048.7,797.52 1049.45,797.61 1050.2,797.55 1050.95,797.61 1051.7,798.06 1052.45,798.18 1053.2,797.98 1053.95,797.81 1054.7,797.36 1055.45,796.86 1056.2,796.99 1056.95,797.12 1057.7,797.08 1058.45,797.6 1059.2,797.62 1059.95,797.09 1060.7,796.81 1061.45,796.71 1062.2,796.96 1062.95,797.34 1063.7,797.22 1064.45,796.9 1065.2,797.01 1065.95,796.98 1066.7,796.73 1067.45,796.7 1068.2,796.95 1068.95,797.29 1069.7,797.25 1070.45,796.77 1071.2,796.3 1071.95,796.36 1072.7,796.64 1073.45,796.48 1074.2,796.44 1074.95,797.05 1075.7,797.29 1076.45,796.74 1077.2,796.29 1077.95,796.12 1078.7,795.86 1079.45,795.87 1080.2,796.18 1080.95,796.38 1081.7,796.88 1082.45,797.24 1083.2,796.78 1083.95,796.34 1084.7,796.35 1085.45,796.58 1086.2,796.72 1086.95,796.59 1087.7,796.34 1088.45,795.92 1089.2,795.78 1089.95,796.13 1090.7,796.27 1091.45,796.21 1092.2,796.24 1092.95,796.07 1093.7,796 1094.45,796.26 1095.2,796.26 1095.95,795.72 1096.7,795.39 1097.45,795.59 1098.2,795.83 1098.95,795.58 1099.7,794.99 1100.45,794.65 1101.2,794.86 1101.95,795.3 1102.7,795.26 1103.45,794.64 1104.2,794.11 1104.95,794.2 1105.7,794.45 1106.45,794.27 1107.2,794.06 1107.95,794.35 1108.7,794.5 1109.45,794.09 1110.2,793.98 1110.95,794.33 1111.7,794.28 1112.45,793.99 1113.2,793.83 1113.95,793.71 1114.7,793.73 1115.45,793.81 1116.2,793.82 1116.95,793.39 1117.7,792.81 1118.45,792.68 1119.2,792.45 1119.95,791.84 1120.7,791.58 1121.45,791.55 1122.2,791.08 1122.95,790.6 1123.7,790.59 1124.45,790.62 1125.2,790.39 1125.95,790.34 1126.7,790.19 1127.45,789.69 1128.2,789.68 1128.95,789.72 1129.7,789.28 1130.45,789.04 1131.2,789.09 1131.95,789.19 1132.7,789.2 1133.45,789.28 1134.2,789.11 1134.95,788.53 1135.7,788.12 1136.45,787.45 1137.2,786.41 1137.95,785.52 1138.7,783.28 1139.45,779.95 1140.2,777.38 1140.95,775.68 1141.7,773.59 1142.45,772.11 1143.2,771.8 1143.95,772.49 1144.7,774.56 1145.45,777.69 1146.2,780.27 1146.95,782.71 1147.7,785.07 1148.45,786.5 1149.2,787.56 1149.95,788.45 1150.7,788.81 1151.45,789.29 1152.2,789.7 1152.95,789.58 1153.7,788.88 1154.45,787.18 1155.2,784.49 1155.95,781.26 1156.7,776.91 1157.45,772.25 1158.2,769.49 1158.95,769.65 1159.7,772.44 1160.45,777.44 1161.2,782.12 1161.95,784.03 1162.7,785.49 1163.45,787.47 1164.2,788.53 1164.95,789.03 1165.7,789.5 1166.45,789.66 1167.2,790.05 1167.95,790.35 1168.7,789.82 1169.45,789.23 1170.2,789.31 1170.95,789.92 1171.7,790.24 1172.45,789.85 1173.2,789.89 1173.95,790.15 1174.7,789.89 1175.45,789.49 1176.2,789.2 1176.95,788.76 1177.7,788.31 1178.45,787.68 1179.2,786.77 1179.95,786.35 1180.7,785.71 1181.45,784.08 1182.2,782.37 1182.95,780.46 1183.7,777.92 1184.45,775.28 1185.2,772.64 1185.95,768.86 1186.7,764.07 1187.45,759.29 1188.2,755.12 1188.95,751.68 1189.7,748.86 1190.45,745.83 1191.2,742.65 1191.95,740.77 1192.7,740.49 1193.45,740.9 1194.2,741.5 1194.95,742.93 1195.7,744.67 1196.45,746.06 1197.2,747.62 1197.95,749.52 1198.7,751.49 1199.45,753.68 1200.2,755.55 1200.95,756.96 1201.7,758.43 1202.45,759.73 1203.2,760.67 1203.95,761.91 1204.7,763.27 1205.45,764.27 1206.2,765.7 1206.95,767.03 1207.7,767.93 1208.45,769.27 1209.2,770.79 1209.95,772.42 1210.7,773.71 1211.45,774.47 1212.2,775.42 1212.95,776.27 1213.7,776.74 1214.45,777.22 1215.2,777.9 1215.95,778.78 1216.7,779.69 1217.45,780.63 1218.2,780.92 1218.95,780.61 1219.7,780.64 1220.45,780.65 1221.2,780.34 1221.95,779.87 1222.7,779.34 1223.45,778.88 1224.2,778.19 1224.95,777.07 1225.7,775.22 1226.45,772.71 1227.2,769.9 1227.95,767.82 1228.7,765.43 1229.45,762.83 1230.2,762.04 1230.95,763.53 1231.7,766.09 1232.45,768.8 1233.2,771.15 1233.95,773.64 1234.7,775.72 1235.45,777.25 1236.2,778.6 1236.95,779.69 1237.7,780.59 1238.45,781.05 1239.2,781.43 1239.95,782.31 1240.7,782.93 1241.45,782.74 1242.2,782.53 1242.95,783.02 1243.7,783.81 1244.45,784.2 1245.2,784.4 1245.95,784.64 1246.7,784.5 1247.45,784.46 1248.2,784.82 1248.95,785.16 1249.7,785.62 1250.45,785.72 1251.2,785.33 1251.95,785.25 1252.7,785.64 1253.45,785.93 1254.2,785.81 1254.95,785.84 1255.7,786.15 1256.45,786.1 1257.2,785.78 1257.95,785.51 1258.7,785.49 1259.45,785.98 1260.2,786.55 1260.95,786.85 1261.7,786.95 1262.45,787.13 1263.2,787.43 1263.95,787.68 1264.7,787.91 1265.45,788.31 1266.2,788.73 1266.95,788.82 1267.7,788.93 1268.45,788.95 1269.2,788.56 1269.95,788.32 1270.7,788.6 1271.45,789.02 1272.2,789 1272.95,788.79 1273.7,788.74 1274.45,788.55 1275.2,788.07 1275.95,787.04 1276.7,786.29 1277.45,786.52 1278.2,786.83 1278.95,786.71 1279.7,786.2 1280.45,786.1 1281.2,785.92 1281.95,785.12 1282.7,784.87 1283.45,785.32 1284.2,785.92 1284.95,786.32 1285.7,786.32 1286.45,786.13 1287.2,786.34 1287.95,786.8 1288.7,787.02 1289.45,787.33 1290.2,787.64 1290.95,787.63 1291.7,787.75 1292.45,788.27 1293.2,788.72 1293.95,788.79 1294.7,788.94 1295.45,789.22 1296.2,789.56 1296.95,790.07 1297.7,790.18 1298.45,790.09 1299.2,790.47 1299.95,791.09 1300.7,791.4 1301.45,791.38 1302.2,791.43 1302.95,791.49 1303.7,791.33 1304.45,790.79 1305.2,790.57 1305.95,790.87 1306.7,791.06 1307.45,791.21 1308.2,791.16 1308.95,790.96 1309.7,790.92 1310.45,791.06 1311.2,791.1 1311.95,790.5 1312.7,790.07 1313.45,789.78 1314.2,789.2 1314.95,789.04 1315.7,788.62 1316.45,787.86 1317.2,787.49 1317.95,787.39 1318.7,787.18 1319.45,786.87 1320.2,786.86 1320.95,786.8 1321.7,786.67 1322.45,786.48 1323.2,786.01 1323.95,785.97 1324.7,786.2 1325.45,786.3 1326.2,786.49 1326.95,786.34 1327.7,786.24 1328.45,786.62 1329.2,786.93 1329.95,787.29 1330.7,787.69 1331.45,787.67 1332.2,787.58 1332.95,788.1 1333.7,788.74 1334.45,789.26 1335.2,789.63 1335.95,789.53 1336.7,789.26 1337.45,789.12 1338.2,789.14 1338.95,789.38 1339.7,789.71 1340.45,790.09 1341.2,790.18 1341.95,789.93 1342.7,790.08 1343.45,790.34 1344.2,790.08 1344.95,789.83 1345.7,790.04 1346.45,790.2 1347.2,790.32 1347.95,790.63 1348.7,790.75 1349.45,790.82 1350.2,790.95 1350.95,791.04 1351.7,791.06 1352.45,790.83 1353.2,790.4 1353.95,790.05 1354.7,789.63 1355.45,789.28 1356.2,789.39 1356.95,789.46 1357.7,789.31 1358.45,789.43 1359.2,789.42 1359.95,789.5 1360.7,789.45 1361.45,789.11 1362.2,789.1 1362.95,789.14 1363.7,788.89 1364.45,788.81 1365.2,789.41 1365.95,789.66 1366.7,789.55 1367.45,789.81 1368.2,789.84 1368.95,789.76 1369.7,790.02 1370.45,790.44 1371.2,790.68 1371.95,790.86 1372.7,790.95 1373.45,790.97 1374.2,791.14 1374.95,791.25 1375.7,791.21 1376.45,790.86 1377.2,790.51 1377.95,790.35 1378.7,790.26 1379.45,789.95 1380.2,789.21 1380.95,788.69 1381.7,788.67 1382.45,788.84 1383.2,788.99 1383.95,789.03 1384.7,789.16 1385.45,789.35 1386.2,789.34 1386.95,789.48 1387.7,789.86 1388.45,789.77 1389.2,789.6 1389.95,789.99 1390.7,790.65 1391.45,791.49 1392.2,792.4 1392.95,793.22 1393.7,794.18 1394.45,794.83 1395.2,794.89 1395.95,795.41 1396.7,796.27 1397.45,796.71 1398.2,796.88 1398.95,796.94 1399.7,797.02 1400.45,797.04 1401.2,797.12 1401.95,797.08 1402.7,796.47 1403.45,795.79 1404.2,795.62 1404.95,795.47 1405.7,794.93 1406.45,794.36 1407.2,794.14 1407.95,794.62 1408.7,794.72 1409.45,794.17 1410.2,793.75 1410.95,793.22 1411.7,793.22 1412.45,793.58 1413.2,793.38 1413.95,793.14 1414.7,793.28 1415.45,793.48 1416.2,794.02 1416.95,794.59 1417.7,794.82 1418.45,795.5 1419.2,796.58 1419.95,797.4 1420.7,797.83 1421.45,798.03 1422.2,798.93 1422.95,800.39 1423.7,801.08 1424.45,801.44 1425.2,802.03 1425.95,802.51 1426.7,802.56 1427.45,802.77 1428.2,803.08 1428.95,803.26 1429.7,803.69 1430.45,804.04 1431.2,804.3 1431.95,804.27 1432.7,803.81 1433.45,803.52 1434.2,803.78 1434.95,803.82 1435.7,803.52 1436.45,803.37 1437.2,803.11 1437.95,803.11 1438.7,802.95 1439.45,802.22 1440.2,801.79 1440.95,801.86 1441.7,801.32 1442.45,800.17 1443.2,799.21 1443.95,797.98 1444.7,796.36 1445.45,795.42 1446.2,795.38 1446.95,795.42 1447.7,795.37 1448.45,796.12 1449.2,797.24 1449.95,797.67 1450.7,797.67 1451.45,797.75 1452.2,798.16 1452.95,798.48 1453.7,798.31 1454.45,798.33 1455.2,798.58 1455.95,798.89 1456.7,799.13 1457.45,799.18 1458.2,799.39 1458.95,799.65 1459.7,799.73 1460.45,799.55 1461.2,799.14 1461.95,798.83 1462.7,798.72 1463.45,798.78 1464.2,798.52 1464.95,797.94 1465.7,797.13 1466.45,796.05 1467.2,795.11 1467.95,794.21 1468.7,793.17 1469.45,792.12 1470.2,791.28 1470.95,790.59 1471.7,789.84 1472.45,789.51 1473.2,789.72 1473.95,789.94 1474.7,789.83 1475.45,789.22 1476.2,788.59 1476.95,788.58 1477.7,789.14 1478.45,790.06 1479.2,791.53 1479.95,792.38 1480.7,792.32 1481.45,792.71 1482.2,793.45 1482.95,794.15 1483.7,795.03 1484.45,796.2 1485.2,797.08 1485.95,797.47 1486.7,797.76 1487.45,797.78 1488.2,797.85 1488.95,797.67 1489.7,797.35 1490.45,797.26 1491.2,796.77 1491.95,796.51 1492.7,796.61 1493.45,796.21 1494.2,795.98 1494.95,796.06 1495.7,795.67 1496.45,795.07 1497.2,794.57 1497.95,794.26 1498.7,794.1 1499.45,793.69 1500.2,793.5 1500.95,793.63 1501.7,793.02 1502.45,792.12 1503.2,791.76 1503.95,791.38 1504.7,791.39 1505.45,791.95 1506.2,792.53 1506.95,793.34 1507.7,794.3 1508.45,795.04 1509.2,795.8 1509.95,795.16 1510.7,792.38 1511.45,789.38 1512.2,787.33 1512.95,786.2 1513.7,785.38 1514.45,784.86 1515.2,784.76 1515.95,787.13 1516.7,791.99 1517.45,795.24 1518.2,797.72 1518.95,799.45 1519.7,800.29 1520.45,801.03 1521.2,801.69 1521.95,802 1522.7,801.97 1523.45,802.18 1524.2,802.67 1524.95,802.86 1525.2,802.84"/>
<path id="curve-green" stroke="#169B30" d="M132.2,871.01 132.95,871.19 133.7,871.04 134.45,870.43 135.2,870.31 135.95,871.06 136.7,871.22 137.45,870.96 138.2,871.18 138.95,871.46 139.7,871.74 140.45,871.47 141.2,871.14 141.95,871.29 142.7,871.19 143.45,871.03 144.2,870.98 144.95,871.01 145.7,871.22 146.45,871.31 147.2,871.41 147.95,871.3 148.7,870.74 149.45,870.72 150.2,870.92 150.95,870.92 151.7,871.28 152.45,871.29 153.2,871.01 153.95,870.93 154.7,870.58 155.45,870.49 156.2,871.02 156.95,871.25 157.7,871 158.45,870.55 159.2,870.12 159.95,870.23 160.7,870.6 161.45,870.99 162.2,871.14 162.95,870.72 163.7,870.61 164.45,870.9 165.2,870.66 165.95,870.51 166.7,870.76 167.45,870.57 168.2,870.29 168.95,870.38 169.7,870.79 170.45,870.97 171.2,870.77 171.95,870.65 172.7,870.89 173.45,871.42 174.2,871.28 174.95,870.73 175.7,870.79 176.45,870.98 177.2,870.72 177.95,870.39 178.7,870.5 179.45,870.78 180.2,870.63 180.95,870.4 181.7,870.36 182.45,869.97 183.2,869.77 183.95,870.35 184.7,870.8 185.45,870.9 186.2,871.14 186.95,871.15 187.7,870.65 188.45,870.25 189.2,870.07 189.95,869.95 190.7,870.12 191.45,870.33 192.2,870.51 192.95,870.34 193.7,869.96 194.45,870.12 195.2,870.33 195.95,870.43 196.7,870.26 197.45,870.08 198.2,870.21 198.95,870.18 199.7,870.14 200.45,870 201.2,869.95 201.95,870.36 202.7,870.75 203.45,870.55 204.2,870.4 204.95,870.52 205.7,870.23 206.45,869.8 207.2,869.71 207.95,869.9 208.7,869.92 209.45,869.49 210.2,869.27 210.95,869.6 211.7,869.83 212.45,869.62 213.2,869.35 213.95,869.3 214.7,869.68 215.45,870.08 216.2,869.73 216.95,869.36 217.7,869.56 218.45,869.94 219.2,870.17 219.95,869.83 220.7,869.54 221.45,869.63 222.2,869.63 222.95,869.55 223.7,869.45 224.45,869.3 225.2,869.16 225.95,869.02 226.7,868.88 227.45,868.9 228.2,868.96 228.95,868.97 229.7,869.01 230.45,869.14 231.2,869.2 231.95,869.08 232.7,869.05 233.45,869.02 234.2,868.84 234.95,868.82 235.7,868.63 236.45,868.41 237.2,868.57 237.95,868.1 238.7,867.6 239.45,868.07 240.2,868.46 240.95,868.55 241.7,868.44 242.45,868.54 243.2,868.72 243.95,868.44 244.7,868.34 245.45,868.81 246.2,869.35 246.95,869.58 247.7,869.53 248.45,869.36 249.2,869.38 249.95,869.54 250.7,869.35 251.45,869.17 252.2,869.29 252.95,869.15 253.7,869.06 254.45,869.29 255.2,869.53 255.95,869.71 256.7,869.61 257.45,869.42 258.2,869.39 258.95,869.36 259.7,869.61 260.45,870 261.2,869.91 261.95,869.61 262.7,869.5 263.45,869.51 264.2,869.42 264.95,869.43 265.7,869.72 266.45,869.9 267.2,870.09 267.95,870.21 268.7,869.88 269.45,869.39 270.2,869.43 270.95,869.97 271.7,869.95 272.45,869.4 273.2,869.49 273.95,869.98 274.7,870.25 275.45,870.44 276.2,870.35 276.95,870.11 277.7,869.83 278.45,869.45 279.2,868.94 279.95,868.99 280.7,869.83 281.45,870.09 282.2,869.9 282.95,869.8 283.7,869.73 284.45,870.07 285.2,870.35 285.95,870.06 286.7,869.73 287.45,870.05 288.2,870.26 288.95,869.86 289.7,869.61 290.45,869.77 291.2,869.79 291.95,869.42 292.7,869.13 293.45,869.18 294.2,869.6 294.95,870.14 295.7,870.45 296.45,870.43 297.2,869.89 297.95,869.28 298.7,869.15 299.45,869.25 300.2,869.67 300.95,870.03 301.7,869.78 302.45,869.62 303.2,869.88 303.95,870.1 304.7,869.92 305.45,869.43 306.2,869.24 306.95,869.53 307.7,869.84 308.45,869.68 309.2,869.68 309.95,869.97 310.7,869.74 311.45,869.52 312.2,869.48 312.95,869.39 313.7,869.52 314.45,869.67 315.2,869.75 315.95,869.67 316.7,869.38 317.45,869.43 318.2,869.75 318.95,869.84 319.7,869.93 320.45,870.24 321.2,870.38 321.95,869.7 322.7,869.06 323.45,869.42 324.2,870.12 324.95,870.5 325.7,870.4 326.45,870.2 327.2,869.95 327.95,869.41 328.7,869.12 329.45,869.29 330.2,869.75 330.95,869.98 331.7,869.78 332.45,869.59 333.2,869.4 333.95,869.37 334.7,869.71 335.45,870.02 336.2,869.92 336.95,869.86 337.7,869.96 338.45,869.72 339.2,869.62 339.95,869.85 340.7,869.68 341.45,869.45 342.2,869.53 342.95,869.59 343.7,869.53 344.45,869.76 345.2,869.86 345.95,869.2 346.7,868.99 347.45,869.56 348.2,869.77 348.95,869.74 349.7,869.65 350.45,869.43 351.2,869.16 351.95,868.93 352.7,869.13 353.45,869.23 354.2,868.96 354.95,868.99 355.7,869.27 356.45,869.4 357.2,869.54 357.95,869.81 358.7,869.85 359.45,869.42 360.2,868.9 360.95,869 361.7,869.27 362.45,869.27 363.2,869.24 363.95,869.06 364.7,868.98 365.45,869.18 366.2,869.27 366.95,869.21 367.7,869.37 368.45,869.61 369.2,869.67 369.95,869.65 370.7,869.57 371.45,869.34 372.2,869.45 372.95,869.75 373.7,869.67 374.45,869.41 375.2,869 375.95,868.61 376.7,868.68 377.45,868.83 378.2,868.99 378.95,869.25 379.7,869.18 380.45,869.28 381.2,869.57 381.95,869.3 382.7,869.43 383.45,869.97 384.2,869.73 384.95,869.25 385.7,869.29 386.45,869.67 387.2,869.39 387.95,868.71 388.7,868.91 389.45,869.36 390.2,869.22 390.95,868.92 391.7,869.25 392.45,869.83 393.2,869.61 393.95,869.12 394.7,869.04 395.45,869.14 396.2,868.91 396.95,868.61 397.7,869.06 398.45,869.52 399.2,869.35 399.95,868.96 400.7,868.79 401.45,868.9 402.2,869.19 402.95,869.57 403.7,869.84 404.45,869.34 405.2,868.7 405.95,868.96 406.7,869.38 407.45,869.55 408.2,869.38 408.95,868.99 409.7,869.11 410.45,869.3 411.2,869.1 411.95,868.93 412.7,869.02 413.45,869.45 414.2,869.6 414.95,869.16 415.7,868.78 416.45,868.8 417.2,868.92 417.95,869 418.7,868.9 419.45,868.52 420.2,868.37 420.95,868.73 421.7,868.99 422.45,868.85 423.2,869.02 423.95,869.08 424.7,868.46 425.45,868.01 426.2,868.28 426.95,868.91 427.7,869.11 428.45,868.81 429.2,868.64 429.95,868.6 430.7,868.58 431.45,868.85 432.2,869 432.95,869.12 433.7,869.16 434.45,868.66 435.2,868.51 435.95,869.01 436.7,869.12 437.45,868.63 438.2,868.43 438.95,868.76 439.7,868.9 440.45,868.86 441.2,869.31 441.95,869.56 442.7,869.03 443.45,868.97 444.2,869.17 444.95,868.91 445.7,869.08 446.45,869.04 447.2,868.61 447.95,868.97 448.7,869.22 449.45,868.54 450.2,867.96 450.95,868.48 451.7,869.03 452.45,868.86 453.2,868.69 453.95,868.45 454.7,868.3 455.45,868.42 456.2,868.64 456.95,868.83 457.7,868.66 458.45,868.45 459.2,868.52 459.95,868.56 460.7,868.46 461.45,868.36 462.2,868.43 462.95,868.93 463.7,869.28 464.45,868.98 465.2,868.58 465.95,868.33 466.7,868.52 467.45,868.87 468.2,868.75 468.95,868.77 469.7,868.78 470.45,868.67 471.2,868.87 471.95,868.97 472.7,868.67 473.45,868.38 474.2,868.16 474.95,867.99 475.7,868.26 476.45,868.45 477.2,868.4 477.95,868.28 478.7,867.98 479.45,867.81 480.2,867.9 480.95,868.13 481.7,868.38 482.45,868.44 483.2,868.31 483.95,868.33 484.7,868.38 485.45,868.44 486.2,868.7 486.95,868.93 487.7,868.6 488.45,868.06 489.2,867.97 489.95,867.96 490.7,867.94 491.45,868.03 492.2,868.32 492.95,868.4 493.7,868 494.45,867.5 495.2,867.18 495.95,867.28 496.7,867.69 497.45,868.1 498.2,868.29 498.95,868.05 499.7,867.59 500.45,867.64 501.2,867.92 501.95,867.81 502.7,867.37 503.45,867.32 504.2,867.69 504.95,867.31 505.7,866.83 506.45,867.07 507.2,867.18 507.95,866.98 508.7,866.71 509.45,866.67 510.2,866.93 510.95,866.53 511.7,865.96 512.45,865.72 513.2,865.5 513.95,865.58 514.7,865.58 515.45,865.48 516.2,865.29 516.95,865.1 517.7,864.97 518.45,864.34 519.2,863.61 519.95,862.93 520.7,862.11 521.45,861.55 522.2,861.28 522.95,860.84 523.7,860.01 524.45,858.82 525.2,857.89 525.95,857.37 526.7,856.75 527.45,855.66 528.2,854.41 528.95,853.53 529.7,852.29 530.45,849.5 531.2,846.48 531.95,844.77 532.7,843.92 533.45,842.98 534.2,841.73 534.95,840.41 535.7,838.97 536.45,836.55 537.2,833.02 537.95,829.23 538.7,825.51 539.45,821.87 540.2,818.77 540.95,816.36 541.7,814.45 542.45,812.69 543.2,811.88 543.95,811.93 544.7,811.95 545.45,811.52 546.2,811.04 546.95,810.9 547.7,811 548.45,810.78 549.2,808.15 549.95,803.08 550.7,797.46 551.45,792.39 552.2,786.65 552.95,780.23 553.7,773.91 554.45,768.33 555.2,763.79 555.95,759.37 556.7,755.4 557.45,753 558.2,753.02 558.95,756.05 559.7,761.68 560.45,768.4 561.2,774.43 561.95,779.24 562.7,783.84 563.45,788.3 564.2,792.89 564.95,796.82 565.7,799.72 566.45,802.2 567.2,804.53 567.95,806.93 568.7,809.47 569.45,812.21 570.2,814.56 570.95,816.6 571.7,819.14 572.45,821.57 573.2,823.48 573.95,824.93 574.7,826.04 575.45,827.25 576.2,828.21 576.95,828.17 577.7,827.21 578.45,826.03 579.2,824.41 579.95,822.57 580.7,821.46 581.45,820.48 582.2,819.05 582.95,818 583.7,817.16 584.45,815.29 585.2,810.8 585.95,805.34 586.7,801.03 587.45,796.39 588.2,792.34 588.95,792.53 589.7,796.51 590.45,801.55 591.2,806.48 591.95,813.93 592.7,822.9 593.45,831.06 594.2,836.94 594.95,841.89 595.7,846.63 596.45,850.79 597.2,853.22 597.95,855.41 598.7,857.31 599.45,858.51 600.2,859.44 600.95,860.12 601.7,860.77 602.45,861.42 603.2,862.1 603.95,862.78 604.7,863.51 605.45,864.72 606.2,865.15 606.95,864.48 607.7,864.72 608.45,865.69 609.2,866.08 609.95,866.16 610.7,866.46 611.45,866.75 612.2,866.96 612.95,867.47 613.7,868.02 614.45,868.38 615.2,868.5 615.95,868.33 616.7,867.99 617.45,867.71 618.2,867.78 618.95,868.14 619.7,868.78 620.45,869.01 621.2,868.52 621.95,868.22 622.7,868.28 623.45,868.33 624.2,868.46 624.95,868.71 625.7,868.93 626.45,869.22 627.2,869.13 627.95,868.69 628.7,868.69 629.45,868.92 630.2,868.62 630.95,868.3 631.7,868.46 632.45,868.92 633.2,869.38 633.95,869.15 634.7,868.5 635.45,868.46 636.2,869.11 636.95,869.34 637.7,869.09 638.45,869.03 639.2,869.21 639.95,869.37 640.7,869.21 641.45,869.06 642.2,868.84 642.95,868.51 643.7,868.67 644.45,868.92 645.2,868.94 645.95,869.18 646.7,869.42 647.45,869.15 648.2,868.93 648.95,869.34 649.7,869.78 650.45,869.85 651.2,869.86 651.95,869.79 652.7,869.2 653.45,868.65 654.2,868.82 654.95,869.12 655.7,869.49 656.45,869.67 657.2,869.62 657.95,869.59 658.7,869.47 659.45,869.49 660.2,869.38 660.95,869.19 661.7,869.31 662.45,869.85 663.2,870.13 663.95,869.77 664.7,869.68 665.45,869.79 666.2,869.68 666.95,869.71 667.7,869.67 668.45,869.41 669.2,869.56 669.95,870.02 670.7,869.94 671.45,869.87 672.2,870.16 672.95,869.99 673.7,869.53 674.45,869.53 675.2,869.75 675.95,869.9 676.7,869.9 677.45,869.58 678.2,869.48 678.95,869.93 679.7,870.21 680.45,870.43 681.2,871.06 681.95,871.08 682.7,870.31 683.45,869.95 684.2,870.06 684.95,870.08 685.7,870.17 686.45,870.32 687.2,870.02 687.95,869.96 688.7,870.36 689.45,870.24 690.2,870.17 690.95,870.41 691.7,870.37 692.45,870.34 693.2,870.22 693.95,870.01 694.7,870.27 695.45,870.46 696.2,870.4 696.95,870.67 697.7,870.71 698.45,870.41 699.2,870.37 699.95,870.44 700.7,870.38 701.45,869.92 702.2,869.7 702.95,870.15 703.7,870.35 704.45,870.03 705.2,869.65 705.95,869.66 706.7,869.89 707.45,869.78 708.2,869.56 708.95,869.7 709.7,869.77 710.45,869.57 711.2,869.44 711.95,869.56 712.7,869.76 713.45,869.69 714.2,869.68 714.95,869.86 715.7,869.71 716.45,869.58 717.2,869.52 717.95,869.05 718.7,868.95 719.45,869.31 720.2,869.55 720.95,869.7 721.7,869.6 722.45,869.56 723.2,869.56 723.95,869.12 724.7,868.95 725.45,869.2 726.2,869.26 726.95,869.2 727.7,869.1 728.45,869.06 729.2,869.03 729.95,868.92 730.7,869.07 731.45,869.31 732.2,869.4 732.95,869.31 733.7,869.04 734.45,868.81 735.2,868.74 735.95,868.87 736.7,869.13 737.45,869.32 738.2,869.55 738.95,869.74 739.7,869.6 740.45,869.25 741.2,869.3 741.95,869.74 742.7,869.36 743.45,868.74 744.2,869.21 744.95,869.65 745.7,869.51 746.45,869.49 747.2,869.54 747.95,869.55 748.7,869.59 749.45,869.64 750.2,869.68 750.95,869.63 751.7,869.57 752.45,869.59 753.2,869.31 753.95,869.09 754.7,869.44 755.45,869.58 756.2,869.62 756.95,869.86 757.7,869.86 758.45,869.8 759.2,869.76 759.95,869.82 760.7,870.05 761.45,870.03 762.2,869.61 762.95,869.64 763.7,870.13 764.45,870.41 765.2,870.5 765.95,869.99 766.7,869.57 767.45,869.95 768.2,870.26 768.95,870.12 769.7,870 770.45,869.91 771.2,869.57 771.95,869.49 772.7,869.95 773.45,869.95 774.2,869.62 774.95,869.83 775.7,869.94 776.45,869.86 777.2,870.06 777.95,870.17 778.7,870.28 779.45,870.45 780.2,870.57 780.95,870.7 781.7,870.56 782.45,870.19 783.2,869.86 783.95,869.6 784.7,869.62 785.45,869.68 786.2,869.84 786.95,870.16 787.7,870.27 788.45,870.49 789.2,870.82 789.95,870.37 790.7,870.04 791.45,870.16 792.2,869.56 792.95,868.78 793.7,868.2 794.45,867.56 795.2,867.36 795.95,867.16 796.7,866.52 797.45,865.66 798.2,865.09 798.95,864.98 799.7,864.81 800.45,864.4 801.2,864.21 801.95,864.17 802.7,863.79 803.45,863.64 804.2,864.4 804.95,865.94 805.7,867.24 806.45,867.71 807.2,867.76 807.95,867.81 808.7,867.63 809.45,866.9 810.2,866.63 810.95,866.72 811.7,866.31 812.45,866.25 813.2,866.73 813.95,866.93 814.7,867.03 815.45,867 816.2,866.7 816.95,867.01 817.7,867.67 818.45,867.96 819.2,868.25 819.95,868.72 820.7,869.16 821.45,869.56 822.2,870 822.95,870.33 823.7,870.34 824.45,869.84 825.2,869.75 825.95,870.38 826.7,870.93 827.45,871.3 828.2,871.39 828.95,871.39 829.7,871.59 830.45,871.55 831.2,871.62 831.95,872.01 832.7,872.11 833.45,871.94 834.2,872.13 834.95,872.33 835.7,871.94 836.45,871.59 837.2,871.39 837.95,871.26 838.7,871.52 839.45,871.48 840.2,870.63 840.95,869.57 841.7,869.24 842.45,869.38 843.2,869.16 843.95,868.88 844.7,868.71 845.45,868.5 846.2,868.41 846.95,868.47 847.7,868.51 848.45,868.42 849.2,867.9 849.95,867.31 850.7,867.63 851.45,868.31 852.2,868.54 852.95,868.25 853.7,867.58 854.45,867.26 855.2,867.5 855.95,867.67 856.7,867.51 857.45,867.35 858.2,867.26 858.95,867.08 859.7,867.02 860.45,866.71 861.2,866.2 861.95,866.35 862.7,866.64 863.45,866.83 864.2,866.92 864.95,866.78 865.7,866.78 866.45,866.68 867.2,866.52 867.95,866.43 868.7,866.55 869.45,866.5 870.2,865.95 870.95,865.56 871.7,865.38 872.45,865.17 873.2,865.4 873.95,865.8 874.7,865.75 875.45,865.59 876.2,865.67 876.95,865.74 877.7,865.41 878.45,865.27 879.2,865.18 879.95,864.45 880.7,863.97 881.45,863.86 882.2,863.79 882.95,864 883.7,864.33 884.45,864.07 885.2,863.57 885.95,863.97 886.7,864.19 887.45,863.75 888.2,863.9 888.95,864.06 889.7,863.69 890.45,863.67 891.2,863.83 891.95,863.88 892.7,864 893.45,863.99 894.2,864.25 894.95,864.88 895.7,865.36 896.45,865.65 897.2,865.69 897.95,865.66 898.7,865.77 899.45,866.02 900.2,866.49 900.95,867.06 901.7,867.48 902.45,867.56 903.2,867.6 903.95,868.12 904.7,868.61 905.45,868.57 906.2,868.67 906.95,869.12 907.7,869.22 908.45,868.99 909.2,869.2 909.95,869.37 910.7,869.19 911.45,869.26 912.2,869.33 912.95,869.26 913.7,869.27 914.45,869.15 915.2,868.8 915.95,868.74 916.7,869.19 917.45,869.64 918.2,869.59 918.95,869.15 919.7,868.94 920.45,868.75 921.2,868.58 921.95,868.64 922.7,868.58 923.45,868.4 924.2,868.12 924.95,867.94 925.7,868.23 926.45,868.59 927.2,868.57 927.95,868.29 928.7,867.8 929.45,867.59 930.2,867.76 930.95,867.59 931.7,867.22 932.45,867.24 933.2,867.6 933.95,867.79 934.7,867.8 935.45,867.47 936.2,866.66 936.95,866.09 937.7,866.21 938.45,866.33 939.2,865.91 939.95,865.8 940.7,865.62 941.45,865.2 942.2,865.51 942.95,865.7 943.7,865.18 944.45,864.87 945.2,865.04 945.95,865.14 946.7,864.92 947.45,864.28 948.2,863.85 948.95,864.23 949.7,864.37 950.45,864 951.2,863.91 951.95,864.28 952.7,864.56 953.45,864.71 954.2,865.12 954.95,865.41 955.7,865.68 956.45,865.8 957.2,865.8 957.95,866.14 958.7,866.45 959.45,866.54 960.2,866.62 960.95,866.69 961.7,866.79 962.45,866.98 963.2,866.86 963.95,866.46 964.7,866.47 965.45,866.41 966.2,865.91 966.95,865.67 967.7,865.88 968.45,866.01 969.2,865.87 969.95,865.45 970.7,865.22 971.45,865.69 972.2,865.77 972.95,865.22 973.7,865.13 974.45,865.63 975.2,865.93 975.95,865.86 976.7,865.96 977.45,866.32 978.2,866.66 978.95,867.06 979.7,867.25 980.45,867.24 981.2,867.29 981.95,867.47 982.7,867.64 983.45,867.44 984.2,867.46 984.95,867.98 985.7,868.31 986.45,868.43 987.2,868.78 987.95,869.07 988.7,869.39 989.45,869.55 990.2,869.27 990.95,869.53 991.7,870.17 992.45,870 993.2,869.75 993.95,870.17 994.7,870.45 995.45,870.65 996.2,870.8 996.95,870.83 997.7,871.16 998.45,871.16 999.2,870.73 999.95,870.81 1000.7,871.45 1001.45,871.65 1002.2,871.56 1002.95,871.88 1003.7,872.25 1004.45,872.51 1005.2,872.38 1005.95,872.24 1006.7,872.45 1007.45,872.21 1008.2,871.96 1008.95,872.04 1009.7,872.23 1010.45,872.46 1011.2,872.57 1011.95,872.63 1012.7,872.57 1013.45,872.72 1014.2,873.2 1014.95,873.55 1015.7,873.6 1016.45,873.34 1017.2,873.21 1017.95,873.57 1018.7,873.89 1019.45,873.83 1020.2,873.85 1020.95,874.1 1021.7,873.94 1022.45,873.6 1023.2,873.67 1023.95,873.84 1024.7,874.02 1025.45,874.1 1026.2,873.93 1026.95,874.06 1027.7,874.27 1028.45,874.25 1029.2,874.52 1029.95,874.69 1030.7,874.43 1031.45,874.22 1032.2,874 1032.95,873.95 1033.7,874.2 1034.45,874.66 1035.2,874.94 1035.95,874.69 1036.7,874.67 1037.45,875.09 1038.2,875.31 1038.95,875.19 1039.7,875.12 1040.45,875.3 1041.2,875.24 1041.95,874.92 1042.7,874.6 1043.45,874.34 1044.2,874.09 1044.95,873.94 1045.7,874.19 1046.45,874.64 1047.2,874.71 1047.95,874.64 1048.7,875.1 1049.45,875.53 1050.2,875.44 1050.95,875.37 1051.7,875.41 1052.45,875.46 1053.2,875.42 1053.95,875.12 1054.7,875.02 1055.45,875.25 1056.2,875.65 1056.95,875.89 1057.7,875.78 1058.45,875.6 1059.2,875.52 1059.95,875.24 1060.7,875.06 1061.45,875.35 1062.2,875.42 1062.95,875.03 1063.7,874.94 1064.45,875.28 1065.2,875.18 1065.95,874.81 1066.7,874.98 1067.45,875.38 1068.2,875.56 1068.95,875.83 1069.7,875.93 1070.45,875.43 1071.2,875.01 1071.95,874.88 1072.7,875.02 1073.45,875.57 1074.2,876.16 1074.95,876.39 1075.7,876.13 1076.45,875.7 1077.2,875.33 1077.95,875.4 1078.7,875.92 1079.45,876.07 1080.2,875.71 1080.95,875.51 1081.7,875.72 1082.45,875.73 1083.2,875.59 1083.95,875.55 1084.7,875.27 1085.45,875.01 1086.2,875.02 1086.95,875.15 1087.7,875.36 1088.45,875.59 1089.2,875.71 1089.95,875.14 1090.7,874.39 1091.45,874.27 1092.2,874.44 1092.95,874.72 1093.7,874.75 1094.45,874.25 1095.2,873.75 1095.95,873.69 1096.7,873.89 1097.45,874.18 1098.2,874.05 1098.95,873.44 1099.7,872.98 1100.45,872.5 1101.2,872.52 1101.95,873.06 1102.7,873.04 1103.45,872.96 1104.2,873.06 1104.95,872.92 1105.7,872.75 1106.45,872.57 1107.2,872.58 1107.95,872.54 1108.7,871.91 1109.45,871.61 1110.2,872 1110.95,872.19 1111.7,872.46 1112.45,872.68 1113.2,872.31 1113.95,871.48 1114.7,871 1115.45,871.42 1116.2,871.65 1116.95,871.07 1117.7,870.54 1118.45,870.62 1119.2,870.74 1119.95,870.4 1120.7,870.03 1121.45,869.63 1122.2,869.12 1122.95,868.94 1123.7,868.76 1124.45,868.29 1125.2,868.17 1125.95,868.57 1126.7,868.7 1127.45,868.24 1128.2,867.79 1128.95,867.66 1129.7,867.47 1130.45,867.03 1131.2,866.59 1131.95,866.64 1132.7,866.85 1133.45,866.8 1134.2,866.8 1134.95,866.57 1135.7,866.2 1136.45,866.17 1137.2,866.33 1137.95,866.44 1138.7,866.92 1139.45,867.62 1140.2,867.78 1140.95,867.36 1141.7,867.07 1142.45,867.21 1143.2,867.26 1143.95,867.38 1144.7,867.83 1145.45,868.15 1146.2,868.67 1146.95,869.58 1147.7,870.47 1148.45,871.21 1149.2,871.55 1149.95,871.75 1150.7,872.08 1151.45,872.09 1152.2,871.64 1152.95,871.32 1153.7,871.34 1154.45,871.55 1155.2,871.55 1155.95,871.19 1156.7,870.81 1157.45,870.35 1158.2,870.06 1158.95,870.04 1159.7,870 1160.45,870.15 1161.2,870.79 1161.95,871.91 1162.7,872.54 1163.45,872.49 1164.2,872.74 1164.95,873.18 1165.7,873.18 1166.45,872.98 1167.2,873.01 1167.95,873.11 1168.7,873.26 1169.45,873.25 1170.2,873.33 1170.95,873.55 1171.7,873.54 1172.45,873.64 1173.2,873.53 1173.95,873.06 1174.7,872.62 1175.45,872.09 1176.2,871.46 1176.95,871.06 1177.7,870.76 1178.45,870.38 1179.2,870.22 1179.95,870.07 1180.7,869.24 1181.45,868.07 1182.2,867.6 1182.95,867.2 1183.7,866.19 1184.45,864.71 1185.2,862.66 1185.95,860.61 1186.7,858.02 1187.45,854.53 1188.2,849.2 1188.95,842.35 1189.7,835.89 1190.45,831.39 1191.2,828.3 1191.95,825.76 1192.7,824.18 1193.45,822.99 1194.2,822.57 1194.95,823.15 1195.7,823.8 1196.45,825.12 1197.2,827.31 1197.95,829.21 1198.7,831.45 1199.45,833.95 1200.2,836.53 1200.95,839.34 1201.7,842.18 1202.45,844.6 1203.2,846.54 1203.95,849.13 1204.7,851.75 1205.45,853.4 1206.2,855.09 1206.95,856.65 1207.7,857.83 1208.45,858.83 1209.2,859.53 1209.95,860.6 1210.7,861.59 1211.45,862.37 1212.2,862.86 1212.95,863 1213.7,863.38 1214.45,863.71 1215.2,863.48 1215.95,862.95 1216.7,863.02 1217.45,863.49 1218.2,863.73 1218.95,863.55 1219.7,863.03 1220.45,862.81 1221.2,862.74 1221.95,862.39 1222.7,861.43 1223.45,860.41 1224.2,859.34 1224.95,857.52 1225.7,855.13 1226.45,852.39 1227.2,850.11 1227.95,847.91 1228.7,844.89 1229.45,841.95 1230.2,840.55 1230.95,841.83 1231.7,844.99 1232.45,848.5 1233.2,851.45 1233.95,853.23 1234.7,855.37 1235.45,857.34 1236.2,858.38 1236.95,859.02 1237.7,859.21 1238.45,859.51 1239.2,860.21 1239.95,860.59 1240.7,860.39 1241.45,860.32 1242.2,861.07 1242.95,861.9 1243.7,862.02 1244.45,862.2 1245.2,862.46 1245.95,862.43 1246.7,862.41 1247.45,862.27 1248.2,862.25 1248.95,862.39 1249.7,862.24 1250.45,862.22 1251.2,862.57 1251.95,862.48 1252.7,862.25 1253.45,862.49 1254.2,862.58 1254.95,862.66 1255.7,863.06 1256.45,863.12 1257.2,862.61 1257.95,862.32 1258.7,862.68 1259.45,863 1260.2,862.73 1260.95,862.55 1261.7,862.89 1262.45,863.21 1263.2,863.3 1263.95,863.77 1264.7,864.49 1265.45,864.34 1266.2,864.05 1266.95,864.35 1267.7,864.52 1268.45,864.7 1269.2,865.21 1269.95,865.68 1270.7,865.64 1271.45,865.79 1272.2,866.13 1272.95,865.99 1273.7,865.61 1274.45,864.96 1275.2,864.64 1275.95,864.73 1276.7,864.51 1277.45,864.23 1278.2,864.24 1278.95,864.35 1279.7,864.31 1280.45,863.87 1281.2,863.61 1281.95,863.83 1282.7,864.22 1283.45,864.66 1284.2,864.72 1284.95,864.82 1285.7,865.24 1286.45,865.43 1287.2,865.45 1287.95,865.56 1288.7,865.83 1289.45,865.87 1290.2,865.82 1290.95,866.39 1291.7,867.15 1292.45,867.22 1293.2,867.05 1293.95,867.46 1294.7,868.14 1295.45,868.31 1296.2,868.38 1296.95,868.78 1297.7,868.99 1298.45,869.22 1299.2,869.13 1299.95,868.71 1300.7,868.75 1301.45,869 1302.2,869.04 1302.95,869.09 1303.7,869.39 1304.45,869.52 1305.2,869.62 1305.95,869.61 1306.7,869.11 1307.45,868.76 1308.2,869.31 1308.95,869.81 1309.7,869.88 1310.45,869.96 1311.2,869.7 1311.95,869.43 1312.7,869.28 1313.45,868.97 1314.2,868.43 1314.95,867.92 1315.7,867.73 1316.45,867.39 1317.2,867.01 1317.95,866.63 1318.7,866.21 1319.45,866.35 1320.2,866.78 1320.95,866.58 1321.7,866.08 1322.45,865.98 1323.2,865.95 1323.95,865.96 1324.7,866.05 1325.45,865.85 1326.2,865.63 1326.95,865.83 1327.7,866.5 1328.45,867.13 1329.2,867.06 1329.95,866.93 1330.7,867.24 1331.45,867.26 1332.2,867.25 1332.95,867.46 1333.7,867.7 1334.45,868.44 1335.2,869.06 1335.95,869.16 1336.7,869.66 1337.45,870.18 1338.2,869.93 1338.95,869.62 1339.7,869.9 1340.45,870.52 1341.2,870.72 1341.95,870.49 1342.7,870.77 1343.45,871.15 1344.2,871.27 1344.95,871.38 1345.7,871.47 1346.45,871.69 1347.2,871.89 1347.95,871.83 1348.7,871.51 1349.45,871.19 1350.2,871.15 1350.95,871.32 1351.7,871.42 1352.45,871.26 1353.2,870.95 1353.95,870.79 1354.7,870.74 1355.45,870.57 1356.2,870.36 1356.95,870.6 1357.7,870.72 1358.45,870.11 1359.2,869.63 1359.95,869.77 1360.7,870.15 1361.45,870.46 1362.2,870.68 1362.95,870.5 1363.7,870.44 1364.45,870.71 1365.2,870.7 1365.95,870.54 1366.7,870.58 1367.45,870.67 1368.2,870.67 1368.95,871.07 1369.7,871.63 1370.45,871.84 1371.2,871.83 1371.95,871.83 1372.7,871.86 1373.45,871.81 1374.2,871.53 1374.95,871.1 1375.7,871.03 1376.45,871.05 1377.2,870.54 1377.95,869.75 1378.7,869.6 1379.45,869.62 1380.2,869.12 1380.95,868.83 1381.7,868.97 1382.45,869.2 1383.2,869.3 1383.95,869.27 1384.7,869.17 1385.45,869.36 1386.2,869.85 1386.95,870.46 1387.7,871.16 1388.45,871.15 1389.2,870.78 1389.95,870.86 1390.7,871.06 1391.45,871.46 1392.2,872.15 1392.95,872.71 1393.7,872.95 1394.45,873.35 1395.2,873.72 1395.95,873.82 1396.7,874.47 1397.45,875.18 1398.2,875.37 1398.95,875.69 1399.7,876.13 1400.45,876.65 1401.2,876.89 1401.95,876.62 1402.7,876.31 1403.45,875.97 1404.2,875.54 1404.95,874.73 1405.7,874.08 1406.45,874.09 1407.2,874.27 1407.95,874.44 1408.7,874.31 1409.45,874 1410.2,873.86 1410.95,873.84 1411.7,873.7 1412.45,873.65 1413.2,873.64 1413.95,873.6 1414.7,873.75 1415.45,874.14 1416.2,874.91 1416.95,875.55 1417.7,875.83 1418.45,876.07 1419.2,876.41 1419.95,876.53 1420.7,876.63 1421.45,877.21 1422.2,877.96 1422.95,878.72 1423.7,879.56 1424.45,880.54 1425.2,881.05 1425.95,880.94 1426.7,881.03 1427.45,881.21 1428.2,881.18 1428.95,881.51 1429.7,882.14 1430.45,882.27 1431.2,882.02 1431.95,881.86 1432.7,881.47 1433.45,881.1 1434.2,881.44 1434.95,881.73 1435.7,881.7 1436.45,881.37 1437.2,880.67 1437.95,880.57 1438.7,880.61 1439.45,880.05 1440.2,879.31 1440.95,878.96 1441.7,878.89 1442.45,878.52 1443.2,877.74 1443.95,876.7 1444.7,875.92 1445.45,875.81 1446.2,875.83 1446.95,875.41 1447.7,875.08 1448.45,874.83 1449.2,874.39 1449.95,874.16 1450.7,874.24 1451.45,874.53 1452.2,874.37 1452.95,873.49 1453.7,873 1454.45,873.54 1455.2,874.29 1455.95,874.45 1456.7,874.41 1457.45,874.8 1458.2,875.03 1458.95,875.05 1459.7,875.24 1460.45,875.39 1461.2,875.5 1461.95,875.89 1462.7,876.42 1463.45,876.38 1464.2,875.84 1464.95,875.1 1465.7,874.21 1466.45,873.57 1467.2,872.6 1467.95,871.4 1468.7,870.93 1469.45,870.44 1470.2,869.5 1470.95,868.85 1471.7,868.61 1472.45,868.56 1473.2,868.17 1473.95,867.25 1474.7,867.01 1475.45,867.47 1476.2,867.64 1476.95,867.99 1477.7,868.5 1478.45,868.56 1479.2,869.25 1479.95,870.07 1480.7,870.38 1481.45,871.19 1482.2,872.1 1482.95,872.55 1483.7,872.97 1484.45,873.62 1485.2,874.63 1485.95,874.82 1486.7,874.55 1487.45,875.18 1488.2,875.53 1488.95,875.33 1489.7,875.32 1490.45,875.31 1491.2,875.21 1491.95,874.84 1492.7,874.3 1493.45,874.29 1494.2,874.36 1494.95,873.74 1495.7,873.14 1496.45,872.97 1497.2,872.71 1497.95,872.03 1498.7,871.51 1499.45,871.09 1500.2,870.17 1500.95,869.5 1501.7,869.37 1502.45,868.86 1503.2,868.27 1503.95,868.06 1504.7,868.29 1505.45,868.73 1506.2,869.7 1506.95,871.12 1507.7,872.14 1508.45,872.74 1509.2,873.57 1509.95,873.88 1510.7,872.45 1511.45,870.49 1512.2,868.96 1512.95,867.99 1513.7,867.74 1514.45,867.41 1515.2,867.18 1515.95,869.21 1516.7,873.51 1517.45,876.47 1518.2,878.38 1518.95,880.3 1519.7,881.96 1520.45,882.61 1521.2,882.94 1521.95,883.55 1522.7,884.11 1523.45,884.6 1524.2,885.13 1524.95,885.62 1525.2,885.51"/>
<path id="curve-cyan" stroke="#18A0DA" d="M132.2,952.3 132.95,952.01 133.7,951.9 134.45,951.91 135.2,951.74 135.95,951.79 136.7,951.66 137.45,951.55 138.2,952.01 138.95,952.1 139.7,951.77 140.45,951.82 141.2,951.96 141.95,951.84 142.7,951.57 143.45,951.51 144.2,951.83 144.95,952 145.7,951.73 146.45,951.69 147.2,952.1 147.95,952.05 148.7,952.02 149.45,952.31 150.2,951.88 150.95,951.35 151.7,951.18 152.45,951.25 153.2,951.7 153.95,951.7 154.7,951.65 155.45,951.72 156.2,951.52 156.95,951.38 157.7,951.15 158.45,951.09 159.2,951.49 159.95,952.17 160.7,952.32 161.45,951.94 162.2,951.83 162.95,951.8 163.7,951.67 164.45,951.27 165.2,950.81 165.95,950.94 166.7,951.77 167.45,952.29 168.2,951.89 168.95,951.72 169.7,952.03 170.45,951.88 171.2,951.62 171.95,951.58 172.7,951.46 173.45,951.19 174.2,951.11 174.95,951.39 175.7,951.65 176.45,951.7 177.2,951.22 177.95,950.82 178.7,951.34 179.45,951.78 180.2,951.37 180.95,950.89 181.7,950.75 182.45,950.83 183.2,950.92 183.95,951.13 184.7,951.49 185.45,951.41 186.2,951.44 186.95,951.85 187.7,951.8 188.45,951.4 189.2,951.35 189.95,951.39 190.7,950.96 191.45,950.72 192.2,951.18 192.95,951.5 193.7,951.21 194.45,950.86 195.2,950.8 195.95,950.82 196.7,951.04 197.45,951.53 198.2,951.67 198.95,951.43 199.7,951.28 200.45,951.18 201.2,950.98 201.95,950.76 202.7,950.65 203.45,951.03 204.2,951.53 204.95,951.27 205.7,950.71 206.45,950.42 207.2,950.44 207.95,950.7 208.7,950.59 209.45,950.33 210.2,950.43 210.95,950.64 211.7,950.84 212.45,950.94 213.2,950.87 213.95,950.48 214.7,950.27 215.45,950.53 216.2,950.71 216.95,950.4 217.7,950 218.45,950.08 219.2,950.13 219.95,949.92 220.7,950.09 221.45,950.38 222.2,950.03 222.95,949.78 223.7,950.01 224.45,950.01 225.2,949.96 225.95,950.09 226.7,950.07 227.45,950.03 228.2,950.05 228.95,949.78 229.7,949.44 230.45,949.32 231.2,949.36 231.95,949.3 232.7,948.88 233.45,948.69 234.2,948.85 234.95,948.57 235.7,948.46 236.45,948.8 237.2,948.93 237.95,948.92 238.7,948.69 239.45,948.36 240.2,948.34 240.95,948.56 241.7,948.67 242.45,948.65 243.2,948.58 243.95,948.57 244.7,948.62 245.45,948.6 246.2,948.97 246.95,949.54 247.7,949.91 248.45,949.75 249.2,949.32 249.95,949.63 250.7,950.09 251.45,949.89 252.2,949.58 252.95,949.93 253.7,950.09 254.45,949.69 255.2,949.89 255.95,950.11 256.7,949.91 257.45,949.82 258.2,949.61 258.95,949.49 259.7,949.69 260.45,949.96 261.2,950.19 261.95,950.2 262.7,949.96 263.45,950.09 264.2,950.47 264.95,950.27 265.7,949.99 266.45,950.13 267.2,950.21 267.95,950.29 268.7,950.52 269.45,950.62 270.2,950.18 270.95,949.57 271.7,949.72 272.45,950.24 273.2,950.45 273.95,950.58 274.7,950.41 275.45,950.27 276.2,950.38 276.95,949.95 277.7,949.92 278.45,950.34 279.2,950.17 279.95,950.37 280.7,950.7 281.45,950.28 282.2,950.05 282.95,950.21 283.7,949.93 284.45,949.76 285.2,950.2 285.95,950.59 286.7,950.69 287.45,950.6 288.2,950.37 288.95,950.15 289.7,950.04 290.45,950.26 291.2,950.5 291.95,950.5 292.7,950.45 293.45,950.27 294.2,950.22 294.95,950.36 295.7,950.49 296.45,950.63 297.2,950.84 297.95,950.95 298.7,950.63 299.45,950.25 300.2,950.18 300.95,950.45 301.7,950.59 302.45,950.39 303.2,950.5 303.95,950.69 304.7,950.51 305.45,950.5 306.2,950.74 306.95,950.75 307.7,950.82 308.45,951.07 309.2,950.97 309.95,950.54 310.7,950.4 311.45,950.55 312.2,950.31 312.95,950.21 313.7,950.66 314.45,950.86 315.2,950.62 315.95,950.54 316.7,950.7 317.45,950.59 318.2,950.29 318.95,950.18 319.7,950.33 320.45,950.49 321.2,950.59 321.95,950.71 322.7,950.82 323.45,950.83 324.2,950.49 324.95,950.29 325.7,950.57 326.45,950.97 327.2,951.17 327.95,950.79 328.7,950.32 329.45,950.7 330.2,951.1 330.95,950.79 331.7,950.56 332.45,950.6 333.2,950.64 333.95,950.76 334.7,950.93 335.45,951.1 336.2,950.89 336.95,950.62 337.7,950.86 338.45,950.93 339.2,950.58 339.95,950.16 340.7,950.11 341.45,950.53 342.2,950.35 342.95,949.78 343.7,949.88 344.45,950.48 345.2,950.85 345.95,950.83 346.7,950.65 347.45,950.27 348.2,950.29 348.95,950.81 349.7,950.94 350.45,950.92 351.2,950.91 351.95,950.55 352.7,950.59 353.45,951.17 354.2,951.34 354.95,951.18 355.7,951.07 356.45,950.81 357.2,950.68 357.95,950.48 358.7,950.28 359.45,950.68 360.2,950.97 360.95,950.78 361.7,950.85 362.45,950.9 363.2,950.35 363.95,950.03 364.7,950.15 365.45,950.47 366.2,950.95 366.95,950.85 367.7,950.42 368.45,950.8 369.2,951.31 369.95,950.82 370.7,950.45 371.45,950.76 372.2,950.94 372.95,950.72 373.7,950.32 374.45,950.34 375.2,950.69 375.95,950.54 376.7,950.4 377.45,950.9 378.2,951.03 378.95,950.7 379.7,950.62 380.45,950.63 381.2,950.35 381.95,950.27 382.7,950.4 383.45,950.39 384.2,950.4 384.95,950.33 385.7,950.44 386.45,950.88 387.2,951.01 387.95,950.44 388.7,950.06 389.45,950.16 390.2,950.2 390.95,950.42 391.7,950.82 392.45,951.17 393.2,951.13 393.95,951.06 394.7,951.56 395.45,951.54 396.2,950.57 396.95,950 397.7,950.34 398.45,950.36 399.2,950.06 399.95,950.34 400.7,950.51 401.45,950.5 402.2,950.86 402.95,950.95 403.7,950.69 404.45,950.56 405.2,950.4 405.95,950.36 406.7,950.64 407.45,950.73 408.2,950.27 408.95,950.05 409.7,950.29 410.45,950.31 411.2,950.7 411.95,951.14 412.7,950.72 413.45,950.11 414.2,950.24 414.95,950.75 415.7,950.86 416.45,950.91 417.2,950.95 417.95,950.7 418.7,950.41 419.45,949.91 420.2,949.45 420.95,949.78 421.7,950.38 422.45,950.62 423.2,950.69 423.95,950.66 424.7,950.75 425.45,950.74 426.2,950.45 426.95,950.2 427.7,950.27 428.45,950.67 429.2,950.82 429.95,950.96 430.7,951.25 431.45,951.11 432.2,950.85 432.95,950.62 433.7,950.39 434.45,950.55 435.2,950.48 435.95,950.37 436.7,950.65 437.45,950.69 438.2,950.64 438.95,950.72 439.7,951 440.45,950.98 441.2,950.35 441.95,950.05 442.7,950.47 443.45,950.76 444.2,950.53 444.95,950.45 445.7,950.27 446.45,949.82 447.2,949.85 447.95,950.17 448.7,950.39 449.45,950.29 450.2,950.15 450.95,950.15 451.7,950.15 452.45,950.3 453.2,950.36 453.95,950.31 454.7,950.48 455.45,950.74 456.2,950.77 456.95,950.79 457.7,950.69 458.45,950.52 459.2,950.69 459.95,950.82 460.7,950.68 461.45,950.48 462.2,950.54 462.95,951.05 463.7,951.19 464.45,950.74 465.2,950.58 465.95,950.68 466.7,950.82 467.45,950.97 468.2,950.57 468.95,949.9 469.7,949.92 470.45,950.23 471.2,950.34 471.95,950.3 472.7,950.42 473.45,950.96 474.2,950.83 474.95,950.05 475.7,950.17 476.45,950.64 477.2,950.6 477.95,950.32 478.7,950.06 479.45,950.26 480.2,950.82 480.95,951.01 481.7,950.66 482.45,950.4 483.2,950.48 483.95,950.62 484.7,950.73 485.45,950.62 486.2,950.47 486.95,950.41 487.7,950.42 488.45,950.82 489.2,950.87 489.95,950.5 490.7,950.42 491.45,950.53 492.2,950.87 492.95,950.94 493.7,950.76 494.45,950.74 495.2,950.47 495.95,950.21 496.7,950.23 497.45,950.31 498.2,950.36 498.95,950.33 499.7,950.34 500.45,950.61 501.2,950.62 501.95,950.07 502.7,949.86 503.45,950.33 504.2,950.5 504.95,950 505.7,949.67 506.45,950.05 507.2,950.08 507.95,949.58 508.7,949.58 509.45,949.54 510.2,949.39 510.95,949.36 511.7,949.19 512.45,949.42 513.2,949.59 513.95,949.03 514.7,948.16 515.45,947.48 516.2,947.01 516.95,946.94 517.7,947.06 518.45,946.34 519.2,945.02 519.95,943.84 520.7,942.78 521.45,941.6 522.2,940.54 522.95,939.61 523.7,938.17 524.45,936.95 525.2,936.5 525.95,936.1 526.7,935.1 527.45,933.7 528.2,932.47 528.95,931.14 529.7,928.98 530.45,924.6 531.2,920.1 531.95,918.11 532.7,917.24 533.45,916.66 534.2,916.34 534.95,915.43 535.7,914.02 536.45,912.55 537.2,910.81 537.95,909.02 538.7,907.05 539.45,904.69 540.2,902.78 540.95,901.31 541.7,899.69 542.45,898.34 543.2,897.66 543.95,897.7 544.7,897.96 545.45,898.22 546.2,898.63 546.95,898.91 547.7,899.22 548.45,899.47 549.2,897.59 549.95,893.98 550.7,890.34 551.45,887.07 552.2,881.85 552.95,874.83 553.7,867.76 554.45,862.42 555.2,859.16 555.95,855.48 556.7,851.93 557.45,849.3 558.2,847.67 558.95,847.45 559.7,851.1 560.45,857.48 561.2,864.03 561.95,868.85 562.7,873.12 563.45,877.44 564.2,881.68 564.95,884.88 565.7,887.12 566.45,889.11 567.2,891.2 567.95,893.45 568.7,895.8 569.45,897.79 570.2,899.58 570.95,901.34 571.7,903.36 572.45,905.88 573.2,908.07 573.95,909.47 574.7,910.67 575.45,911.81 576.2,912.73 576.95,913.22 577.7,912.85 578.45,912.18 579.2,911.61 579.95,910.9 580.7,909.98 581.45,908.85 582.2,907.89 582.95,906.98 583.7,905.99 584.45,905.33 585.2,904.25 585.95,899.64 586.7,893.89 587.45,889.38 588.2,884.88 588.95,882.75 589.7,884.08 590.45,887.56 591.2,892.1 591.95,898.27 592.7,906.98 593.45,915.4 594.2,921.42 594.95,927 595.7,931.98 596.45,935.5 597.2,937.62 597.95,939.52 598.7,940.83 599.45,941.77 600.2,943.07 600.95,944.06 601.7,944.56 602.45,945.03 603.2,945.6 603.95,946.35 604.7,946.7 605.45,947.06 606.2,947.58 606.95,947.8 607.7,947.88 608.45,947.87 609.2,947.92 609.95,948.17 610.7,948.79 611.45,949.44 612.2,949.73 612.95,949.8 613.7,949.65 614.45,949.72 615.2,950.21 615.95,950.72 616.7,950.9 617.45,950.98 618.2,951.06 618.95,951.01 619.7,951.17 620.45,951.34 621.2,951.15 621.95,951.34 622.7,951.67 623.45,951.58 624.2,951.4 624.95,951.51 625.7,951.49 626.45,950.88 627.2,950.65 627.95,951.22 628.7,951.81 629.45,951.77 630.2,951.32 630.95,951.21 631.7,951.5 632.45,951.57 633.2,951.23 633.95,950.98 634.7,951.17 635.45,951.61 636.2,951.81 636.95,951.74 637.7,951.44 638.45,951.24 639.2,951.38 639.95,951.49 640.7,951.71 641.45,951.83 642.2,951.54 642.95,951.58 643.7,952.01 644.45,951.99 645.2,951.33 645.95,950.97 646.7,951.56 647.45,952.22 648.2,952.22 648.95,951.82 649.7,951.63 650.45,951.87 651.2,951.99 651.95,951.78 652.7,951.7 653.45,951.8 654.2,951.78 654.95,951.72 655.7,951.9 656.45,951.98 657.2,952.05 657.95,952.39 658.7,952.29 659.45,951.98 660.2,952.28 660.95,952.43 661.7,952.38 662.45,952.57 663.2,952.64 663.95,952.53 664.7,952.14 665.45,952.11 666.2,952.78 666.95,953.13 667.7,952.88 668.45,952.57 669.2,952.13 669.95,951.87 670.7,952.3 671.45,952.48 672.2,951.99 672.95,951.73 673.7,951.81 674.45,952.28 675.2,952.49 675.95,952.14 676.7,952.32 677.45,952.72 678.2,952.42 678.95,951.92 679.7,951.65 680.45,951.83 681.2,952.3 681.95,952.51 682.7,952.78 683.45,952.77 684.2,952.35 684.95,952.36 685.7,952.65 686.45,952.68 687.2,952.37 687.95,952.21 688.7,952.4 689.45,952.07 690.2,951.68 690.95,952.08 691.7,952.81 692.45,953.06 693.2,952.48 693.95,952.34 694.7,952.86 695.45,952.72 696.2,952.21 696.95,951.92 697.7,952.14 698.45,952.56 699.2,952.36 699.95,952.02 700.7,952.24 701.45,952.49 702.2,952.31 702.95,952.27 703.7,952.29 704.45,952.05 705.2,951.91 705.95,952.27 706.7,952.47 707.45,951.99 708.2,951.44 708.95,951.38 709.7,951.63 710.45,951.69 711.2,951.64 711.95,951.46 712.7,951.34 713.45,951.63 714.2,951.71 714.95,951.56 715.7,951.66 716.45,951.73 717.2,951.43 717.95,951.31 718.7,951.48 719.45,951.25 720.2,950.81 720.95,950.73 721.7,950.88 722.45,950.85 723.2,950.96 723.95,951.22 724.7,951.36 725.45,951.46 726.2,951.29 726.95,951 727.7,950.89 728.45,951.01 729.2,951.21 729.95,951.14 730.7,951.11 731.45,951.29 732.2,951.19 732.95,950.79 733.7,950.7 734.45,951.07 735.2,951.26 735.95,951.12 736.7,950.92 737.45,950.83 738.2,951.02 738.95,951.19 739.7,951.16 740.45,951.07 741.2,951.1 741.95,951.28 742.7,951.24 743.45,951.17 744.2,951.47 744.95,951.7 745.7,951.59 746.45,951.35 747.2,951.08 747.95,951.09 748.7,951.1 749.45,950.83 750.2,950.93 750.95,951.36 751.7,951.6 752.45,951.41 753.2,950.99 753.95,950.84 754.7,951.1 755.45,951.44 756.2,951.52 756.95,951.4 757.7,951.31 758.45,951.56 759.2,951.68 759.95,951.45 760.7,951.71 761.45,952.17 762.2,951.97 762.95,951.72 763.7,951.72 764.45,951.6 765.2,951.85 765.95,952.44 766.7,952.27 767.45,951.68 768.2,952.03 768.95,952.37 769.7,951.99 770.45,952.06 771.2,952.25 771.95,952.02 772.7,951.95 773.45,951.7 774.2,951.45 774.95,951.75 775.7,952.08 776.45,952.48 777.2,952.77 777.95,952.42 778.7,952.06 779.45,952.12 780.2,952.28 780.95,952.15 781.7,951.64 782.45,951.26 783.2,951.43 783.95,951.96 784.7,952.07 785.45,951.81 786.2,951.72 786.95,951.71 787.7,951.72 788.45,951.82 789.2,952.11 789.95,952.46 790.7,952.12 791.45,951 792.2,950.02 792.95,949.02 793.7,946.94 794.45,942.82 795.2,937.89 795.95,932.56 796.7,927.61 797.45,924.44 798.2,922.09 798.95,920.14 799.7,918.13 800.45,916.29 801.2,915.33 801.95,915.17 802.7,915.57 803.45,917.01 804.2,919.19 804.95,921.19 805.7,926.59 806.45,933.1 807.2,933.91 807.95,930.99 808.7,927.54 809.45,925.24 810.2,925.22 810.95,925.47 811.7,925.6 812.45,925.58 813.2,925.87 813.95,926.9 814.7,928 815.45,928.65 816.2,929.49 816.95,930.77 817.7,932.14 818.45,933.5 819.2,934.95 819.95,936.63 820.7,938.21 821.45,939.56 822.2,941.18 822.95,942.79 823.7,943.8 824.45,944.4 825.2,945.17 825.95,946.1 826.7,947.04 827.45,948.09 828.2,949.07 828.95,949.83 829.7,950.54 830.45,951.19 831.2,951.65 831.95,952.31 832.7,953.22 833.45,953.38 834.2,952.87 834.95,952.61 835.7,952.63 836.45,952.79 837.2,952.89 837.95,952.67 838.7,952.32 839.45,952.01 840.2,951.67 840.95,951.29 841.7,950.91 842.45,950.37 843.2,949.95 843.95,950.32 844.7,950.64 845.45,950.15 846.2,949.94 846.95,950.16 847.7,949.96 848.45,949.88 849.2,950.15 849.95,950.12 850.7,949.78 851.45,949.52 852.2,949.54 852.95,949.65 853.7,949.73 854.45,949.82 855.2,949.67 855.95,949.42 856.7,949.13 857.45,948.88 858.2,949.07 858.95,949.11 859.7,948.71 860.45,948.5 861.2,948.42 861.95,948.35 862.7,948.54 863.45,948.49 864.2,948.21 864.95,948.37 865.7,948.7 866.45,948.74 867.2,948.48 867.95,948.04 868.7,947.74 869.45,947.75 870.2,948.16 870.95,948.55 871.7,948.46 872.45,948.26 873.2,947.72 873.95,946.98 874.7,946.83 875.45,947.08 876.2,947.46 876.95,947.38 877.7,946.78 878.45,946.61 879.2,946.58 879.95,946.22 880.7,945.91 881.45,945.94 882.2,945.94 882.95,945.73 883.7,945.67 884.45,945.51 885.2,945.4 885.95,945.17 886.7,944.42 887.45,944.03 888.2,943.97 888.95,943.63 889.7,943.5 890.45,943.69 891.2,943.68 891.95,943.56 892.7,943.92 893.45,944.65 894.2,944.84 894.95,944.83 895.7,945.57 896.45,946.01 897.2,945.74 897.95,945.98 898.7,946.66 899.45,947.06 900.2,947.51 900.95,947.96 901.7,948.16 902.45,948.56 903.2,949.15 903.95,949.79 904.7,950.42 905.45,950.64 906.2,950.45 906.95,950.7 907.7,951.28 908.45,951.23 909.2,950.75 909.95,950.56 910.7,950.65 911.45,950.51 912.2,950.25 912.95,950.15 913.7,950.31 914.45,950.33 915.2,950.04 915.95,950.07 916.7,950.17 917.45,949.92 918.2,949.78 918.95,949.77 919.7,949.9 920.45,950.09 921.2,950.12 921.95,950.34 922.7,950.27 923.45,949.82 924.2,949.73 924.95,949.6 925.7,949.39 926.45,949.46 927.2,949.65 927.95,949.89 928.7,949.74 929.45,949.22 930.2,949.16 930.95,949.49 931.7,949.15 932.45,948.59 933.2,948.72 933.95,948.85 934.7,948.62 935.45,948.03 936.2,947.53 936.95,947.62 937.7,947.65 938.45,946.94 939.2,946.33 939.95,946.31 940.7,946 941.45,945.67 942.2,945.48 942.95,945.23 943.7,945.21 944.45,945.28 945.2,945.38 945.95,945.43 946.7,945.18 947.45,944.92 948.2,945.22 948.95,945.68 949.7,945.71 950.45,945.6 951.2,945.75 951.95,946.08 952.7,946.45 953.45,946.51 954.2,946.22 954.95,946.41 955.7,947.12 956.45,947.6 957.2,947.28 957.95,946.71 958.7,946.52 959.45,946.67 960.2,947.36 960.95,947.8 961.7,947.7 962.45,947.82 963.2,947.9 963.95,947.74 964.7,947.68 965.45,947.55 966.2,947.28 966.95,947.06 967.7,946.65 968.45,946.36 969.2,946.55 969.95,946.57 970.7,946.39 971.45,946.5 972.2,946.39 972.95,946.02 973.7,946.08 974.45,946.2 975.2,946.34 975.95,946.61 976.7,946.69 977.45,946.92 978.2,947.38 978.95,947.7 979.7,948.17 980.45,948.52 981.2,948.33 981.95,948.15 982.7,948.26 983.45,948.78 984.2,949.34 984.95,949.34 985.7,949.03 986.45,949.23 987.2,949.65 987.95,949.78 988.7,949.75 989.45,949.83 990.2,950.3 990.95,950.58 991.7,950.35 992.45,950.15 993.2,950.32 993.95,950.64 994.7,950.8 995.45,950.83 996.2,950.93 996.95,951.32 997.7,951.36 998.45,950.81 999.2,950.62 999.95,950.89 1000.7,951.08 1001.45,951.33 1002.2,951.87 1002.95,952.12 1003.7,952.01 1004.45,952.07 1005.2,952.35 1005.95,952.6 1006.7,952.61 1007.45,952.63 1008.2,952.69 1008.95,952.77 1009.7,952.74 1010.45,952.38 1011.2,952.49 1011.95,953.04 1012.7,953.29 1013.45,953.49 1014.2,953.72 1014.95,953.84 1015.7,954.24 1016.45,954.34 1017.2,954.16 1017.95,954.54 1018.7,954.99 1019.45,954.53 1020.2,954.06 1020.95,954.52 1021.7,954.55 1022.45,954.32 1023.2,954.52 1023.95,954.57 1024.7,954.76 1025.45,954.91 1026.2,954.92 1026.95,954.98 1027.7,954.93 1028.45,954.99 1029.2,955.06 1029.95,955.4 1030.7,955.83 1031.45,955.51 1032.2,955.13 1032.95,955.2 1033.7,955.31 1034.45,955.51 1035.2,955.7 1035.95,955.75 1036.7,955.71 1037.45,955.73 1038.2,956.04 1038.95,956.17 1039.7,955.92 1040.45,955.9 1041.2,956.22 1041.95,956.58 1042.7,956.49 1043.45,956.13 1044.2,955.92 1044.95,955.72 1045.7,955.81 1046.45,956.27 1047.2,956.65 1047.95,956.67 1048.7,956.26 1049.45,956.06 1050.2,956.34 1050.95,956.52 1051.7,956.59 1052.45,956.68 1053.2,956.8 1053.95,956.89 1054.7,956.76 1055.45,956.63 1056.2,956.64 1056.95,956.51 1057.7,956.71 1058.45,957.07 1059.2,956.69 1059.95,956.43 1060.7,956.88 1061.45,957.12 1062.2,956.97 1062.95,956.75 1063.7,956.58 1064.45,956.37 1065.2,956.47 1065.95,956.75 1066.7,956.52 1067.45,956.23 1068.2,956.54 1068.95,957.04 1069.7,956.91 1070.45,956.48 1071.2,956.47 1071.95,956.71 1072.7,956.54 1073.45,956.25 1074.2,956.44 1074.95,956.41 1075.7,956.17 1076.45,956.34 1077.2,956.83 1077.95,957.03 1078.7,956.77 1079.45,956.47 1080.2,956.33 1080.95,956.54 1081.7,956.49 1082.45,956.03 1083.2,956.14 1083.95,956.26 1084.7,955.91 1085.45,956.05 1086.2,956.17 1086.95,955.82 1087.7,955.89 1088.45,956.27 1089.2,956.23 1089.95,956.03 1090.7,956.24 1091.45,956.42 1092.2,956.51 1092.95,956.46 1093.7,956.21 1094.45,955.78 1095.2,955.2 1095.95,955.01 1096.7,955.2 1097.45,955.55 1098.2,955.57 1098.95,955.16 1099.7,955.01 1100.45,954.86 1101.2,955.03 1101.95,955.59 1102.7,955.8 1103.45,955.93 1104.2,955.7 1104.95,954.9 1105.7,954.87 1106.45,955.45 1107.2,955.18 1107.95,954.87 1108.7,955.17 1109.45,955.13 1110.2,954.85 1110.95,954.86 1111.7,955 1112.45,955.1 1113.2,955.08 1113.95,954.82 1114.7,954.75 1115.45,954.89 1116.2,954.92 1116.95,954.75 1117.7,954.32 1118.45,953.81 1119.2,953.66 1119.95,953.59 1120.7,953.12 1121.45,952.75 1122.2,952.58 1122.95,952.58 1123.7,952.31 1124.45,951.71 1125.2,951.37 1125.95,951.36 1126.7,951.53 1127.45,951.09 1128.2,950.44 1128.95,950.61 1129.7,951.15 1130.45,951.33 1131.2,950.95 1131.95,950.44 1132.7,950.6 1133.45,950.9 1134.2,950.62 1134.95,950.41 1135.7,950.37 1136.45,950.67 1137.2,951.35 1137.95,951.63 1138.7,951.68 1139.45,951.91 1140.2,952.28 1140.95,952.43 1141.7,952.21 1142.45,952.01 1143.2,952.34 1143.95,952.93 1144.7,953.02 1145.45,953.11 1146.2,953.77 1146.95,954.54 1147.7,955.22 1148.45,955.51 1149.2,955.36 1149.95,955.41 1150.7,955.57 1151.45,955.61 1152.2,955.86 1152.95,956.09 1153.7,955.8 1154.45,955.31 1155.2,955.5 1155.95,955.87 1156.7,955.77 1157.45,955.88 1158.2,955.91 1158.95,955.51 1159.7,955.33 1160.45,955.4 1161.2,955.36 1161.95,955.46 1162.7,955.54 1163.45,955.45 1164.2,955.5 1164.95,955.46 1165.7,955.39 1166.45,955.53 1167.2,955.44 1167.95,955.3 1168.7,955.58 1169.45,955.78 1170.2,955.51 1170.95,955.45 1171.7,955.96 1172.45,956.21 1173.2,955.98 1173.95,955.47 1174.7,954.95 1175.45,954.7 1176.2,954.74 1176.95,954.77 1177.7,954.29 1178.45,953.62 1179.2,952.89 1179.95,952.38 1180.7,952.32 1181.45,952.2 1182.2,951.67 1182.95,950.55 1183.7,949.49 1184.45,948.68 1185.2,947.17 1185.95,945.32 1186.7,942.89 1187.45,939.67 1188.2,935 1188.95,929.73 1189.7,925.11 1190.45,921.33 1191.2,918.34 1191.95,915.64 1192.7,913.61 1193.45,912.66 1194.2,913.07 1194.95,914.35 1195.7,916.19 1196.45,918.27 1197.2,920.03 1197.95,921.54 1198.7,923.65 1199.45,925.91 1200.2,927.89 1200.95,929.73 1201.7,931.26 1202.45,933.06 1203.2,935.08 1203.95,937.09 1204.7,939.3 1205.45,940.42 1206.2,940.54 1206.95,941.28 1207.7,942.75 1208.45,944.21 1209.2,945.06 1209.95,945.32 1210.7,945.5 1211.45,945.7 1212.2,945.76 1212.95,946.17 1213.7,946.85 1214.45,946.8 1215.2,946.28 1215.95,946.33 1216.7,946.46 1217.45,945.89 1218.2,945.37 1218.95,945.2 1219.7,944.83 1220.45,944.13 1221.2,943.36 1221.95,942.74 1222.7,942.07 1223.45,941.38 1224.2,940.81 1224.95,939.85 1225.7,938.08 1226.45,935.84 1227.2,933.23 1227.95,930.72 1228.7,928 1229.45,926 1230.2,925.71 1230.95,927.08 1231.7,929.72 1232.45,932.68 1233.2,935 1233.95,937.27 1234.7,939.15 1235.45,940.29 1236.2,941.2 1236.95,942.39 1237.7,943.29 1238.45,943.58 1239.2,943.9 1239.95,944.54 1240.7,944.98 1241.45,944.81 1242.2,944.65 1242.95,945.03 1243.7,945.3 1244.45,945.52 1245.2,946.02 1245.95,946.34 1246.7,946.63 1247.45,946.82 1248.2,947.05 1248.95,947.33 1249.7,947.09 1250.45,946.99 1251.2,947.39 1251.95,947.64 1252.7,947.42 1253.45,947.34 1254.2,947.71 1254.95,948.19 1255.7,948.34 1256.45,948.05 1257.2,947.83 1257.95,947.65 1258.7,947.62 1259.45,948.16 1260.2,948.49 1260.95,948.31 1261.7,948.26 1262.45,948.7 1263.2,949.24 1263.95,949.4 1264.7,949.44 1265.45,949.5 1266.2,949.61 1266.95,949.44 1267.7,949.3 1268.45,949.85 1269.2,949.97 1269.95,949.54 1270.7,949.55 1271.45,949.45 1272.2,949.09 1272.95,948.69 1273.7,948.32 1274.45,948.47 1275.2,948.36 1275.95,947.64 1276.7,947.38 1277.45,947.24 1278.2,946.47 1278.95,945.59 1279.7,945.22 1280.45,945.31 1281.2,945.51 1281.95,945.46 1282.7,945.46 1283.45,945.84 1284.2,946.13 1284.95,946.25 1285.7,946.19 1286.45,946.2 1287.2,946.53 1287.95,946.86 1288.7,947.37 1289.45,948.03 1290.2,948.41 1290.95,948.41 1291.7,948.42 1292.45,948.83 1293.2,949.55 1293.95,950 1294.7,950.05 1295.45,950.15 1296.2,950.44 1296.95,950.99 1297.7,951.02 1298.45,950.68 1299.2,951.01 1299.95,951.06 1300.7,950.9 1301.45,951.4 1302.2,951.78 1302.95,951.68 1303.7,951.8 1304.45,952.3 1305.2,952.21 1305.95,952.11 1306.7,952.47 1307.45,952.55 1308.2,952.54 1308.95,952.24 1309.7,951.92 1310.45,952.22 1311.2,952.16 1311.95,951.9 1312.7,951.59 1313.45,950.93 1314.2,950.54 1314.95,950.15 1315.7,949.5 1316.45,948.7 1317.2,947.74 1317.95,947.11 1318.7,947 1319.45,947.58 1320.2,947.92 1320.95,947.06 1321.7,946.18 1322.45,946 1323.2,946 1323.95,945.59 1324.7,945.17 1325.45,945.26 1326.2,945.34 1326.95,945.12 1327.7,944.71 1328.45,945.04 1329.2,945.73 1329.95,946.1 1330.7,946.83 1331.45,947.57 1332.2,948.01 1332.95,948.47 1333.7,948.9 1334.45,949.16 1335.2,949.34 1335.95,950.09 1336.7,951.06 1337.45,951.26 1338.2,951.2 1338.95,951.26 1339.7,951.37 1340.45,951.71 1341.2,952.14 1341.95,952.37 1342.7,952 1343.45,951.73 1344.2,952.27 1344.95,953.17 1345.7,953.69 1346.45,953.33 1347.2,952.75 1347.95,952.62 1348.7,952.66 1349.45,952.69 1350.2,952.5 1350.95,952.33 1351.7,952.41 1352.45,952.09 1353.2,951.47 1353.95,951.22 1354.7,950.99 1355.45,950.25 1356.2,949.84 1356.95,949.77 1357.7,949.62 1358.45,949.79 1359.2,949.79 1359.95,949.81 1360.7,950.4 1361.45,950.76 1362.2,950.7 1362.95,950.91 1363.7,950.9 1364.45,950.81 1365.2,951.15 1365.95,951.14 1366.7,951.1 1367.45,951.52 1368.2,952.14 1368.95,952.67 1369.7,953.11 1370.45,953.67 1371.2,953.77 1371.95,953.55 1372.7,953.7 1373.45,953.76 1374.2,953.27 1374.95,953.02 1375.7,953.39 1376.45,953.7 1377.2,953.5 1377.95,953.08 1378.7,952.45 1379.45,951.88 1380.2,951.71 1380.95,951.76 1381.7,952.09 1382.45,952.21 1383.2,952.17 1383.95,952.33 1384.7,952.44 1385.45,952.52 1386.2,952.53 1386.95,952.32 1387.7,952.37 1388.45,953.05 1389.2,953.7 1389.95,953.76 1390.7,953.83 1391.45,954.3 1392.2,954.92 1392.95,955.58 1393.7,956.19 1394.45,957.04 1395.2,957.89 1395.95,958.32 1396.7,958.44 1397.45,958.31 1398.2,958.45 1398.95,959 1399.7,959.36 1400.45,959.53 1401.2,959.56 1401.95,959.35 1402.7,959.17 1403.45,958.44 1404.2,957.36 1404.95,956.7 1405.7,956.18 1406.45,955.6 1407.2,955.02 1407.95,954.78 1408.7,954.23 1409.45,953.22 1410.2,953.04 1410.95,953.46 1411.7,953.64 1412.45,953.68 1413.2,953.34 1413.95,953.04 1414.7,953.33 1415.45,953.73 1416.2,954.25 1416.95,955.02 1417.7,955.68 1418.45,956.07 1419.2,956.42 1419.95,957.4 1420.7,958.77 1421.45,959.34 1422.2,959.74 1422.95,960.56 1423.7,961.44 1424.45,962.35 1425.2,963.1 1425.95,963.47 1426.7,963.59 1427.45,963.68 1428.2,964.1 1428.95,964.57 1429.7,964.63 1430.45,964.38 1431.2,964.25 1431.95,964.67 1432.7,965.12 1433.45,964.79 1434.2,964.15 1434.95,964.24 1435.7,964.48 1436.45,964.26 1437.2,964.03 1437.95,964.04 1438.7,964 1439.45,963.63 1440.2,963.25 1440.95,963 1441.7,962.78 1442.45,962.49 1443.2,961.86 1443.95,961.52 1444.7,961.49 1445.45,960.97 1446.2,960.49 1446.95,960.21 1447.7,959.94 1448.45,959.78 1449.2,959.62 1449.95,959.26 1450.7,959.04 1451.45,959.37 1452.2,959.57 1452.95,959.27 1453.7,958.84 1454.45,958.6 1455.2,958.81 1455.95,959 1456.7,959.09 1457.45,959.35 1458.2,959.5 1458.95,959.5 1459.7,959.46 1460.45,959.57 1461.2,959.89 1461.95,960.11 1462.7,959.98 1463.45,959.61 1464.2,959.33 1464.95,958.82 1465.7,958.14 1466.45,957.78 1467.2,957.08 1467.95,955.92 1468.7,955.04 1469.45,954.45 1470.2,954.04 1470.95,953.86 1471.7,953.24 1472.45,952.58 1473.2,952.54 1473.95,952.3 1474.7,952.01 1475.45,951.99 1476.2,952.05 1476.95,952.26 1477.7,952.7 1478.45,953.04 1479.2,953.26 1479.95,953.77 1480.7,954.78 1481.45,955.97 1482.2,957 1482.95,957.45 1483.7,957.53 1484.45,958.07 1485.2,958.77 1485.95,959.31 1486.7,959.85 1487.45,960.16 1488.2,960.25 1488.95,960.3 1489.7,960.58 1490.45,960.9 1491.2,960.73 1491.95,960 1492.7,959.51 1493.45,959.39 1494.2,959.42 1494.95,959.41 1495.7,959.07 1496.45,958.61 1497.2,958.18 1497.95,958.01 1498.7,958.14 1499.45,957.94 1500.2,957.35 1500.95,956.71 1501.7,956.04 1502.45,955.71 1503.2,955.68 1503.95,955.7 1504.7,955.85 1505.45,955.69 1506.2,955.86 1506.95,956.81 1507.7,958.08 1508.45,959.33 1509.2,959.72 1509.95,959.01 1510.7,957.69 1511.45,956.13 1512.2,954.65 1512.95,953.88 1513.7,953.64 1514.45,953.41 1515.2,953.2 1515.95,954.57 1516.7,957.86 1517.45,960.7 1518.2,963.02 1518.95,964.07 1519.7,964.78 1520.45,965.9 1521.2,966.41 1521.95,966.2 1522.7,966.07 1523.45,966.39 1524.2,966.84 1524.95,967.24 1525.2,967.52"/>
</g>
<rect x="517.5" y="13.2" width="100.2" height="1020.8" fill="#ED7D31" fill-opacity="0.5"/>
<rect x="1055.5" y="11.9" width="59.4" height="1020.1" fill="#ED7D31" fill-opacity="0.5"/>
<rect x="1153.3" y="11.5" width="94.9" height="1018.9" fill="#ED7D31" fill-opacity="0.5"/>
<rect x="1355.1" y="8.4" width="35" height="1025.9" fill="#ED7D31" fill-opacity="0.5"/>
<path d="M130.8,1035.1 H1525.1" fill="none" stroke="#000" stroke-width="2.6"/>
</g>
<g id="chart-b">
<rect x="254.9" y="1440.4" width="96" height="439.8" fill="url(#hatch)"/>
<rect x="256.2" y="1441.7" width="93.4" height="438.5" fill="none" stroke="#000" stroke-width="2.6"/>
<rect x="236.2" y="1432.4" width="18.7" height="447.8" fill="#CFCFCF"/>
<rect x="350.9" y="1432.4" width="17.2" height="447.8" fill="#CFCFCF"/>
<rect x="254.9" y="1432.4" width="96" height="8" fill="#CFCFCF"/>
<rect x="254.9" y="1440.4" width="96" height="439.8" fill="url(#hatch2)"/>
<path d="M256.2,1880.2 V1441.7 H349.6 V1880.2" fill="none" stroke="#424242" stroke-width="2.6"/>
<path d="M303.2,1389.9 V1492.9 M295.5,1389.9 H310.9 M295.5,1492.9 H310.9 M303.2,1367.8 V1496.4 M295.5,1367.8 H310.9 M295.5,1496.4 H310.9" fill="none" stroke="#404040" stroke-width="2.1"/>
<rect x="599.5" y="1592.7" width="96.3" height="287.5" fill="url(#hatch)"/>
<rect x="600.8" y="1594" width="93.7" height="286.2" fill="none" stroke="#000" stroke-width="2.6"/>
<rect x="580.9" y="1650.6" width="18.6" height="229.6" fill="#CFCFCF"/>
<rect x="695.8" y="1650.6" width="18.3" height="229.6" fill="#CFCFCF"/>
<rect x="599.5" y="1650.6" width="96.3" height="229.6" fill="url(#hatch2)"/>
<path d="M600.8,1880.2 V1650.6 M694.5,1650.6 V1880.2" fill="none" stroke="#424242" stroke-width="2.6"/>
<path d="M647.4,1542.8 V1646.9 M639.7,1542.8 H655.1 M639.7,1646.9 H655.1 M647.4,1586.4 V1714.6 M639.7,1586.4 H655.1 M639.7,1714.6 H655.1" fill="none" stroke="#404040" stroke-width="2.1"/>
<rect x="944.1" y="1344.7" width="96.1" height="535.5" fill="url(#hatch)"/>
<rect x="945.4" y="1346" width="93.5" height="534.2" fill="none" stroke="#000" stroke-width="2.6"/>
<rect x="926.9" y="1358.8" width="17.2" height="521.4" fill="#CFCFCF"/>
<rect x="1040.2" y="1358.8" width="18.8" height="521.4" fill="#CFCFCF"/>
<rect x="944.1" y="1358.8" width="96.1" height="521.4" fill="url(#hatch2)"/>
<path d="M945.4,1880.2 V1358.8 M1038.9,1358.8 V1880.2" fill="none" stroke="#424242" stroke-width="2.6"/>
<path d="M992.1,1295.1 V1399.2 M984.4,1295.1 H999.8 M984.4,1399.2 H999.8 M992.1,1292.9 V1422.5 M984.4,1292.9 H999.8 M984.4,1422.5 H999.8" fill="none" stroke="#404040" stroke-width="2.1"/>
<rect x="1290.2" y="1505.3" width="96.2" height="374.9" fill="url(#hatch)"/>
<rect x="1291.5" y="1506.6" width="93.6" height="373.6" fill="none" stroke="#000" stroke-width="2.6"/>
<rect x="1271.8" y="1549" width="18.4" height="331.2" fill="#CFCFCF"/>
<rect x="1386.4" y="1549" width="17.7" height="331.2" fill="#CFCFCF"/>
<rect x="1290.2" y="1549" width="96.2" height="331.2" fill="url(#hatch2)"/>
<path d="M1291.5,1880.2 V1549 M1385.1,1549 V1880.2" fill="none" stroke="#424242" stroke-width="2.6"/>
<path d="M1338.3,1455.5 V1559.2 M1330.6,1455.5 H1346 M1330.6,1559.2 H1346 M1338.3,1485.1 V1614.3 M1330.6,1485.1 H1346 M1330.6,1614.3 H1346" fill="none" stroke="#404040" stroke-width="2.1"/>
<path d="M130.8,1214.4 H1510.6 V1996.8 H130.8 Z M130.8,1880.2 H1510.6 M820,1880.2 V1996.8" fill="none" stroke="#000" stroke-width="1.45"/>
<rect x="702.1" y="1245.5" width="20.2" height="19.6" fill="url(#hatch)"/>
<rect x="703.4" y="1246.8" width="17.6" height="17" fill="none" stroke="#000" stroke-width="2.6"/>
<rect x="850.5" y="1247" width="14.9" height="16.7" fill="#CFCFCF"/>
</g>
<g id="labels">
<text transform="translate(145.16,378.2) scale(1.0769,1)" font-size="31.2">CSNPs</text>
<text transform="translate(143.13,505.5) scale(1.0794,1)" font-size="31.2">PAV aged binder+CSNPs</text>
<text transform="translate(141.82,586.9) scale(1.0844,1)" font-size="31.2">RTFO aged binder+CSNPs</text>
<text transform="translate(143.83,660.3) scale(1.0716,1)" font-size="31.2">Unaged binder+CSNPs</text>
<text transform="translate(140.93,830.1) scale(1.0797,1)" font-size="31.2">PAV aged binder</text>
<text transform="translate(138.42,904.1) scale(1.0860,1)" font-size="31.2">RTFO aged binder</text>
<text transform="translate(146.23,984.5) scale(1.0728,1)" font-size="31.2">Unaged binder</text>
<text transform="translate(6.96,1125.6) scale(0.9853,1)" font-size="38.5">a)</text>
<text transform="translate(3.6,2025.5) scale(1.0179,1)" font-size="38.8">b)</text>
<text transform="translate(727.08,1266.2) scale(1.0448,1)" font-size="31.6">C=O</text>
<text transform="translate(872.6,1266.2) scale(1.0524,1)" font-size="31.6">S=O</text>
<text transform="translate(197.7,1929) scale(1.0530,1)" font-size="31.2">Without CSNPs</text>
<text transform="translate(563.7,1929) scale(1.0542,1)" font-size="31.2">With CSNPs</text>
<text transform="translate(887,1929) scale(1.0555,1)" font-size="31.2">Without CSNPs</text>
<text transform="translate(1253.8,1929) scale(1.0535,1)" font-size="31.2">With CSNPs</text>
<text transform="translate(369.05,1986.9) scale(1.0171,1)" font-size="32">Short-term aged</text>
<text transform="translate(1059.95,1986.9) scale(1.0216,1)" font-size="32">Long-term aged</text>
<text transform="translate(188.2,1080.7) scale(0.9950,1)" font-size="30.5">3700</text>
<text transform="translate(406.05,1080.7) scale(0.9950,1)" font-size="30.5">3200</text>
<text transform="translate(623.9,1080.7) scale(0.9950,1)" font-size="30.5">2700</text>
<text transform="translate(841.75,1080.7) scale(0.9950,1)" font-size="30.5">2200</text>
<text transform="translate(1058.99,1080.7) scale(0.9950,1)" font-size="30.5">1700</text>
<text transform="translate(1276.84,1080.7) scale(0.9950,1)" font-size="30.5">1200</text>
<text transform="translate(1502.58,1080.7) scale(0.9950,1)" font-size="30.5">700</text>
<text transform="translate(690.8,1125.3) scale(1.0525,1)" font-size="32.6">Wavenumber (cm<tspan font-size="20.21" dy="-11.74">-1</tspan><tspan dy="11.74">)</tspan></text>
<text transform="translate(106.5,630.2) rotate(-90) scale(1.0603,1)" font-size="32">Absorbance</text>
<text transform="translate(558.1,192.8) rotate(-90) scale(0.9970,1)" font-size="32.5" class="bl">Aliphatic</text>
<text transform="translate(593.2,218.2) rotate(-90) scale(1.0062,1)" font-size="34" class="bl">hydrocarbons</text>
<text transform="translate(1096.3,204.05) rotate(-90) scale(0.9904,1)" font-size="34" class="bl">Carbonyls</text>
<text transform="translate(1194.3,197.7) rotate(-90) scale(0.9538,1)" font-size="34" class="bl">Aliphatic</text>
<text transform="translate(1229.7,222) rotate(-90) scale(1.0094,1)" font-size="34" class="bl">hydrocarbons</text>
<text transform="translate(1385.8,454.12) rotate(-90) scale(0.9922,1)" font-size="34" class="bl">Sulfoxides</text>
<text transform="translate(53,1631.11) rotate(-90) scale(0.9928,1)" font-size="33">CR (IC=O)</text>
<text transform="translate(1624.4,1591.71) rotate(-90) scale(0.9931,1)" font-size="33">CR (IS=O)</text>
<text x="90.15" y="1890.6" font-size="28.2">0</text>
<text x="90.15" y="1795.49" font-size="28.2">5</text>
<text x="76.05" y="1700.37" font-size="28.2">10</text>
<text x="76.05" y="1605.26" font-size="28.2">15</text>
<text x="76.05" y="1510.14" font-size="28.2">20</text>
<text x="76.05" y="1415.03" font-size="28.2">25</text>
<text x="76.05" y="1319.91" font-size="28.2">30</text>
<text x="76.05" y="1224.8" font-size="28.2">35</text>
<text x="1534.95" y="1890.6" font-size="28.2">0</text>
<text x="1534.95" y="1824.02" font-size="28.2">0.5</text>
<text x="1533.54" y="1757.44" font-size="28.2">1</text>
<text x="1533.54" y="1690.86" font-size="28.2">1.5</text>
<text x="1534.67" y="1624.28" font-size="28.2">2</text>
<text x="1534.67" y="1557.7" font-size="28.2">2.5</text>
<text x="1534.67" y="1491.12" font-size="28.2">3</text>
<text x="1534.67" y="1424.54" font-size="28.2">3.5</text>
<text x="1535.52" y="1357.96" font-size="28.2">4</text>
<text x="1535.52" y="1291.38" font-size="28.2">4.5</text>
<text x="1534.39" y="1224.8" font-size="28.2">5</text>
</g>
</svg></body></html>
